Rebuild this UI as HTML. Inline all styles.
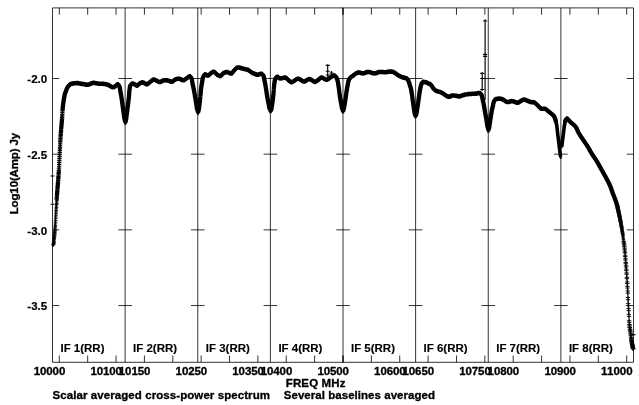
<!DOCTYPE html>
<html><head><meta charset="utf-8"><title>POSSM spectrum</title>
<style>
html,body{margin:0;padding:0;background:#fff;}
body{width:639px;height:405px;overflow:hidden;}
svg{display:block;filter:blur(0.35px);}
text{font-family:"Liberation Sans",sans-serif;font-weight:bold;font-size:11.5px;fill:#000;stroke:#000;stroke-width:0.32px;stroke-linejoin:round;}
text.pl{stroke-width:0.12px;}
text.yl{stroke-width:0.22px;}
.ax{stroke:#000;stroke-width:0.8;fill:none;}
.mk{stroke:#000;stroke-width:1.5;fill:none;}
.mk2{stroke:#000;stroke-width:1.4;fill:none;}
.mh2{stroke:#000;stroke-width:0.9;fill:none;}
.mh{stroke:#000;stroke-width:1.25;fill:none;}
.eb{stroke:#000;stroke-width:1.15;fill:none;}
</style></head><body>
<svg width="639" height="405" viewBox="0 0 639 405">
<rect width="639" height="405" fill="#fff"/>
<path class="ax" d="M52.5 7.9H633.5V362.3H52.5ZM125.12 7.9V362.3M197.75 7.9V362.3M270.38 7.9V362.3M343.00 7.9V362.3M415.62 7.9V362.3M488.25 7.9V362.3M560.88 7.9V362.3M52.5 78.50h6.8M633.5 78.50h-6.8M118.33 78.50h13.6M190.95 78.50h13.6M263.57 78.50h13.6M336.20 78.50h13.6M408.82 78.50h13.6M481.45 78.50h13.6M554.08 78.50h13.6M52.5 154.18h6.8M633.5 154.18h-6.8M118.33 154.18h13.6M190.95 154.18h13.6M263.57 154.18h13.6M336.20 154.18h13.6M408.82 154.18h13.6M481.45 154.18h13.6M554.08 154.18h13.6M52.5 229.86h6.8M633.5 229.86h-6.8M118.33 229.86h13.6M190.95 229.86h13.6M263.57 229.86h13.6M336.20 229.86h13.6M408.82 229.86h13.6M481.45 229.86h13.6M554.08 229.86h13.6M52.5 305.54h6.8M633.5 305.54h-6.8M118.33 305.54h13.6M190.95 305.54h13.6M263.57 305.54h13.6M336.20 305.54h13.6M408.82 305.54h13.6M481.45 305.54h13.6M554.08 305.54h13.6M59.31 7.9v6.8M59.31 362.3v-6.8M87.68 7.9v6.8M87.68 362.3v-6.8M116.05 7.9v6.8M116.05 362.3v-6.8M144.42 7.9v6.8M144.42 362.3v-6.8M172.79 7.9v6.8M172.79 362.3v-6.8M201.15 7.9v6.8M201.15 362.3v-6.8M229.52 7.9v6.8M229.52 362.3v-6.8M257.89 7.9v6.8M257.89 362.3v-6.8M286.26 7.9v6.8M286.26 362.3v-6.8M314.63 7.9v6.8M314.63 362.3v-6.8M343.00 7.9v6.8M343.00 362.3v-6.8M343.00 7.9v6.8M343.00 362.3v-6.8M371.37 7.9v6.8M371.37 362.3v-6.8M399.74 7.9v6.8M399.74 362.3v-6.8M428.11 7.9v6.8M428.11 362.3v-6.8M456.48 7.9v6.8M456.48 362.3v-6.8M484.85 7.9v6.8M484.85 362.3v-6.8M513.21 7.9v6.8M513.21 362.3v-6.8M541.58 7.9v6.8M541.58 362.3v-6.8M569.95 7.9v6.8M569.95 362.3v-6.8M598.32 7.9v6.8M598.32 362.3v-6.8M626.69 7.9v6.8M626.69 362.3v-6.8"/>
<path class="eb" d="M327.7 64.3V78M325.7 65.3h4M325.7 71.25h4M325.7 75h4M485.1 19.2V100M483.1 21h4M483.1 54.3h4M483.1 56.4h4M482.2 72.2V91M480.2 73.4h4M480.2 78.5h4M480.2 89.5h4M50.5 176h4M50.5 204.2h4M631.5 334.6h4M329.5 73h4M331.5 71v4"/>
<path class="mk" d="M56.69 196.98v4.2M56.79 195.97v4.2M56.88 194.60v4.2M56.98 193.00v4.2M57.07 191.78v4.2M57.17 190.63v4.2M57.26 189.33v4.2M57.36 188.18v4.2M57.45 186.77v4.2M57.55 185.76v4.2M57.64 184.56v4.2M57.74 183.28v4.2M57.83 182.28v4.2M57.93 181.29v4.2M58.02 180.15v4.2M58.12 178.88v4.2M58.21 177.76v4.2M58.30 176.35v4.2M58.40 175.21v4.2M58.49 174.17v4.2M58.59 172.69v4.2M58.68 171.21v4.2M58.78 169.90v4.2M58.87 168.43v4.2M58.97 166.74v4.2M59.06 164.69v4.2M59.16 162.62v4.2M59.25 160.51v4.2M59.35 158.52v4.2M59.44 156.46v4.2M59.54 154.46v4.2M59.63 152.55v4.2M59.73 150.41v4.2M59.82 148.46v4.2M59.92 146.80v4.2M60.01 145.02v4.2M60.10 143.01v4.2M60.20 141.12v4.2M60.29 139.29v4.2M60.39 137.75v4.2M60.48 136.35v4.2M60.58 134.77v4.2M60.67 133.26v4.2M60.77 132.05v4.2M60.86 130.53v4.2M60.96 129.42v4.2M61.05 128.43v4.2M61.15 127.14v4.2M61.24 125.98v4.2M61.34 124.80v4.2M61.43 123.82v4.2M61.53 122.89v4.2M61.62 121.40v4.2M61.72 120.57v4.2M61.81 119.42v4.2M61.90 118.23v4.2M62.00 116.90v4.2M62.09 115.60v4.2M62.19 114.08v4.2M62.28 112.49v4.2M62.38 110.64v4.2M62.47 108.86v4.2M62.57 107.92v4.2M62.66 106.65v4.2M62.76 105.45v4.2M62.85 104.61v4.2M62.95 103.71v4.2M63.04 102.83v4.2M63.14 102.05v4.2M63.23 101.39v4.2M63.33 100.73v4.2M63.42 100.07v4.2M63.52 99.38v4.2M63.61 98.61v4.2M63.70 98.11v4.2M63.80 97.53v4.2M63.89 97.14v4.2M63.99 96.70v4.2M64.08 96.13v4.2M64.18 95.59v4.2M64.27 95.05v4.2M64.37 94.29v4.2M64.46 94.01v4.2M64.56 93.45v4.2M64.65 92.76v4.2M64.75 92.32v4.2M64.84 91.95v4.2M64.94 91.92v4.2M65.03 91.41v4.2M65.13 91.06v4.2M65.22 91.00v4.2M65.31 90.63v4.2M65.41 90.26v4.2M65.50 90.03v4.2M65.60 89.91v4.2M65.69 89.49v4.2M65.79 89.26v4.2M65.88 89.16v4.2M65.98 88.78v4.2M66.07 88.45v4.2M66.17 88.25v4.2M66.26 87.81v4.2M66.36 87.71v4.2M66.45 87.48v4.2M66.55 87.17v4.2M66.64 86.92v4.2M66.74 87.03v4.2M66.83 86.67v4.2M66.93 86.35v4.2M67.02 86.31v4.2M67.11 86.21v4.2M67.21 85.71v4.2M67.30 85.53v4.2M67.40 85.41v4.2M67.49 85.47v4.2M67.59 85.08v4.2M67.68 85.14v4.2M67.78 84.97v4.2M67.87 84.77v4.2M67.97 84.48v4.2M68.06 84.63v4.2M68.16 84.41v4.2M68.25 84.16v4.2M68.35 83.90v4.2M68.44 83.94v4.2M68.54 83.70v4.2M68.63 83.65v4.2M68.73 83.43v4.2M68.82 83.44v4.2M68.91 83.11v4.2M69.01 83.11v4.2M69.10 83.28v4.2M69.20 83.16v4.2M69.29 82.84v4.2M69.39 82.97v4.2M69.48 82.67v4.2M69.58 82.84v4.2M69.67 82.68v4.2M69.77 82.47v4.2M69.86 82.33v4.2M69.96 82.17v4.2M70.05 82.45v4.2M70.15 82.05v4.2M70.24 82.30v4.2M70.34 82.31v4.2M70.43 82.10v4.2M70.53 81.90v4.2M70.62 82.14v4.2M70.71 82.15v4.2M70.81 82.00v4.2M70.90 81.89v4.2M71.00 81.81v4.2M71.09 81.76v4.2M71.19 81.68v4.2M71.28 81.84v4.2M71.38 81.71v4.2M71.47 81.59v4.2M71.57 81.53v4.2M71.66 81.73v4.2M71.76 81.56v4.2M71.85 81.62v4.2M71.95 81.52v4.2M72.04 81.72v4.2M72.14 81.71v4.2M72.23 81.34v4.2M72.32 81.40v4.2M72.42 81.43v4.2M72.51 81.67v4.2M72.61 81.58v4.2M72.70 81.38v4.2M72.80 81.32v4.2M72.89 81.49v4.2M72.99 81.54v4.2M73.08 81.56v4.2M73.18 81.31v4.2M73.27 81.51v4.2M73.37 81.42v4.2M73.46 81.32v4.2M73.56 81.51v4.2M73.65 81.20v4.2M73.75 81.38v4.2M73.84 81.11v4.2M73.94 81.13v4.2M74.03 81.41v4.2M74.12 81.12v4.2M74.22 81.32v4.2M74.31 81.25v4.2M74.41 81.33v4.2M74.50 81.13v4.2M74.60 81.11v4.2M74.69 81.07v4.2M74.79 81.29v4.2M74.88 81.18v4.2M74.98 81.31v4.2M75.07 81.27v4.2M75.17 80.96v4.2M75.26 81.11v4.2M75.36 80.92v4.2M75.45 80.89v4.2M75.55 80.89v4.2M75.64 81.20v4.2M75.74 81.16v4.2M75.83 81.17v4.2M75.92 80.97v4.2M76.02 81.07v4.2M76.11 81.14v4.2M76.21 80.97v4.2M76.30 81.04v4.2M76.40 80.90v4.2M76.49 80.84v4.2M76.59 80.91v4.2M76.68 81.16v4.2M76.78 81.03v4.2M76.87 81.17v4.2M76.97 80.98v4.2M77.06 80.91v4.2M77.16 81.12v4.2M77.25 81.14v4.2M77.35 80.82v4.2M77.44 81.09v4.2M77.54 80.86v4.2M77.63 80.88v4.2M77.72 81.19v4.2M77.82 80.87v4.2M77.91 80.96v4.2M78.01 81.27v4.2M78.10 81.05v4.2M78.20 80.94v4.2M78.29 80.98v4.2M78.39 81.02v4.2M78.48 81.24v4.2M78.58 80.99v4.2M78.67 81.33v4.2M78.77 81.14v4.2M78.86 81.39v4.2M78.96 81.38v4.2M79.05 81.15v4.2M79.15 81.16v4.2M79.24 81.26v4.2M79.33 81.13v4.2M79.43 81.37v4.2M79.52 81.15v4.2M79.62 81.15v4.2M79.71 81.56v4.2M79.81 81.31v4.2M79.90 81.45v4.2M80.00 81.41v4.2M80.09 81.38v4.2M80.19 81.30v4.2M80.28 81.66v4.2M80.38 81.70v4.2M80.47 81.72v4.2M80.57 81.40v4.2M80.66 81.46v4.2M80.76 81.64v4.2M80.85 81.80v4.2M80.95 81.65v4.2M81.04 81.72v4.2M81.13 81.73v4.2M81.23 81.59v4.2M81.32 81.72v4.2M81.42 81.64v4.2M81.51 81.64v4.2M81.61 81.59v4.2M81.70 81.68v4.2M81.80 81.98v4.2M81.89 81.78v4.2M81.99 81.87v4.2M82.08 81.89v4.2M82.18 82.02v4.2M82.27 81.82v4.2M82.37 81.80v4.2M82.46 81.82v4.2M82.56 81.83v4.2M82.65 82.06v4.2M82.75 82.10v4.2M82.84 81.88v4.2M82.93 81.91v4.2M83.03 82.01v4.2M83.12 82.04v4.2M83.22 82.07v4.2M83.31 81.94v4.2M83.41 81.87v4.2M83.50 81.98v4.2M83.60 81.93v4.2M83.69 82.14v4.2M83.79 81.97v4.2M83.88 81.98v4.2M83.98 82.23v4.2M84.07 82.11v4.2M84.17 82.33v4.2M84.26 82.22v4.2M84.36 82.39v4.2M84.45 82.12v4.2M84.55 82.28v4.2M84.64 82.41v4.2M84.73 82.14v4.2M84.83 82.51v4.2M84.92 82.21v4.2M85.02 82.47v4.2M85.11 82.57v4.2M85.21 82.52v4.2M85.30 82.33v4.2M85.40 82.26v4.2M85.49 82.44v4.2M85.59 82.62v4.2M85.68 82.38v4.2M85.78 82.63v4.2M85.87 82.34v4.2M85.97 82.66v4.2M86.06 82.32v4.2M86.16 82.45v4.2M86.25 82.69v4.2M86.34 82.66v4.2M86.44 82.71v4.2M86.53 82.69v4.2M86.63 82.66v4.2M86.72 82.65v4.2M86.82 82.45v4.2M86.91 82.56v4.2M87.01 82.45v4.2M87.10 82.68v4.2M87.20 82.66v4.2M87.29 82.50v4.2M87.39 82.43v4.2M87.48 82.79v4.2M87.58 82.72v4.2M87.67 82.62v4.2M87.77 82.61v4.2M87.86 82.72v4.2M87.96 82.55v4.2M88.05 82.52v4.2M88.14 82.48v4.2M88.24 82.43v4.2M88.33 82.32v4.2M88.43 82.55v4.2M88.52 82.43v4.2M88.62 82.47v4.2M88.71 82.24v4.2M88.81 82.33v4.2M88.90 82.21v4.2M89.00 82.18v4.2M89.09 82.20v4.2M89.19 82.39v4.2M89.28 82.18v4.2M89.38 82.15v4.2M89.47 82.20v4.2M89.57 82.01v4.2M89.66 81.88v4.2M89.76 82.05v4.2M89.85 82.00v4.2M89.94 82.01v4.2M90.04 81.89v4.2M90.13 81.95v4.2M90.23 81.92v4.2M90.32 81.68v4.2M90.42 81.74v4.2M90.51 81.69v4.2M90.61 81.55v4.2M90.70 81.58v4.2M90.80 81.60v4.2M90.89 81.69v4.2M90.99 81.65v4.2M91.08 81.35v4.2M91.18 81.46v4.2M91.27 81.18v4.2M91.37 81.15v4.2M91.46 81.28v4.2M91.56 81.39v4.2M91.65 81.06v4.2M91.74 81.27v4.2M91.84 81.28v4.2M91.93 81.01v4.2M92.03 81.13v4.2M92.12 81.16v4.2M92.22 80.94v4.2M92.31 81.04v4.2M92.41 81.02v4.2M92.50 80.93v4.2M92.60 81.01v4.2M92.69 81.00v4.2M92.79 81.01v4.2M92.88 80.83v4.2M92.98 80.65v4.2M93.07 80.66v4.2M93.17 80.63v4.2M93.26 80.76v4.2M93.35 80.82v4.2M93.45 80.53v4.2M93.54 80.78v4.2M93.64 80.79v4.2M93.73 80.64v4.2M93.83 80.71v4.2M93.92 80.57v4.2M94.02 80.80v4.2M94.11 80.53v4.2M94.21 80.91v4.2M94.30 80.86v4.2M94.40 80.79v4.2M94.49 80.66v4.2M94.59 80.94v4.2M94.68 80.97v4.2M94.78 80.66v4.2M94.87 80.93v4.2M94.97 80.98v4.2M95.06 80.92v4.2M95.15 80.96v4.2M95.25 80.88v4.2M95.34 81.09v4.2M95.44 81.13v4.2M95.53 80.92v4.2M95.63 81.11v4.2M95.72 80.99v4.2M95.82 80.91v4.2M95.91 81.00v4.2M96.01 80.94v4.2M96.10 81.28v4.2M96.20 81.33v4.2M96.29 81.02v4.2M96.39 81.23v4.2M96.48 81.18v4.2M96.58 81.09v4.2M96.67 81.18v4.2M96.77 81.19v4.2M96.86 81.41v4.2M96.95 81.13v4.2M97.05 81.23v4.2M97.14 81.35v4.2M97.24 81.20v4.2M97.33 81.46v4.2M97.43 81.47v4.2M97.52 81.58v4.2M97.62 81.34v4.2M97.71 81.38v4.2M97.81 81.50v4.2M97.90 81.40v4.2M98.00 81.53v4.2M98.09 81.41v4.2M98.19 81.59v4.2M98.28 81.64v4.2M98.38 81.65v4.2M98.47 81.72v4.2M98.57 81.56v4.2M98.66 81.54v4.2M98.75 81.69v4.2M98.85 81.66v4.2M98.94 81.59v4.2M99.04 81.52v4.2M99.13 81.49v4.2M99.23 81.42v4.2M99.32 81.70v4.2M99.42 81.43v4.2M99.51 81.69v4.2M99.61 81.61v4.2M99.70 81.78v4.2M99.80 81.71v4.2M99.89 81.79v4.2M99.99 81.46v4.2M100.08 81.61v4.2M100.18 81.64v4.2M100.27 81.54v4.2M100.36 81.62v4.2M100.46 81.57v4.2M100.55 81.64v4.2M100.65 81.43v4.2M100.74 81.61v4.2M100.84 81.62v4.2M100.93 81.56v4.2M101.03 81.60v4.2M101.12 81.76v4.2M101.22 81.72v4.2M101.31 81.65v4.2M101.41 81.71v4.2M101.50 81.61v4.2M101.60 81.54v4.2M101.69 81.46v4.2M101.79 81.58v4.2M101.88 81.71v4.2M101.98 81.83v4.2M102.07 81.81v4.2M102.16 81.68v4.2M102.26 81.88v4.2M102.35 81.67v4.2M102.45 81.82v4.2M102.54 81.66v4.2M102.64 81.80v4.2M102.73 81.90v4.2M102.83 81.63v4.2M102.92 81.58v4.2M103.02 81.77v4.2M103.11 81.73v4.2M103.21 81.67v4.2M103.30 81.53v4.2M103.40 81.69v4.2M103.49 81.71v4.2M103.59 81.71v4.2M103.68 81.90v4.2M103.78 81.80v4.2M103.87 81.86v4.2M103.96 81.94v4.2M104.06 81.88v4.2M104.15 81.79v4.2M104.25 81.90v4.2M104.34 81.86v4.2M104.44 81.88v4.2M104.53 81.88v4.2M104.63 81.80v4.2M104.72 81.91v4.2M104.82 81.92v4.2M104.91 82.06v4.2M105.01 82.01v4.2M105.10 82.06v4.2M105.20 82.04v4.2M105.29 82.08v4.2M105.39 82.02v4.2M105.48 81.94v4.2M105.58 81.93v4.2M105.67 82.13v4.2M105.76 82.22v4.2M105.86 82.11v4.2M105.95 81.98v4.2M106.05 82.28v4.2M106.14 82.16v4.2M106.24 82.18v4.2M106.33 82.04v4.2M106.43 82.26v4.2M106.52 82.38v4.2M106.62 82.28v4.2M106.71 82.28v4.2M106.81 82.44v4.2M106.90 82.21v4.2M107.00 82.44v4.2M107.09 82.65v4.2M107.19 82.58v4.2M107.28 82.49v4.2M107.37 82.64v4.2M107.47 82.64v4.2M107.56 82.51v4.2M107.66 82.55v4.2M107.75 82.85v4.2M107.85 82.64v4.2M107.94 82.60v4.2M108.04 82.93v4.2M108.13 82.84v4.2M108.23 82.81v4.2M108.32 82.91v4.2M108.42 83.03v4.2M108.51 82.84v4.2M108.61 83.06v4.2M108.70 83.12v4.2M108.80 83.20v4.2M108.89 83.03v4.2M108.99 83.21v4.2M109.08 83.10v4.2M109.17 83.28v4.2M109.27 83.18v4.2M109.36 83.48v4.2M109.46 83.56v4.2M109.55 83.41v4.2M109.65 83.42v4.2M109.74 83.78v4.2M109.84 83.73v4.2M109.93 83.85v4.2M110.03 83.59v4.2M110.12 84.00v4.2M110.22 83.95v4.2M110.31 83.89v4.2M110.41 84.00v4.2M110.50 84.20v4.2M110.60 84.27v4.2M110.69 84.10v4.2M110.79 84.34v4.2M110.88 84.21v4.2M110.97 84.60v4.2M111.07 84.45v4.2M111.16 84.69v4.2M111.26 84.68v4.2M111.35 84.69v4.2M111.45 84.60v4.2M111.54 84.76v4.2M111.64 84.66v4.2M111.73 84.71v4.2M111.83 84.98v4.2M111.92 84.88v4.2M112.02 85.08v4.2M112.11 84.91v4.2M112.21 85.14v4.2M112.30 85.17v4.2M112.40 85.03v4.2M112.49 84.98v4.2M112.59 85.12v4.2M112.68 85.17v4.2M112.77 85.03v4.2M112.87 85.07v4.2M112.96 85.02v4.2M113.06 85.24v4.2M113.15 85.35v4.2M113.25 85.07v4.2M113.34 84.98v4.2M113.44 85.22v4.2M113.53 85.24v4.2M113.63 85.27v4.2M113.72 85.09v4.2M113.82 84.95v4.2M113.91 85.10v4.2M114.01 84.77v4.2M114.10 84.95v4.2M114.20 84.66v4.2M114.29 84.73v4.2M114.38 84.71v4.2M114.48 84.61v4.2M114.57 84.47v4.2M114.67 84.43v4.2M114.76 84.61v4.2M114.86 84.40v4.2M114.95 84.39v4.2M115.05 84.18v4.2M115.14 84.32v4.2M115.24 84.10v4.2M115.33 84.14v4.2M115.43 84.21v4.2M115.52 84.18v4.2M115.62 83.74v4.2M115.71 83.96v4.2M115.81 83.90v4.2M115.90 83.60v4.2M116.00 83.52v4.2M116.09 83.50v4.2M116.18 83.53v4.2M116.28 83.21v4.2M116.37 83.29v4.2M116.47 83.13v4.2M116.56 82.78v4.2M116.66 82.98v4.2M116.75 82.51v4.2M116.85 82.47v4.2M116.94 82.58v4.2M117.04 82.25v4.2M117.13 82.30v4.2M117.23 82.13v4.2M117.32 82.20v4.2M117.42 82.30v4.2M117.51 82.29v4.2M117.61 81.92v4.2M117.70 81.92v4.2M117.80 82.25v4.2M117.89 81.95v4.2M117.98 82.09v4.2M118.08 82.09v4.2M118.17 82.15v4.2M118.27 82.22v4.2M118.36 82.56v4.2M118.46 82.72v4.2M118.55 82.83v4.2M118.65 83.04v4.2M118.74 83.12v4.2M118.84 83.18v4.2M118.93 83.45v4.2M119.03 83.78v4.2M119.12 83.84v4.2M119.22 83.89v4.2M119.31 84.03v4.2M119.41 84.60v4.2M119.50 84.69v4.2M119.60 84.83v4.2M119.69 85.22v4.2M119.78 85.59v4.2M119.88 86.06v4.2M119.97 86.41v4.2M120.07 87.12v4.2M120.16 87.76v4.2M120.26 88.30v4.2M120.35 89.18v4.2M120.45 89.57v4.2M120.54 90.20v4.2M120.64 90.73v4.2M120.73 91.25v4.2M120.83 91.74v4.2M120.92 92.26v4.2M121.02 92.57v4.2M121.11 93.38v4.2M121.21 93.60v4.2M121.30 94.47v4.2M121.39 95.03v4.2M121.49 95.64v4.2M121.58 95.94v4.2M121.68 96.60v4.2M121.77 97.54v4.2M121.87 98.07v4.2M121.96 98.71v4.2M122.06 99.64v4.2M122.15 99.96v4.2M122.25 100.85v4.2M122.34 101.51v4.2M122.44 102.09v4.2M122.53 102.89v4.2M122.63 103.72v4.2M122.72 104.48v4.2M122.82 104.83v4.2M122.91 105.71v4.2M123.01 106.23v4.2M123.10 107.20v4.2M123.19 107.60v4.2M123.29 108.28v4.2M123.38 109.11v4.2M123.48 109.95v4.2M123.57 110.48v4.2M123.67 111.10v4.2M123.76 112.07v4.2M123.86 112.78v4.2M123.95 113.50v4.2M124.05 113.98v4.2M124.14 114.74v4.2M124.24 115.38v4.2M124.33 116.21v4.2M124.43 116.84v4.2M124.52 117.56v4.2M124.62 118.45v4.2M124.71 119.24v4.2M124.81 119.81v4.2M124.90 120.34v4.2M125.60 120.56v4.2M125.69 119.86v4.2M125.79 119.44v4.2M125.88 118.69v4.2M125.98 118.09v4.2M126.07 117.37v4.2M126.17 116.64v4.2M126.26 116.11v4.2M126.36 115.40v4.2M126.45 114.50v4.2M126.55 113.75v4.2M126.64 113.13v4.2M126.74 112.48v4.2M126.83 111.59v4.2M126.93 110.96v4.2M127.02 110.33v4.2M127.12 109.38v4.2M127.21 108.94v4.2M127.31 108.13v4.2M127.40 107.24v4.2M127.49 106.48v4.2M127.59 105.74v4.2M127.68 104.96v4.2M127.78 104.36v4.2M127.87 103.48v4.2M127.97 102.71v4.2M128.06 101.77v4.2M128.16 101.28v4.2M128.25 100.23v4.2M128.35 99.41v4.2M128.44 98.47v4.2M128.54 97.98v4.2M128.63 96.90v4.2M128.73 96.18v4.2M128.82 95.26v4.2M128.92 94.33v4.2M129.01 93.20v4.2M129.11 92.09v4.2M129.20 90.92v4.2M129.29 89.78v4.2M129.39 88.59v4.2M129.48 87.97v4.2M129.58 87.21v4.2M129.67 86.63v4.2M129.77 85.84v4.2M129.86 85.17v4.2M129.96 84.63v4.2M130.05 84.03v4.2M130.15 83.94v4.2M130.24 83.64v4.2M130.34 83.38v4.2M130.43 83.25v4.2M130.53 83.31v4.2M130.62 82.99v4.2M130.72 82.72v4.2M130.81 82.58v4.2M130.90 82.68v4.2M131.00 82.51v4.2M131.09 82.54v4.2M131.19 82.15v4.2M131.28 82.15v4.2M131.38 82.19v4.2M131.47 81.83v4.2M131.57 81.78v4.2M131.66 81.88v4.2M131.76 81.71v4.2M131.85 81.59v4.2M131.95 81.60v4.2M132.04 81.70v4.2M132.14 81.62v4.2M132.23 81.41v4.2M132.33 81.38v4.2M132.42 81.67v4.2M132.52 81.57v4.2M132.61 81.37v4.2M132.70 81.64v4.2M132.80 81.31v4.2M132.89 81.46v4.2M132.99 81.66v4.2M133.08 81.62v4.2M133.18 81.47v4.2M133.27 81.74v4.2M133.37 81.64v4.2M133.46 81.78v4.2M133.56 81.83v4.2M133.65 81.67v4.2M133.75 81.81v4.2M133.84 81.80v4.2M133.94 82.01v4.2M134.03 81.99v4.2M134.13 82.01v4.2M134.22 82.09v4.2M134.32 82.22v4.2M134.41 81.97v4.2M134.50 82.01v4.2M134.60 82.28v4.2M134.69 82.34v4.2M134.79 82.29v4.2M134.88 82.34v4.2M134.98 82.36v4.2M135.07 82.61v4.2M135.17 82.63v4.2M135.26 82.60v4.2M135.36 82.44v4.2M135.45 82.81v4.2M135.55 82.71v4.2M135.64 82.67v4.2M135.74 82.79v4.2M135.83 83.02v4.2M135.93 82.84v4.2M136.02 82.97v4.2M136.12 83.14v4.2M136.21 83.46v4.2M136.30 83.49v4.2M136.40 83.66v4.2M136.49 83.56v4.2M136.59 83.63v4.2M136.68 83.67v4.2M136.78 83.69v4.2M136.87 83.72v4.2M136.97 83.82v4.2M137.06 83.86v4.2M137.16 83.61v4.2M137.25 83.66v4.2M137.35 83.47v4.2M137.44 83.41v4.2M137.54 83.41v4.2M137.63 83.36v4.2M137.73 83.26v4.2M137.82 83.33v4.2M137.91 82.91v4.2M138.01 82.99v4.2M138.10 83.02v4.2M138.20 82.81v4.2M138.29 82.62v4.2M138.39 82.43v4.2M138.48 82.33v4.2M138.58 82.43v4.2M138.67 82.31v4.2M138.77 82.11v4.2M138.86 82.10v4.2M138.96 82.02v4.2M139.05 81.90v4.2M139.15 81.63v4.2M139.24 81.59v4.2M139.34 81.66v4.2M139.43 81.43v4.2M139.53 81.53v4.2M139.62 81.37v4.2M139.71 81.26v4.2M139.81 81.26v4.2M139.90 81.07v4.2M140.00 81.11v4.2M140.09 81.08v4.2M140.19 80.87v4.2M140.28 80.89v4.2M140.38 80.87v4.2M140.47 81.06v4.2M140.57 80.91v4.2M140.66 80.74v4.2M140.76 80.98v4.2M140.85 80.64v4.2M140.95 80.70v4.2M141.04 80.74v4.2M141.14 80.69v4.2M141.23 80.54v4.2M141.33 80.65v4.2M141.42 80.50v4.2M141.51 80.56v4.2M141.61 80.44v4.2M141.70 80.60v4.2M141.80 80.48v4.2M141.89 80.20v4.2M141.99 80.20v4.2M142.08 80.52v4.2M142.18 80.21v4.2M142.27 80.12v4.2M142.37 80.20v4.2M142.46 80.29v4.2M142.56 80.48v4.2M142.65 80.27v4.2M142.75 80.41v4.2M142.84 80.47v4.2M142.94 80.19v4.2M143.03 80.42v4.2M143.13 80.60v4.2M143.22 80.45v4.2M143.31 80.48v4.2M143.41 80.44v4.2M143.50 80.72v4.2M143.60 80.78v4.2M143.69 80.48v4.2M143.79 80.70v4.2M143.88 80.70v4.2M143.98 80.85v4.2M144.07 80.69v4.2M144.17 80.80v4.2M144.26 80.86v4.2M144.36 81.00v4.2M144.45 81.19v4.2M144.55 81.27v4.2M144.64 81.30v4.2M144.74 81.32v4.2M144.83 81.14v4.2M144.92 81.32v4.2M145.02 81.49v4.2M145.11 81.40v4.2M145.21 81.54v4.2M145.30 81.76v4.2M145.40 81.50v4.2M145.49 81.85v4.2M145.59 81.60v4.2M145.68 81.76v4.2M145.78 82.01v4.2M145.87 81.77v4.2M145.97 81.94v4.2M146.06 81.94v4.2M146.16 82.16v4.2M146.25 82.24v4.2M146.35 81.98v4.2M146.44 82.09v4.2M146.54 82.27v4.2M146.63 82.15v4.2M146.72 82.03v4.2M146.82 82.25v4.2M146.91 82.08v4.2M147.01 82.14v4.2M147.10 81.94v4.2M147.20 82.31v4.2M147.29 82.15v4.2M147.39 82.22v4.2M147.48 82.20v4.2M147.58 81.87v4.2M147.67 81.93v4.2M147.77 81.83v4.2M147.86 81.90v4.2M147.96 81.87v4.2M148.05 81.56v4.2M148.15 81.50v4.2M148.24 81.60v4.2M148.34 81.40v4.2M148.43 81.21v4.2M148.52 81.15v4.2M148.62 81.21v4.2M148.71 81.14v4.2M148.81 81.20v4.2M148.90 80.94v4.2M149.00 80.88v4.2M149.09 80.61v4.2M149.19 80.63v4.2M149.28 80.49v4.2M149.38 80.57v4.2M149.47 80.32v4.2M149.57 80.22v4.2M149.66 80.20v4.2M149.76 80.17v4.2M149.85 80.04v4.2M149.95 80.08v4.2M150.04 79.84v4.2M150.14 80.06v4.2M150.23 79.91v4.2M150.32 79.78v4.2M150.42 79.51v4.2M150.51 79.54v4.2M150.61 79.61v4.2M150.70 79.51v4.2M150.80 79.50v4.2M150.89 79.45v4.2M150.99 79.13v4.2M151.08 79.12v4.2M151.18 78.97v4.2M151.27 78.81v4.2M151.37 78.73v4.2M151.46 78.69v4.2M151.56 78.54v4.2M151.65 78.64v4.2M151.75 78.62v4.2M151.84 78.49v4.2M151.93 78.46v4.2M152.03 78.20v4.2M152.12 78.11v4.2M152.22 78.19v4.2M152.31 78.24v4.2M152.41 77.99v4.2M152.50 77.76v4.2M152.60 77.70v4.2M152.69 77.76v4.2M152.79 77.83v4.2M152.88 77.57v4.2M152.98 77.58v4.2M153.07 77.72v4.2M153.17 77.80v4.2M153.26 77.52v4.2M153.36 77.59v4.2M153.45 77.54v4.2M153.55 77.32v4.2M153.64 77.44v4.2M153.73 77.36v4.2M153.83 77.40v4.2M153.92 77.62v4.2M154.02 77.59v4.2M154.11 77.35v4.2M154.21 77.38v4.2M154.30 77.67v4.2M154.40 77.44v4.2M154.49 77.56v4.2M154.59 77.57v4.2M154.68 77.52v4.2M154.78 77.55v4.2M154.87 77.63v4.2M154.97 77.77v4.2M155.06 78.03v4.2M155.16 77.95v4.2M155.25 77.84v4.2M155.35 78.06v4.2M155.44 77.94v4.2M155.53 78.09v4.2M155.63 78.05v4.2M155.72 78.35v4.2M155.82 78.16v4.2M155.91 78.38v4.2M156.01 78.36v4.2M156.10 78.48v4.2M156.20 78.42v4.2M156.29 78.56v4.2M156.39 78.42v4.2M156.48 78.57v4.2M156.58 78.59v4.2M156.67 78.60v4.2M156.77 78.66v4.2M156.86 78.69v4.2M156.96 78.69v4.2M157.05 78.94v4.2M157.15 78.88v4.2M157.24 78.90v4.2M157.33 78.76v4.2M157.43 78.99v4.2M157.52 78.91v4.2M157.62 78.98v4.2M157.71 79.13v4.2M157.81 79.22v4.2M157.90 79.16v4.2M158.00 79.22v4.2M158.09 79.38v4.2M158.19 79.40v4.2M158.28 79.43v4.2M158.38 79.36v4.2M158.47 79.51v4.2M158.57 79.67v4.2M158.66 79.67v4.2M158.76 79.71v4.2M158.85 79.87v4.2M158.94 79.86v4.2M159.04 79.88v4.2M159.13 79.66v4.2M159.23 79.80v4.2M159.32 79.97v4.2M159.42 79.79v4.2M159.51 80.11v4.2M159.61 79.82v4.2M159.70 80.13v4.2M159.80 79.88v4.2M159.89 80.13v4.2M159.99 80.14v4.2M160.08 79.93v4.2M160.18 80.14v4.2M160.27 79.83v4.2M160.37 80.08v4.2M160.46 79.86v4.2M160.56 79.84v4.2M160.65 79.67v4.2M160.74 79.81v4.2M160.84 79.62v4.2M160.93 79.72v4.2M161.03 79.71v4.2M161.12 79.57v4.2M161.22 79.27v4.2M161.31 79.58v4.2M161.41 79.49v4.2M161.50 79.32v4.2M161.60 79.14v4.2M161.69 79.15v4.2M161.79 79.21v4.2M161.88 78.98v4.2M161.98 79.05v4.2M162.07 78.93v4.2M162.17 78.80v4.2M162.26 78.96v4.2M162.36 78.71v4.2M162.45 78.76v4.2M162.54 78.51v4.2M162.64 78.65v4.2M162.73 78.45v4.2M162.83 78.69v4.2M162.92 78.38v4.2M163.02 78.37v4.2M163.11 78.37v4.2M163.21 78.36v4.2M163.30 78.48v4.2M163.40 78.39v4.2M163.49 78.33v4.2M163.59 78.59v4.2M163.68 78.54v4.2M163.78 78.41v4.2M163.87 78.45v4.2M163.97 78.44v4.2M164.06 78.18v4.2M164.16 78.39v4.2M164.25 78.14v4.2M164.34 78.25v4.2M164.44 78.15v4.2M164.53 78.06v4.2M164.63 78.29v4.2M164.72 78.33v4.2M164.82 78.08v4.2M164.91 78.29v4.2M165.01 78.07v4.2M165.10 78.19v4.2M165.20 78.31v4.2M165.29 78.22v4.2M165.39 77.93v4.2M165.48 78.08v4.2M165.58 78.05v4.2M165.67 78.02v4.2M165.77 78.23v4.2M165.86 78.08v4.2M165.95 78.19v4.2M166.05 78.17v4.2M166.14 78.14v4.2M166.24 77.96v4.2M166.33 78.22v4.2M166.43 78.32v4.2M166.52 78.05v4.2M166.62 78.25v4.2M166.71 78.21v4.2M166.81 78.17v4.2M166.90 78.33v4.2M167.00 78.46v4.2M167.09 78.10v4.2M167.19 78.47v4.2M167.28 78.29v4.2M167.38 78.49v4.2M167.47 78.25v4.2M167.57 78.49v4.2M167.66 78.27v4.2M167.75 78.38v4.2M167.85 78.66v4.2M167.94 78.56v4.2M168.04 78.64v4.2M168.13 78.53v4.2M168.23 78.56v4.2M168.32 78.59v4.2M168.42 78.73v4.2M168.51 78.73v4.2M168.61 78.54v4.2M168.70 78.66v4.2M168.80 78.73v4.2M168.89 78.76v4.2M168.99 78.93v4.2M169.08 78.93v4.2M169.18 78.68v4.2M169.27 78.80v4.2M169.37 78.73v4.2M169.46 78.73v4.2M169.55 78.79v4.2M169.65 78.87v4.2M169.74 79.14v4.2M169.84 79.14v4.2M169.93 79.23v4.2M170.03 79.06v4.2M170.12 79.05v4.2M170.22 79.41v4.2M170.31 79.39v4.2M170.41 79.48v4.2M170.50 79.14v4.2M170.60 79.33v4.2M170.69 79.46v4.2M170.79 79.53v4.2M170.88 79.63v4.2M170.98 79.51v4.2M171.07 79.48v4.2M171.17 79.35v4.2M171.26 79.69v4.2M171.35 79.79v4.2M171.45 79.77v4.2M171.54 79.69v4.2M171.64 79.57v4.2M171.73 79.54v4.2M171.83 79.76v4.2M171.92 79.82v4.2M172.02 79.83v4.2M172.11 79.50v4.2M172.21 79.64v4.2M172.30 79.58v4.2M172.40 79.50v4.2M172.49 79.61v4.2M172.59 79.61v4.2M172.68 79.47v4.2M172.78 79.40v4.2M172.87 79.33v4.2M172.96 79.24v4.2M173.06 79.12v4.2M173.15 78.92v4.2M173.25 79.05v4.2M173.34 78.71v4.2M173.44 78.83v4.2M173.53 78.64v4.2M173.63 78.62v4.2M173.72 78.57v4.2M173.82 78.41v4.2M173.91 78.53v4.2M174.01 78.15v4.2M174.10 77.97v4.2M174.20 78.26v4.2M174.29 77.93v4.2M174.39 77.84v4.2M174.48 77.82v4.2M174.58 77.82v4.2M174.67 77.91v4.2M174.76 77.74v4.2M174.86 77.53v4.2M174.95 77.57v4.2M175.05 77.50v4.2M175.14 77.49v4.2M175.24 77.42v4.2M175.33 77.28v4.2M175.43 77.34v4.2M175.52 77.31v4.2M175.62 77.20v4.2M175.71 77.41v4.2M175.81 77.20v4.2M175.90 77.08v4.2M176.00 77.21v4.2M176.09 77.29v4.2M176.19 77.24v4.2M176.28 77.14v4.2M176.38 77.16v4.2M176.47 76.97v4.2M176.56 76.86v4.2M176.66 76.88v4.2M176.75 76.89v4.2M176.85 76.83v4.2M176.94 76.88v4.2M177.04 76.73v4.2M177.13 76.70v4.2M177.23 76.72v4.2M177.32 76.68v4.2M177.42 76.90v4.2M177.51 76.77v4.2M177.61 76.62v4.2M177.70 76.69v4.2M177.80 76.85v4.2M177.89 76.72v4.2M177.99 76.69v4.2M178.08 76.61v4.2M178.18 76.52v4.2M178.27 76.69v4.2M178.36 76.46v4.2M178.46 76.73v4.2M178.55 76.43v4.2M178.65 76.70v4.2M178.74 76.56v4.2M178.84 76.67v4.2M178.93 76.64v4.2M179.03 76.46v4.2M179.12 76.63v4.2M179.22 76.45v4.2M179.31 76.54v4.2M179.41 76.61v4.2M179.50 76.59v4.2M179.60 76.77v4.2M179.69 76.93v4.2M179.79 76.71v4.2M179.88 76.94v4.2M179.97 76.73v4.2M180.07 76.96v4.2M180.16 76.86v4.2M180.26 76.97v4.2M180.35 76.84v4.2M180.45 77.18v4.2M180.54 76.98v4.2M180.64 77.13v4.2M180.73 77.11v4.2M180.83 77.37v4.2M180.92 77.33v4.2M181.02 77.39v4.2M181.11 77.50v4.2M181.21 77.35v4.2M181.30 77.32v4.2M181.40 77.68v4.2M181.49 77.52v4.2M181.59 77.77v4.2M181.68 77.87v4.2M181.77 77.79v4.2M181.87 77.62v4.2M181.96 77.97v4.2M182.06 77.92v4.2M182.15 77.80v4.2M182.25 77.82v4.2M182.34 77.98v4.2M182.44 77.86v4.2M182.53 78.20v4.2M182.63 78.15v4.2M182.72 78.21v4.2M182.82 78.06v4.2M182.91 78.29v4.2M183.01 77.99v4.2M183.10 78.23v4.2M183.20 78.05v4.2M183.29 77.95v4.2M183.39 77.99v4.2M183.48 78.02v4.2M183.57 78.23v4.2M183.67 78.05v4.2M183.76 78.07v4.2M183.86 78.10v4.2M183.95 77.93v4.2M184.05 78.04v4.2M184.14 78.01v4.2M184.24 78.07v4.2M184.33 77.86v4.2M184.43 77.95v4.2M184.52 77.94v4.2M184.62 77.81v4.2M184.71 77.61v4.2M184.81 77.49v4.2M184.90 77.36v4.2M185.00 77.59v4.2M185.09 77.24v4.2M185.19 77.35v4.2M185.28 77.24v4.2M185.37 77.01v4.2M185.47 77.00v4.2M185.56 77.17v4.2M185.66 76.99v4.2M185.75 77.07v4.2M185.85 76.99v4.2M185.94 76.59v4.2M186.04 76.76v4.2M186.13 76.43v4.2M186.23 76.51v4.2M186.32 76.45v4.2M186.42 76.58v4.2M186.51 76.37v4.2M186.61 76.14v4.2M186.70 76.20v4.2M186.80 76.14v4.2M186.89 75.95v4.2M186.98 75.95v4.2M187.08 76.10v4.2M187.17 76.08v4.2M187.27 75.92v4.2M187.36 75.57v4.2M187.46 75.83v4.2M187.55 75.57v4.2M187.65 75.64v4.2M187.74 75.29v4.2M187.84 75.19v4.2M187.93 75.41v4.2M188.03 75.08v4.2M188.12 74.90v4.2M188.22 74.99v4.2M188.31 75.11v4.2M188.41 74.96v4.2M188.50 74.70v4.2M188.60 74.87v4.2M188.69 74.71v4.2M188.78 74.66v4.2M188.88 74.51v4.2M188.97 74.35v4.2M189.07 74.50v4.2M189.16 74.27v4.2M189.26 74.41v4.2M189.35 74.21v4.2M189.45 74.32v4.2M189.54 74.12v4.2M189.64 74.08v4.2M189.73 74.14v4.2M189.83 74.03v4.2M189.92 73.97v4.2M190.02 74.18v4.2M190.11 74.33v4.2M190.21 74.17v4.2M190.30 74.48v4.2M190.40 74.55v4.2M190.49 74.65v4.2M190.58 74.63v4.2M190.68 75.00v4.2M190.77 75.06v4.2M190.87 75.13v4.2M190.96 75.12v4.2M191.06 75.48v4.2M191.15 75.45v4.2M191.25 76.00v4.2M191.34 75.99v4.2M191.44 76.21v4.2M191.53 76.51v4.2M191.63 76.77v4.2M191.72 76.99v4.2M191.82 77.28v4.2M191.91 77.77v4.2M192.01 78.37v4.2M192.10 78.79v4.2M192.20 79.42v4.2M192.29 80.17v4.2M192.38 80.46v4.2M192.48 81.11v4.2M192.57 81.70v4.2M192.67 82.12v4.2M192.76 82.83v4.2M192.86 82.95v4.2M192.95 83.33v4.2M193.05 83.81v4.2M193.14 84.28v4.2M193.24 84.80v4.2M193.33 85.28v4.2M193.43 85.63v4.2M193.52 85.97v4.2M193.62 86.19v4.2M193.71 86.68v4.2M193.81 87.38v4.2M193.90 87.95v4.2M193.99 88.23v4.2M194.09 89.03v4.2M194.18 89.38v4.2M194.28 89.92v4.2M194.37 90.47v4.2M194.47 90.79v4.2M194.56 91.38v4.2M194.66 92.24v4.2M194.75 92.53v4.2M194.85 93.02v4.2M194.94 93.66v4.2M195.04 94.40v4.2M195.13 94.79v4.2M195.23 95.34v4.2M195.32 95.94v4.2M195.42 96.60v4.2M195.51 97.28v4.2M195.61 97.69v4.2M195.70 98.50v4.2M195.79 99.14v4.2M195.89 99.67v4.2M195.98 99.97v4.2M196.08 100.67v4.2M196.17 101.52v4.2M196.27 102.11v4.2M196.36 102.44v4.2M196.46 103.18v4.2M196.55 103.77v4.2M196.65 104.56v4.2M196.74 104.90v4.2M196.84 105.65v4.2M196.93 106.47v4.2M197.03 107.17v4.2M197.12 107.48v4.2M197.22 108.35v4.2M197.31 109.04v4.2M197.41 109.78v4.2M197.50 110.27v4.2M198.30 110.49v4.2M198.39 109.65v4.2M198.49 109.06v4.2M198.58 108.48v4.2M198.68 108.06v4.2M198.77 107.25v4.2M198.87 106.66v4.2M198.96 105.96v4.2M199.06 105.22v4.2M199.15 104.88v4.2M199.25 103.90v4.2M199.34 103.41v4.2M199.44 102.56v4.2M199.53 101.59v4.2M199.63 101.09v4.2M199.72 99.92v4.2M199.82 99.49v4.2M199.91 98.29v4.2M200.01 97.55v4.2M200.10 96.82v4.2M200.19 95.75v4.2M200.29 95.15v4.2M200.38 93.88v4.2M200.48 93.11v4.2M200.57 91.69v4.2M200.67 90.77v4.2M200.76 89.54v4.2M200.86 88.52v4.2M200.95 87.62v4.2M201.05 86.69v4.2M201.14 85.93v4.2M201.24 85.34v4.2M201.33 84.50v4.2M201.43 83.88v4.2M201.52 83.50v4.2M201.62 82.78v4.2M201.71 82.49v4.2M201.80 81.75v4.2M201.90 81.22v4.2M201.99 80.49v4.2M202.09 79.92v4.2M202.18 79.35v4.2M202.28 78.94v4.2M202.37 78.34v4.2M202.47 77.86v4.2M202.56 77.09v4.2M202.66 76.69v4.2M202.75 76.10v4.2M202.85 75.64v4.2M202.94 75.51v4.2M203.04 75.37v4.2M203.13 75.17v4.2M203.23 75.00v4.2M203.32 74.72v4.2M203.42 74.40v4.2M203.51 74.18v4.2M203.60 73.95v4.2M203.70 73.75v4.2M203.79 73.64v4.2M203.89 73.42v4.2M203.98 73.37v4.2M204.08 73.05v4.2M204.17 72.91v4.2M204.27 72.92v4.2M204.36 72.74v4.2M204.46 72.57v4.2M204.55 72.49v4.2M204.65 72.50v4.2M204.74 72.36v4.2M204.84 72.17v4.2M204.93 72.15v4.2M205.03 72.25v4.2M205.12 72.02v4.2M205.21 72.19v4.2M205.31 72.38v4.2M205.40 72.14v4.2M205.50 72.25v4.2M205.59 72.39v4.2M205.69 72.52v4.2M205.78 72.47v4.2M205.88 72.50v4.2M205.97 72.45v4.2M206.07 72.53v4.2M206.16 72.68v4.2M206.26 72.62v4.2M206.35 72.86v4.2M206.45 72.62v4.2M206.54 72.98v4.2M206.64 73.04v4.2M206.73 72.93v4.2M206.83 72.88v4.2M206.92 73.07v4.2M207.01 73.23v4.2M207.11 73.36v4.2M207.20 73.45v4.2M207.30 73.23v4.2M207.39 73.22v4.2M207.49 73.27v4.2M207.58 73.65v4.2M207.68 73.53v4.2M207.77 73.34v4.2M207.87 73.58v4.2M207.96 73.68v4.2M208.06 73.53v4.2M208.15 73.36v4.2M208.25 73.62v4.2M208.34 73.47v4.2M208.44 73.21v4.2M208.53 73.39v4.2M208.62 73.22v4.2M208.72 73.18v4.2M208.81 73.02v4.2M208.91 72.91v4.2M209.00 72.87v4.2M209.10 72.83v4.2M209.19 72.71v4.2M209.29 72.78v4.2M209.38 72.37v4.2M209.48 72.32v4.2M209.57 72.52v4.2M209.67 72.29v4.2M209.76 72.19v4.2M209.86 72.10v4.2M209.95 71.86v4.2M210.05 71.83v4.2M210.14 71.67v4.2M210.24 71.56v4.2M210.33 71.82v4.2M210.42 71.65v4.2M210.52 71.64v4.2M210.61 71.22v4.2M210.71 71.44v4.2M210.80 71.21v4.2M210.90 71.21v4.2M210.99 71.21v4.2M211.09 70.88v4.2M211.18 70.94v4.2M211.28 70.94v4.2M211.37 70.99v4.2M211.47 70.77v4.2M211.56 70.62v4.2M211.66 70.65v4.2M211.75 70.57v4.2M211.85 70.38v4.2M211.94 70.41v4.2M212.03 70.24v4.2M212.13 70.06v4.2M212.22 70.11v4.2M212.32 69.96v4.2M212.41 70.06v4.2M212.51 70.01v4.2M212.60 70.10v4.2M212.70 70.00v4.2M212.79 69.96v4.2M212.89 70.01v4.2M212.98 69.68v4.2M213.08 69.69v4.2M213.17 69.60v4.2M213.27 69.53v4.2M213.36 69.68v4.2M213.46 69.66v4.2M213.55 69.50v4.2M213.65 69.82v4.2M213.74 69.85v4.2M213.83 69.50v4.2M213.93 69.50v4.2M214.02 69.56v4.2M214.12 69.87v4.2M214.21 69.96v4.2M214.31 69.70v4.2M214.40 69.74v4.2M214.50 70.02v4.2M214.59 70.01v4.2M214.69 69.96v4.2M214.78 70.04v4.2M214.88 70.20v4.2M214.97 70.29v4.2M215.07 70.42v4.2M215.16 70.62v4.2M215.26 70.60v4.2M215.35 70.69v4.2M215.44 70.78v4.2M215.54 71.16v4.2M215.63 71.01v4.2M215.73 71.24v4.2M215.82 71.30v4.2M215.92 71.36v4.2M216.01 71.50v4.2M216.11 71.45v4.2M216.20 71.62v4.2M216.30 71.91v4.2M216.39 72.05v4.2M216.49 71.94v4.2M216.58 72.01v4.2M216.68 72.40v4.2M216.77 72.17v4.2M216.87 72.53v4.2M216.96 72.64v4.2M217.06 72.43v4.2M217.15 72.77v4.2M217.24 72.57v4.2M217.34 72.58v4.2M217.43 72.73v4.2M217.53 72.81v4.2M217.62 72.96v4.2M217.72 72.96v4.2M217.81 73.15v4.2M217.91 73.16v4.2M218.00 73.00v4.2M218.10 73.09v4.2M218.19 73.36v4.2M218.29 73.16v4.2M218.38 73.55v4.2M218.48 73.55v4.2M218.57 73.36v4.2M218.67 73.44v4.2M218.76 73.48v4.2M218.85 73.59v4.2M218.95 73.57v4.2M219.04 73.52v4.2M219.14 73.65v4.2M219.23 73.67v4.2M219.33 73.77v4.2M219.42 73.84v4.2M219.52 74.04v4.2M219.61 73.98v4.2M219.71 73.99v4.2M219.80 74.11v4.2M219.90 73.93v4.2M219.99 73.96v4.2M220.09 73.89v4.2M220.18 74.13v4.2M220.28 74.15v4.2M220.37 74.15v4.2M220.47 74.00v4.2M220.56 73.76v4.2M220.65 73.70v4.2M220.75 73.93v4.2M220.84 73.91v4.2M220.94 73.69v4.2M221.03 73.77v4.2M221.13 73.68v4.2M221.22 73.52v4.2M221.32 73.27v4.2M221.41 73.20v4.2M221.51 73.05v4.2M221.60 72.96v4.2M221.70 72.87v4.2M221.79 72.58v4.2M221.89 72.50v4.2M221.98 72.40v4.2M222.08 72.44v4.2M222.17 72.44v4.2M222.26 72.26v4.2M222.36 71.91v4.2M222.45 71.92v4.2M222.55 71.87v4.2M222.64 71.57v4.2M222.74 71.44v4.2M222.83 71.55v4.2M222.93 71.30v4.2M223.02 71.37v4.2M223.12 71.09v4.2M223.21 71.29v4.2M223.31 70.99v4.2M223.40 70.98v4.2M223.50 70.97v4.2M223.59 71.06v4.2M223.69 71.03v4.2M223.78 70.96v4.2M223.88 70.86v4.2M223.97 70.57v4.2M224.06 70.58v4.2M224.16 70.68v4.2M224.25 70.82v4.2M224.35 70.67v4.2M224.44 70.42v4.2M224.54 70.45v4.2M224.63 70.66v4.2M224.73 70.44v4.2M224.82 70.55v4.2M224.92 70.51v4.2M225.01 70.45v4.2M225.11 70.35v4.2M225.20 70.34v4.2M225.30 70.18v4.2M225.39 70.06v4.2M225.49 70.37v4.2M225.58 69.98v4.2M225.67 70.05v4.2M225.77 70.16v4.2M225.86 70.28v4.2M225.96 69.96v4.2M226.05 69.96v4.2M226.15 70.18v4.2M226.24 69.96v4.2M226.34 69.98v4.2M226.43 69.96v4.2M226.53 69.83v4.2M226.62 70.18v4.2M226.72 70.08v4.2M226.81 69.80v4.2M226.91 69.84v4.2M227.00 69.87v4.2M227.10 69.97v4.2M227.19 70.19v4.2M227.29 69.91v4.2M227.38 69.97v4.2M227.47 70.02v4.2M227.57 70.13v4.2M227.66 70.31v4.2M227.76 70.20v4.2M227.85 70.37v4.2M227.95 70.26v4.2M228.04 70.26v4.2M228.14 70.47v4.2M228.23 70.39v4.2M228.33 70.39v4.2M228.42 70.45v4.2M228.52 70.43v4.2M228.61 70.50v4.2M228.71 70.40v4.2M228.80 70.50v4.2M228.90 70.77v4.2M228.99 70.56v4.2M229.08 70.64v4.2M229.18 70.67v4.2M229.27 70.79v4.2M229.37 70.71v4.2M229.46 70.88v4.2M229.56 71.02v4.2M229.65 71.10v4.2M229.75 71.21v4.2M229.84 70.94v4.2M229.94 71.21v4.2M230.03 71.07v4.2M230.13 71.16v4.2M230.22 71.29v4.2M230.32 71.43v4.2M230.41 71.39v4.2M230.51 71.55v4.2M230.60 71.19v4.2M230.70 71.33v4.2M230.79 71.42v4.2M230.88 71.26v4.2M230.98 71.29v4.2M231.07 71.43v4.2M231.17 71.51v4.2M231.26 71.35v4.2M231.36 71.33v4.2M231.45 71.42v4.2M231.55 71.58v4.2M231.64 71.47v4.2M231.74 71.60v4.2M231.83 71.38v4.2M231.93 71.42v4.2M232.02 71.21v4.2M232.12 71.08v4.2M232.21 70.95v4.2M232.31 70.70v4.2M232.40 70.57v4.2M232.49 70.68v4.2M232.59 70.63v4.2M232.68 70.15v4.2M232.78 70.07v4.2M232.87 69.99v4.2M232.97 69.83v4.2M233.06 69.89v4.2M233.16 69.50v4.2M233.25 69.37v4.2M233.35 69.29v4.2M233.44 69.33v4.2M233.54 68.92v4.2M233.63 68.92v4.2M233.73 68.55v4.2M233.82 68.57v4.2M233.92 68.64v4.2M234.01 68.24v4.2M234.11 68.19v4.2M234.20 68.21v4.2M234.29 68.08v4.2M234.39 68.00v4.2M234.48 67.92v4.2M234.58 67.86v4.2M234.67 67.62v4.2M234.77 67.54v4.2M234.86 67.46v4.2M234.96 67.41v4.2M235.05 67.34v4.2M235.15 67.36v4.2M235.24 67.08v4.2M235.34 67.00v4.2M235.43 67.06v4.2M235.53 67.02v4.2M235.62 66.64v4.2M235.72 66.74v4.2M235.81 66.45v4.2M235.91 66.56v4.2M236.00 66.19v4.2M236.09 66.29v4.2M236.19 66.24v4.2M236.28 66.21v4.2M236.38 66.22v4.2M236.47 66.09v4.2M236.57 65.92v4.2M236.66 65.83v4.2M236.76 65.57v4.2M236.85 65.72v4.2M236.95 65.67v4.2M237.04 65.68v4.2M237.14 65.40v4.2M237.23 65.52v4.2M237.33 65.27v4.2M237.42 65.50v4.2M237.52 65.51v4.2M237.61 65.33v4.2M237.70 65.40v4.2M237.80 65.38v4.2M237.89 65.23v4.2M237.99 65.14v4.2M238.08 65.40v4.2M238.18 65.25v4.2M238.27 65.17v4.2M238.37 65.29v4.2M238.46 65.46v4.2M238.56 65.52v4.2M238.65 65.38v4.2M238.75 65.55v4.2M238.84 65.25v4.2M238.94 65.39v4.2M239.03 65.22v4.2M239.13 65.33v4.2M239.22 65.61v4.2M239.32 65.31v4.2M239.41 65.57v4.2M239.50 65.53v4.2M239.60 65.75v4.2M239.69 65.78v4.2M239.79 65.46v4.2M239.88 65.54v4.2M239.98 65.86v4.2M240.07 65.63v4.2M240.17 65.60v4.2M240.26 65.92v4.2M240.36 65.83v4.2M240.45 65.74v4.2M240.55 65.87v4.2M240.64 65.85v4.2M240.74 65.89v4.2M240.83 65.96v4.2M240.93 65.83v4.2M241.02 66.04v4.2M241.11 66.21v4.2M241.21 66.09v4.2M241.30 66.20v4.2M241.40 66.02v4.2M241.49 66.00v4.2M241.59 65.96v4.2M241.68 66.38v4.2M241.78 66.05v4.2M241.87 66.18v4.2M241.97 66.31v4.2M242.06 66.37v4.2M242.16 66.35v4.2M242.25 66.30v4.2M242.35 66.47v4.2M242.44 66.34v4.2M242.54 66.52v4.2M242.63 66.23v4.2M242.73 66.52v4.2M242.82 66.30v4.2M242.91 66.43v4.2M243.01 66.48v4.2M243.10 66.40v4.2M243.20 66.53v4.2M243.29 66.71v4.2M243.39 66.41v4.2M243.48 66.49v4.2M243.58 66.83v4.2M243.67 66.64v4.2M243.77 66.64v4.2M243.86 66.87v4.2M243.96 66.84v4.2M244.05 66.63v4.2M244.15 66.82v4.2M244.24 66.68v4.2M244.34 66.94v4.2M244.43 66.87v4.2M244.52 67.00v4.2M244.62 66.73v4.2M244.71 67.10v4.2M244.81 66.84v4.2M244.90 67.11v4.2M245.00 66.98v4.2M245.09 67.18v4.2M245.19 66.89v4.2M245.28 66.90v4.2M245.38 67.09v4.2M245.47 67.29v4.2M245.57 67.13v4.2M245.66 67.17v4.2M245.76 67.06v4.2M245.85 67.23v4.2M245.95 67.21v4.2M246.04 67.42v4.2M246.14 67.38v4.2M246.23 67.30v4.2M246.32 67.20v4.2M246.42 67.22v4.2M246.51 67.57v4.2M246.61 67.45v4.2M246.70 67.33v4.2M246.80 67.59v4.2M246.89 67.38v4.2M246.99 67.50v4.2M247.08 67.70v4.2M247.18 67.41v4.2M247.27 67.44v4.2M247.37 67.45v4.2M247.46 67.52v4.2M247.56 67.65v4.2M247.65 67.66v4.2M247.75 67.68v4.2M247.84 67.60v4.2M247.93 67.83v4.2M248.03 67.85v4.2M248.12 68.01v4.2M248.22 67.87v4.2M248.31 68.03v4.2M248.41 67.97v4.2M248.50 68.20v4.2M248.60 68.02v4.2M248.69 68.21v4.2M248.79 68.25v4.2M248.88 68.32v4.2M248.98 68.42v4.2M249.07 68.48v4.2M249.17 68.47v4.2M249.26 68.74v4.2M249.36 68.86v4.2M249.45 68.78v4.2M249.55 68.88v4.2M249.64 69.00v4.2M249.73 68.91v4.2M249.83 69.09v4.2M249.92 69.12v4.2M250.02 69.20v4.2M250.11 69.24v4.2M250.21 69.38v4.2M250.30 69.32v4.2M250.40 69.41v4.2M250.49 69.46v4.2M250.59 69.69v4.2M250.68 69.62v4.2M250.78 69.91v4.2M250.87 70.02v4.2M250.97 70.03v4.2M251.06 69.92v4.2M251.16 70.22v4.2M251.25 70.04v4.2M251.34 70.10v4.2M251.44 70.25v4.2M251.53 70.33v4.2M251.63 70.28v4.2M251.72 70.48v4.2M251.82 70.56v4.2M251.91 70.39v4.2M252.01 70.42v4.2M252.10 70.54v4.2M252.20 70.71v4.2M252.29 70.75v4.2M252.39 70.60v4.2M252.48 70.73v4.2M252.58 70.99v4.2M252.67 71.06v4.2M252.77 70.97v4.2M252.86 71.08v4.2M252.96 71.15v4.2M253.05 70.95v4.2M253.14 70.94v4.2M253.24 71.20v4.2M253.33 71.15v4.2M253.43 71.33v4.2M253.52 71.20v4.2M253.62 71.30v4.2M253.71 71.49v4.2M253.81 71.25v4.2M253.90 71.41v4.2M254.00 71.35v4.2M254.09 71.54v4.2M254.19 71.66v4.2M254.28 71.80v4.2M254.38 71.74v4.2M254.47 71.53v4.2M254.57 71.69v4.2M254.66 71.77v4.2M254.75 71.84v4.2M254.85 71.91v4.2M254.94 72.06v4.2M255.04 72.08v4.2M255.13 71.83v4.2M255.23 71.85v4.2M255.32 72.21v4.2M255.42 71.93v4.2M255.51 72.29v4.2M255.61 71.99v4.2M255.70 72.21v4.2M255.80 72.07v4.2M255.89 72.10v4.2M255.99 72.22v4.2M256.08 72.44v4.2M256.18 72.43v4.2M256.27 72.31v4.2M256.37 72.27v4.2M256.46 72.38v4.2M256.55 72.33v4.2M256.65 72.38v4.2M256.74 72.51v4.2M256.84 72.53v4.2M256.93 72.72v4.2M257.03 72.40v4.2M257.12 72.59v4.2M257.22 72.61v4.2M257.31 72.45v4.2M257.41 72.54v4.2M257.50 72.46v4.2M257.60 72.76v4.2M257.69 72.53v4.2M257.79 72.41v4.2M257.88 72.56v4.2M257.98 72.57v4.2M258.07 72.70v4.2M258.16 72.61v4.2M258.26 72.38v4.2M258.35 72.64v4.2M258.45 72.25v4.2M258.54 72.50v4.2M258.64 72.21v4.2M258.73 72.49v4.2M258.83 72.20v4.2M258.92 72.41v4.2M259.02 72.38v4.2M259.11 72.33v4.2M259.21 72.03v4.2M259.30 72.11v4.2M259.40 71.96v4.2M259.49 72.17v4.2M259.59 72.24v4.2M259.68 72.02v4.2M259.78 72.04v4.2M259.87 72.01v4.2M259.96 71.77v4.2M260.06 71.83v4.2M260.15 71.79v4.2M260.25 71.92v4.2M260.34 71.75v4.2M260.44 71.71v4.2M260.53 71.76v4.2M260.63 71.60v4.2M260.72 71.53v4.2M260.82 71.58v4.2M260.91 71.48v4.2M261.01 71.73v4.2M261.10 71.64v4.2M261.20 71.70v4.2M261.29 71.68v4.2M261.39 71.48v4.2M261.48 71.80v4.2M261.57 71.83v4.2M261.67 71.53v4.2M261.76 71.74v4.2M261.86 71.93v4.2M261.95 71.84v4.2M262.05 72.08v4.2M262.14 72.08v4.2M262.24 72.14v4.2M262.33 72.32v4.2M262.43 72.36v4.2M262.52 72.38v4.2M262.62 72.27v4.2M262.71 72.54v4.2M262.81 72.74v4.2M262.90 72.80v4.2M263.00 72.94v4.2M263.09 72.98v4.2M263.19 73.31v4.2M263.28 73.21v4.2M263.37 73.52v4.2M263.47 73.61v4.2M263.56 73.75v4.2M263.66 74.03v4.2M263.75 74.47v4.2M263.85 74.98v4.2M263.94 75.53v4.2M264.04 75.84v4.2M264.13 76.37v4.2M264.23 77.16v4.2M264.32 77.72v4.2M264.42 77.95v4.2M264.51 78.40v4.2M264.61 78.90v4.2M264.70 79.14v4.2M264.80 79.77v4.2M264.89 80.28v4.2M264.98 80.85v4.2M265.08 81.20v4.2M265.17 81.65v4.2M265.27 82.10v4.2M265.36 82.82v4.2M265.46 83.20v4.2M265.55 83.73v4.2M265.65 84.41v4.2M265.74 84.88v4.2M265.84 85.33v4.2M265.93 86.15v4.2M266.03 86.88v4.2M266.12 87.30v4.2M266.22 87.82v4.2M266.31 88.46v4.2M266.41 89.41v4.2M266.50 89.72v4.2M266.60 90.57v4.2M266.69 90.97v4.2M266.78 91.76v4.2M266.88 92.52v4.2M266.97 92.85v4.2M267.07 93.46v4.2M267.16 94.15v4.2M267.26 94.69v4.2M267.35 95.22v4.2M267.45 95.68v4.2M267.54 96.05v4.2M267.64 96.78v4.2M267.73 97.15v4.2M267.83 97.78v4.2M267.92 98.20v4.2M268.02 98.61v4.2M268.11 99.38v4.2M268.21 99.59v4.2M268.30 100.33v4.2M268.39 100.61v4.2M268.49 101.11v4.2M268.58 101.48v4.2M268.68 101.92v4.2M268.77 102.61v4.2M268.87 102.99v4.2M268.96 103.52v4.2M269.06 103.83v4.2M269.15 104.44v4.2M269.25 104.97v4.2M269.34 105.48v4.2M269.44 105.92v4.2M269.53 106.28v4.2M269.63 106.86v4.2M269.72 107.29v4.2M269.82 107.71v4.2M269.91 108.23v4.2M270.01 108.56v4.2M270.10 108.93v4.2M270.90 108.96v4.2M270.99 108.89v4.2M271.09 108.43v4.2M271.18 107.95v4.2M271.28 107.25v4.2M271.37 106.99v4.2M271.47 106.45v4.2M271.56 105.81v4.2M271.66 105.16v4.2M271.75 104.51v4.2M271.85 104.28v4.2M271.94 103.67v4.2M272.04 102.99v4.2M272.13 102.19v4.2M272.23 101.66v4.2M272.32 101.07v4.2M272.42 100.25v4.2M272.51 99.40v4.2M272.61 99.05v4.2M272.70 98.17v4.2M272.79 97.52v4.2M272.89 96.69v4.2M272.98 95.67v4.2M273.08 94.99v4.2M273.17 93.95v4.2M273.27 93.16v4.2M273.36 92.52v4.2M273.46 91.46v4.2M273.55 90.43v4.2M273.65 89.21v4.2M273.74 88.22v4.2M273.84 86.85v4.2M273.93 85.50v4.2M274.03 84.23v4.2M274.12 83.21v4.2M274.22 82.16v4.2M274.31 81.52v4.2M274.40 80.84v4.2M274.50 80.26v4.2M274.59 79.75v4.2M274.69 79.06v4.2M274.78 78.56v4.2M274.88 78.19v4.2M274.97 77.81v4.2M275.07 77.70v4.2M275.16 77.30v4.2M275.26 77.19v4.2M275.35 76.66v4.2M275.45 76.38v4.2M275.54 76.41v4.2M275.64 75.86v4.2M275.73 75.75v4.2M275.83 75.69v4.2M275.92 75.47v4.2M276.02 75.22v4.2M276.11 75.05v4.2M276.20 75.16v4.2M276.30 74.98v4.2M276.39 75.18v4.2M276.49 74.91v4.2M276.58 75.14v4.2M276.68 74.75v4.2M276.77 74.95v4.2M276.87 74.80v4.2M276.96 74.85v4.2M277.06 74.82v4.2M277.15 74.95v4.2M277.25 74.69v4.2M277.34 74.91v4.2M277.44 74.61v4.2M277.53 74.86v4.2M277.63 74.94v4.2M277.72 74.80v4.2M277.81 75.00v4.2M277.91 74.85v4.2M278.00 74.90v4.2M278.10 75.18v4.2M278.19 75.28v4.2M278.29 75.27v4.2M278.38 75.12v4.2M278.48 75.49v4.2M278.57 75.34v4.2M278.67 75.62v4.2M278.76 75.49v4.2M278.86 75.53v4.2M278.95 75.63v4.2M279.05 75.89v4.2M279.14 76.08v4.2M279.24 75.97v4.2M279.33 75.88v4.2M279.43 76.17v4.2M279.52 76.31v4.2M279.61 76.32v4.2M279.71 76.04v4.2M279.80 76.20v4.2M279.90 76.40v4.2M279.99 76.38v4.2M280.09 76.50v4.2M280.18 76.46v4.2M280.28 76.41v4.2M280.37 76.37v4.2M280.47 76.24v4.2M280.56 76.09v4.2M280.66 76.38v4.2M280.75 76.24v4.2M280.85 76.40v4.2M280.94 76.09v4.2M281.04 76.37v4.2M281.13 76.27v4.2M281.22 76.36v4.2M281.32 76.27v4.2M281.41 76.15v4.2M281.51 76.17v4.2M281.60 75.99v4.2M281.70 76.03v4.2M281.79 76.15v4.2M281.89 75.97v4.2M281.98 76.03v4.2M282.08 76.13v4.2M282.17 76.09v4.2M282.27 76.20v4.2M282.36 76.00v4.2M282.46 76.03v4.2M282.55 75.96v4.2M282.65 76.08v4.2M282.74 76.00v4.2M282.84 76.11v4.2M282.93 75.77v4.2M283.02 75.73v4.2M283.12 75.77v4.2M283.21 75.88v4.2M283.31 75.86v4.2M283.40 75.65v4.2M283.50 75.65v4.2M283.59 75.75v4.2M283.69 75.59v4.2M283.78 75.79v4.2M283.88 75.47v4.2M283.97 75.71v4.2M284.07 75.43v4.2M284.16 75.63v4.2M284.26 75.63v4.2M284.35 75.67v4.2M284.45 75.64v4.2M284.54 75.27v4.2M284.63 75.50v4.2M284.73 75.59v4.2M284.82 75.52v4.2M284.92 75.39v4.2M285.01 75.50v4.2M285.11 75.31v4.2M285.20 75.53v4.2M285.30 75.38v4.2M285.39 75.63v4.2M285.49 75.28v4.2M285.58 75.54v4.2M285.68 75.41v4.2M285.77 75.72v4.2M285.87 75.86v4.2M285.96 75.73v4.2M286.06 75.94v4.2M286.15 75.77v4.2M286.25 75.77v4.2M286.34 76.16v4.2M286.43 76.09v4.2M286.53 76.05v4.2M286.62 76.38v4.2M286.72 76.56v4.2M286.81 76.33v4.2M286.91 76.64v4.2M287.00 76.64v4.2M287.10 76.61v4.2M287.19 76.73v4.2M287.29 76.82v4.2M287.38 77.02v4.2M287.48 77.12v4.2M287.57 77.31v4.2M287.67 77.43v4.2M287.76 77.62v4.2M287.86 77.71v4.2M287.95 77.52v4.2M288.04 77.79v4.2M288.14 77.97v4.2M288.23 77.79v4.2M288.33 78.00v4.2M288.42 78.23v4.2M288.52 78.17v4.2M288.61 78.27v4.2M288.71 78.20v4.2M288.80 78.56v4.2M288.90 78.58v4.2M288.99 78.46v4.2M289.09 78.54v4.2M289.18 78.51v4.2M289.28 78.79v4.2M289.37 79.03v4.2M289.47 79.08v4.2M289.56 78.92v4.2M289.66 79.04v4.2M289.75 79.09v4.2M289.84 79.21v4.2M289.94 79.27v4.2M290.03 79.33v4.2M290.13 79.56v4.2M290.22 79.78v4.2M290.32 79.82v4.2M290.41 79.79v4.2M290.51 79.73v4.2M290.60 80.02v4.2M290.70 79.80v4.2M290.79 79.77v4.2M290.89 79.88v4.2M290.98 80.15v4.2M291.08 80.14v4.2M291.17 80.00v4.2M291.27 79.98v4.2M291.36 80.15v4.2M291.45 80.10v4.2M291.55 80.21v4.2M291.64 80.06v4.2M291.74 79.90v4.2M291.83 79.87v4.2M291.93 79.91v4.2M292.02 79.99v4.2M292.12 80.04v4.2M292.21 79.93v4.2M292.31 79.67v4.2M292.40 80.00v4.2M292.50 79.76v4.2M292.59 79.74v4.2M292.69 79.54v4.2M292.78 79.51v4.2M292.88 79.44v4.2M292.97 79.53v4.2M293.07 79.59v4.2M293.16 79.27v4.2M293.25 79.24v4.2M293.35 79.15v4.2M293.44 78.99v4.2M293.54 78.91v4.2M293.63 79.16v4.2M293.73 79.17v4.2M293.82 78.73v4.2M293.92 78.68v4.2M294.01 78.77v4.2M294.11 78.65v4.2M294.20 78.57v4.2M294.30 78.76v4.2M294.39 78.44v4.2M294.49 78.39v4.2M294.58 78.62v4.2M294.68 78.45v4.2M294.77 78.42v4.2M294.86 78.35v4.2M294.96 78.04v4.2M295.05 78.35v4.2M295.15 77.91v4.2M295.24 77.92v4.2M295.34 77.96v4.2M295.43 78.03v4.2M295.53 78.01v4.2M295.62 77.56v4.2M295.72 77.55v4.2M295.81 77.43v4.2M295.91 77.41v4.2M296.00 77.65v4.2M296.10 77.26v4.2M296.19 77.37v4.2M296.29 77.17v4.2M296.38 77.03v4.2M296.48 77.08v4.2M296.57 77.01v4.2M296.66 77.07v4.2M296.76 77.15v4.2M296.85 76.96v4.2M296.95 76.92v4.2M297.04 76.77v4.2M297.14 76.69v4.2M297.23 76.77v4.2M297.33 76.70v4.2M297.42 76.88v4.2M297.52 76.58v4.2M297.61 76.49v4.2M297.71 76.48v4.2M297.80 76.58v4.2M297.90 76.54v4.2M297.99 76.61v4.2M298.09 76.81v4.2M298.18 76.76v4.2M298.27 76.72v4.2M298.37 76.83v4.2M298.46 76.87v4.2M298.56 76.57v4.2M298.65 76.85v4.2M298.75 76.66v4.2M298.84 76.81v4.2M298.94 76.84v4.2M299.03 76.83v4.2M299.13 76.78v4.2M299.22 76.88v4.2M299.32 77.13v4.2M299.41 77.28v4.2M299.51 77.31v4.2M299.60 77.01v4.2M299.70 77.28v4.2M299.79 77.18v4.2M299.89 77.37v4.2M299.98 77.43v4.2M300.07 77.33v4.2M300.17 77.36v4.2M300.26 77.57v4.2M300.36 77.46v4.2M300.45 77.83v4.2M300.55 77.90v4.2M300.64 77.61v4.2M300.74 77.98v4.2M300.83 78.05v4.2M300.93 77.78v4.2M301.02 78.05v4.2M301.12 78.05v4.2M301.21 77.98v4.2M301.31 78.28v4.2M301.40 78.23v4.2M301.50 78.37v4.2M301.59 78.47v4.2M301.68 78.53v4.2M301.78 78.46v4.2M301.87 78.60v4.2M301.97 78.33v4.2M302.06 78.50v4.2M302.16 78.61v4.2M302.25 78.68v4.2M302.35 78.68v4.2M302.44 78.92v4.2M302.54 78.88v4.2M302.63 79.05v4.2M302.73 78.94v4.2M302.82 79.20v4.2M302.92 79.02v4.2M303.01 79.32v4.2M303.11 79.20v4.2M303.20 79.18v4.2M303.30 79.32v4.2M303.39 79.15v4.2M303.48 79.43v4.2M303.58 79.43v4.2M303.67 79.54v4.2M303.77 79.27v4.2M303.86 79.43v4.2M303.96 79.52v4.2M304.05 79.32v4.2M304.15 79.60v4.2M304.24 79.66v4.2M304.34 79.54v4.2M304.43 79.58v4.2M304.53 79.63v4.2M304.62 79.41v4.2M304.72 79.40v4.2M304.81 79.51v4.2M304.91 79.38v4.2M305.00 79.17v4.2M305.09 79.24v4.2M305.19 79.25v4.2M305.28 79.22v4.2M305.38 78.87v4.2M305.47 78.81v4.2M305.57 78.95v4.2M305.66 78.89v4.2M305.76 78.83v4.2M305.85 78.66v4.2M305.95 78.54v4.2M306.04 78.70v4.2M306.14 78.35v4.2M306.23 78.29v4.2M306.33 78.11v4.2M306.42 78.07v4.2M306.52 78.22v4.2M306.61 78.18v4.2M306.71 77.94v4.2M306.80 78.10v4.2M306.89 77.82v4.2M306.99 77.85v4.2M307.08 77.92v4.2M307.18 77.93v4.2M307.27 77.76v4.2M307.37 77.85v4.2M307.46 77.67v4.2M307.56 77.70v4.2M307.65 77.72v4.2M307.75 77.57v4.2M307.84 77.52v4.2M307.94 77.63v4.2M308.03 77.22v4.2M308.13 77.17v4.2M308.22 77.14v4.2M308.32 77.21v4.2M308.41 77.26v4.2M308.51 77.26v4.2M308.60 77.25v4.2M308.69 76.95v4.2M308.79 77.26v4.2M308.88 76.98v4.2M308.98 77.25v4.2M309.07 76.98v4.2M309.17 77.16v4.2M309.26 77.10v4.2M309.36 76.81v4.2M309.45 77.01v4.2M309.55 76.96v4.2M309.64 77.20v4.2M309.74 76.91v4.2M309.83 76.99v4.2M309.93 76.92v4.2M310.02 76.88v4.2M310.12 77.12v4.2M310.21 77.18v4.2M310.30 77.03v4.2M310.40 77.34v4.2M310.49 77.14v4.2M310.59 77.47v4.2M310.68 77.41v4.2M310.78 77.58v4.2M310.87 77.42v4.2M310.97 77.63v4.2M311.06 77.59v4.2M311.16 77.69v4.2M311.25 77.63v4.2M311.35 77.73v4.2M311.44 77.69v4.2M311.54 77.78v4.2M311.63 78.08v4.2M311.73 77.80v4.2M311.82 78.16v4.2M311.92 78.19v4.2M312.01 78.02v4.2M312.10 78.18v4.2M312.20 78.40v4.2M312.29 78.33v4.2M312.39 78.38v4.2M312.48 78.44v4.2M312.58 78.36v4.2M312.67 78.74v4.2M312.77 78.70v4.2M312.86 78.57v4.2M312.96 78.66v4.2M313.05 78.88v4.2M313.15 79.01v4.2M313.24 78.96v4.2M313.34 78.93v4.2M313.43 79.03v4.2M313.53 79.18v4.2M313.62 79.39v4.2M313.71 79.39v4.2M313.81 79.27v4.2M313.90 79.25v4.2M314.00 79.57v4.2M314.09 79.47v4.2M314.19 79.77v4.2M314.28 79.53v4.2M314.38 79.91v4.2M314.47 79.86v4.2M314.57 79.67v4.2M314.66 79.60v4.2M314.76 79.93v4.2M314.85 79.64v4.2M314.95 79.65v4.2M315.04 79.74v4.2M315.14 79.63v4.2M315.23 79.58v4.2M315.33 79.74v4.2M315.42 79.75v4.2M315.51 79.76v4.2M315.61 79.43v4.2M315.70 79.39v4.2M315.80 79.51v4.2M315.89 79.57v4.2M315.99 79.30v4.2M316.08 79.40v4.2M316.18 79.15v4.2M316.27 79.40v4.2M316.37 79.33v4.2M316.46 79.29v4.2M316.56 79.00v4.2M316.65 78.81v4.2M316.75 79.03v4.2M316.84 78.81v4.2M316.94 78.70v4.2M317.03 78.66v4.2M317.12 78.70v4.2M317.22 78.63v4.2M317.31 78.44v4.2M317.41 78.30v4.2M317.50 78.19v4.2M317.60 78.08v4.2M317.69 78.37v4.2M317.79 78.30v4.2M317.88 77.87v4.2M317.98 78.02v4.2M318.07 78.11v4.2M318.17 77.89v4.2M318.26 77.98v4.2M318.36 77.57v4.2M318.45 77.73v4.2M318.55 77.69v4.2M318.64 77.32v4.2M318.74 77.27v4.2M318.83 77.48v4.2M318.92 77.10v4.2M319.02 77.16v4.2M319.11 77.18v4.2M319.21 77.01v4.2M319.30 76.94v4.2M319.40 76.65v4.2M319.49 76.78v4.2M319.59 76.40v4.2M319.68 76.41v4.2M319.78 76.35v4.2M319.87 76.34v4.2M319.97 75.99v4.2M320.06 75.92v4.2M320.16 75.95v4.2M320.25 75.79v4.2M320.35 76.02v4.2M320.44 75.76v4.2M320.53 75.75v4.2M320.63 75.63v4.2M320.72 75.74v4.2M320.82 75.72v4.2M320.91 75.67v4.2M321.01 75.30v4.2M321.10 75.49v4.2M321.20 75.53v4.2M321.29 75.57v4.2M321.39 75.42v4.2M321.48 75.39v4.2M321.58 75.28v4.2M321.67 75.22v4.2M321.77 75.25v4.2M321.86 75.37v4.2M321.96 75.57v4.2M322.05 75.48v4.2M322.15 75.57v4.2M322.24 75.49v4.2M322.33 75.81v4.2M322.43 75.83v4.2M322.52 75.62v4.2M322.62 75.71v4.2M322.71 75.65v4.2M322.81 75.82v4.2M322.90 75.81v4.2M323.00 76.06v4.2M323.09 75.94v4.2M323.19 76.15v4.2M323.28 75.94v4.2M323.38 76.27v4.2M323.47 76.29v4.2M323.57 76.21v4.2M323.66 76.46v4.2M323.76 76.55v4.2M323.85 76.62v4.2M323.94 76.58v4.2M324.04 76.53v4.2M324.13 76.63v4.2M324.23 76.75v4.2M324.32 76.61v4.2M324.42 76.88v4.2M324.51 76.89v4.2M324.61 76.91v4.2M324.70 76.99v4.2M324.80 76.76v4.2M324.89 77.12v4.2M324.99 77.03v4.2M325.08 77.18v4.2M325.18 77.22v4.2M325.27 77.18v4.2M325.37 77.36v4.2M325.46 77.46v4.2M325.56 77.56v4.2M325.65 77.22v4.2M325.74 77.62v4.2M325.84 77.60v4.2M325.93 77.56v4.2M326.03 77.65v4.2M326.12 77.51v4.2M326.22 77.55v4.2M326.31 77.41v4.2M326.41 77.77v4.2M326.50 77.72v4.2M326.60 77.60v4.2M326.69 77.62v4.2M326.79 77.69v4.2M326.88 77.41v4.2M326.98 77.54v4.2M327.07 77.58v4.2M327.17 77.49v4.2M327.26 77.61v4.2M327.35 77.29v4.2M327.45 77.41v4.2M327.54 77.41v4.2M327.64 77.21v4.2M327.73 77.38v4.2M327.83 77.12v4.2M327.92 76.96v4.2M328.02 76.92v4.2M328.11 76.95v4.2M328.21 77.13v4.2M328.30 77.05v4.2M328.40 76.98v4.2M328.49 76.83v4.2M328.59 76.71v4.2M328.68 76.70v4.2M328.78 76.63v4.2M328.87 76.71v4.2M328.97 76.43v4.2M329.06 76.37v4.2M329.15 76.45v4.2M329.25 76.42v4.2M329.34 76.34v4.2M329.44 76.04v4.2M329.53 76.17v4.2M329.63 75.95v4.2M329.72 75.88v4.2M329.82 75.79v4.2M329.91 75.61v4.2M330.01 75.58v4.2M330.10 75.71v4.2M330.20 75.68v4.2M330.29 75.31v4.2M330.39 75.56v4.2M330.48 75.28v4.2M330.58 75.32v4.2M330.67 74.93v4.2M330.76 74.86v4.2M330.86 75.07v4.2M330.95 74.69v4.2M331.05 74.59v4.2M331.14 74.76v4.2M331.24 74.43v4.2M331.33 74.51v4.2M331.43 74.60v4.2M331.52 74.25v4.2M331.62 74.48v4.2M331.71 74.45v4.2M331.81 74.43v4.2M331.90 74.24v4.2M332.00 74.28v4.2M332.09 73.98v4.2M332.19 74.11v4.2M332.28 74.19v4.2M332.38 74.16v4.2M332.47 73.84v4.2M332.56 74.07v4.2M332.66 73.87v4.2M332.75 73.88v4.2M332.85 73.96v4.2M332.94 73.88v4.2M333.04 73.71v4.2M333.13 73.89v4.2M333.23 73.90v4.2M333.32 73.82v4.2M333.42 73.49v4.2M333.51 73.45v4.2M333.61 73.65v4.2M333.70 73.44v4.2M333.80 73.42v4.2M333.89 73.71v4.2M333.99 73.37v4.2M334.08 73.45v4.2M334.17 73.45v4.2M334.27 73.69v4.2M334.36 73.69v4.2M334.46 73.62v4.2M334.55 73.48v4.2M334.65 73.35v4.2M334.74 73.70v4.2M334.84 73.44v4.2M334.93 73.65v4.2M335.03 73.76v4.2M335.12 73.72v4.2M335.22 73.95v4.2M335.31 74.06v4.2M335.41 73.93v4.2M335.50 74.18v4.2M335.60 74.05v4.2M335.69 74.31v4.2M335.79 74.53v4.2M335.88 74.51v4.2M335.97 74.69v4.2M336.07 74.99v4.2M336.16 74.91v4.2M336.26 75.35v4.2M336.35 75.18v4.2M336.45 75.37v4.2M336.54 75.70v4.2M336.64 75.74v4.2M336.73 76.19v4.2M336.83 76.23v4.2M336.92 76.39v4.2M337.02 76.87v4.2M337.11 77.06v4.2M337.21 77.44v4.2M337.30 77.55v4.2M337.40 77.85v4.2M337.49 78.28v4.2M337.58 78.72v4.2M337.68 78.95v4.2M337.77 79.34v4.2M337.87 80.03v4.2M337.96 80.27v4.2M338.06 80.83v4.2M338.15 81.58v4.2M338.25 82.19v4.2M338.34 82.67v4.2M338.44 83.02v4.2M338.53 83.91v4.2M338.63 84.31v4.2M338.72 85.29v4.2M338.82 85.80v4.2M338.91 86.51v4.2M339.01 87.34v4.2M339.10 87.98v4.2M339.20 88.95v4.2M339.29 89.78v4.2M339.38 90.47v4.2M339.48 91.27v4.2M339.57 91.75v4.2M339.67 92.51v4.2M339.76 93.43v4.2M339.86 93.89v4.2M339.95 94.70v4.2M340.05 95.23v4.2M340.14 95.64v4.2M340.24 96.24v4.2M340.33 97.08v4.2M340.43 97.61v4.2M340.52 98.03v4.2M340.62 98.32v4.2M340.71 98.84v4.2M340.81 99.72v4.2M340.90 100.17v4.2M340.99 100.63v4.2M341.09 100.96v4.2M341.18 101.73v4.2M341.28 101.90v4.2M341.37 102.65v4.2M341.47 103.15v4.2M341.56 103.52v4.2M341.66 104.20v4.2M341.75 104.44v4.2M341.85 105.24v4.2M341.94 105.71v4.2M342.04 105.96v4.2M342.13 106.43v4.2M342.23 107.09v4.2M342.32 107.39v4.2M342.42 107.95v4.2M342.51 108.46v4.2M342.61 109.02v4.2M342.70 109.40v4.2M343.40 109.21v4.2M343.49 108.73v4.2M343.59 108.10v4.2M343.68 107.86v4.2M343.78 107.35v4.2M343.87 106.56v4.2M343.97 106.12v4.2M344.06 105.52v4.2M344.16 104.94v4.2M344.25 104.29v4.2M344.35 103.95v4.2M344.44 103.52v4.2M344.54 102.64v4.2M344.63 102.29v4.2M344.73 101.72v4.2M344.82 101.04v4.2M344.92 100.57v4.2M345.01 99.80v4.2M345.11 99.27v4.2M345.20 98.43v4.2M345.29 97.82v4.2M345.39 97.35v4.2M345.48 96.79v4.2M345.58 95.98v4.2M345.67 95.50v4.2M345.77 94.66v4.2M345.86 93.96v4.2M345.96 93.45v4.2M346.05 92.85v4.2M346.15 92.20v4.2M346.24 91.48v4.2M346.34 90.69v4.2M346.43 90.13v4.2M346.53 89.64v4.2M346.62 88.85v4.2M346.72 88.37v4.2M346.81 88.00v4.2M346.90 87.21v4.2M347.00 86.81v4.2M347.09 86.12v4.2M347.19 85.50v4.2M347.28 85.04v4.2M347.38 84.50v4.2M347.47 83.96v4.2M347.57 83.45v4.2M347.66 83.19v4.2M347.76 82.55v4.2M347.85 82.03v4.2M347.95 81.42v4.2M348.04 80.91v4.2M348.14 80.60v4.2M348.23 79.92v4.2M348.33 79.38v4.2M348.42 79.06v4.2M348.52 78.82v4.2M348.61 78.65v4.2M348.70 78.37v4.2M348.80 78.01v4.2M348.89 77.66v4.2M348.99 77.74v4.2M349.08 77.21v4.2M349.18 77.24v4.2M349.27 77.22v4.2M349.37 76.80v4.2M349.46 76.72v4.2M349.56 76.49v4.2M349.65 76.39v4.2M349.75 76.13v4.2M349.84 76.21v4.2M349.94 76.12v4.2M350.03 75.77v4.2M350.13 75.61v4.2M350.22 75.60v4.2M350.31 75.54v4.2M350.41 75.47v4.2M350.50 75.48v4.2M350.60 75.31v4.2M350.69 75.02v4.2M350.79 74.93v4.2M350.88 75.02v4.2M350.98 74.83v4.2M351.07 75.00v4.2M351.17 74.91v4.2M351.26 74.86v4.2M351.36 74.71v4.2M351.45 74.48v4.2M351.55 74.65v4.2M351.64 74.38v4.2M351.74 74.27v4.2M351.83 74.16v4.2M351.93 74.24v4.2M352.02 74.41v4.2M352.11 74.24v4.2M352.21 74.18v4.2M352.30 74.01v4.2M352.40 73.97v4.2M352.49 74.10v4.2M352.59 74.08v4.2M352.68 73.76v4.2M352.78 73.80v4.2M352.87 73.70v4.2M352.97 73.53v4.2M353.06 73.59v4.2M353.16 73.36v4.2M353.25 73.58v4.2M353.35 73.35v4.2M353.44 73.38v4.2M353.54 73.36v4.2M353.63 73.07v4.2M353.72 73.28v4.2M353.82 73.21v4.2M353.91 72.92v4.2M354.01 72.67v4.2M354.10 72.81v4.2M354.20 72.73v4.2M354.29 72.46v4.2M354.39 72.60v4.2M354.48 72.31v4.2M354.58 72.22v4.2M354.67 72.07v4.2M354.77 72.21v4.2M354.86 72.19v4.2M354.96 72.10v4.2M355.05 71.89v4.2M355.15 71.83v4.2M355.24 71.68v4.2M355.34 71.67v4.2M355.43 71.64v4.2M355.52 71.57v4.2M355.62 71.44v4.2M355.71 71.53v4.2M355.81 71.31v4.2M355.90 71.45v4.2M356.00 71.20v4.2M356.09 71.29v4.2M356.19 71.13v4.2M356.28 71.10v4.2M356.38 71.26v4.2M356.47 70.96v4.2M356.57 71.19v4.2M356.66 71.10v4.2M356.76 71.03v4.2M356.85 70.94v4.2M356.95 70.97v4.2M357.04 70.73v4.2M357.13 70.76v4.2M357.23 70.56v4.2M357.32 70.52v4.2M357.42 70.64v4.2M357.51 70.69v4.2M357.61 70.80v4.2M357.70 70.71v4.2M357.80 70.37v4.2M357.89 70.69v4.2M357.99 70.46v4.2M358.08 70.44v4.2M358.18 70.32v4.2M358.27 70.28v4.2M358.37 70.41v4.2M358.46 70.43v4.2M358.56 70.55v4.2M358.65 70.47v4.2M358.75 70.28v4.2M358.84 70.44v4.2M358.93 70.53v4.2M359.03 70.31v4.2M359.12 70.34v4.2M359.22 70.33v4.2M359.31 70.63v4.2M359.41 70.31v4.2M359.50 70.52v4.2M359.60 70.43v4.2M359.69 70.60v4.2M359.79 70.53v4.2M359.88 70.44v4.2M359.98 70.72v4.2M360.07 70.61v4.2M360.17 70.43v4.2M360.26 70.54v4.2M360.36 70.54v4.2M360.45 70.63v4.2M360.54 70.60v4.2M360.64 70.82v4.2M360.73 70.83v4.2M360.83 70.78v4.2M360.92 70.75v4.2M361.02 70.93v4.2M361.11 70.86v4.2M361.21 71.04v4.2M361.30 71.11v4.2M361.40 71.08v4.2M361.49 71.20v4.2M361.59 70.97v4.2M361.68 71.22v4.2M361.78 71.06v4.2M361.87 71.27v4.2M361.97 71.20v4.2M362.06 71.08v4.2M362.16 71.10v4.2M362.25 71.35v4.2M362.34 71.22v4.2M362.44 71.11v4.2M362.53 71.29v4.2M362.63 71.13v4.2M362.72 71.11v4.2M362.82 71.19v4.2M362.91 71.41v4.2M363.01 71.18v4.2M363.10 71.45v4.2M363.20 71.11v4.2M363.29 71.23v4.2M363.39 71.09v4.2M363.48 71.35v4.2M363.58 71.31v4.2M363.67 71.36v4.2M363.77 71.35v4.2M363.86 71.37v4.2M363.95 71.15v4.2M364.05 71.10v4.2M364.14 71.17v4.2M364.24 71.10v4.2M364.33 70.95v4.2M364.43 71.01v4.2M364.52 70.96v4.2M364.62 71.12v4.2M364.71 70.76v4.2M364.81 70.99v4.2M364.90 70.94v4.2M365.00 70.98v4.2M365.09 70.80v4.2M365.19 70.82v4.2M365.28 70.54v4.2M365.38 70.80v4.2M365.47 70.43v4.2M365.57 70.61v4.2M365.66 70.37v4.2M365.75 70.37v4.2M365.85 70.51v4.2M365.94 70.35v4.2M366.04 70.43v4.2M366.13 70.20v4.2M366.23 70.11v4.2M366.32 70.17v4.2M366.42 70.20v4.2M366.51 70.28v4.2M366.61 70.27v4.2M366.70 70.04v4.2M366.80 70.23v4.2M366.89 70.05v4.2M366.99 69.86v4.2M367.08 69.96v4.2M367.18 70.01v4.2M367.27 70.02v4.2M367.36 69.74v4.2M367.46 70.06v4.2M367.55 69.87v4.2M367.65 69.64v4.2M367.74 69.74v4.2M367.84 69.94v4.2M367.93 69.63v4.2M368.03 69.73v4.2M368.12 69.87v4.2M368.22 69.65v4.2M368.31 69.89v4.2M368.41 69.85v4.2M368.50 69.72v4.2M368.60 69.95v4.2M368.69 69.67v4.2M368.79 69.73v4.2M368.88 69.97v4.2M368.98 69.92v4.2M369.07 69.78v4.2M369.16 69.87v4.2M369.26 70.07v4.2M369.35 69.82v4.2M369.45 69.80v4.2M369.54 70.00v4.2M369.64 69.91v4.2M369.73 70.12v4.2M369.83 69.97v4.2M369.92 69.98v4.2M370.02 70.18v4.2M370.11 70.35v4.2M370.21 70.21v4.2M370.30 70.41v4.2M370.40 70.45v4.2M370.49 70.38v4.2M370.59 70.35v4.2M370.68 70.30v4.2M370.77 70.21v4.2M370.87 70.43v4.2M370.96 70.32v4.2M371.06 70.51v4.2M371.15 70.49v4.2M371.25 70.57v4.2M371.34 70.61v4.2M371.44 70.64v4.2M371.53 70.82v4.2M371.63 70.71v4.2M371.72 70.56v4.2M371.82 70.90v4.2M371.91 70.88v4.2M372.01 70.76v4.2M372.10 70.82v4.2M372.20 70.90v4.2M372.29 70.86v4.2M372.39 71.01v4.2M372.48 71.17v4.2M372.57 70.82v4.2M372.67 71.19v4.2M372.76 71.25v4.2M372.86 71.22v4.2M372.95 71.08v4.2M373.05 71.19v4.2M373.14 71.13v4.2M373.24 71.11v4.2M373.33 71.05v4.2M373.43 71.08v4.2M373.52 71.21v4.2M373.62 71.15v4.2M373.71 71.13v4.2M373.81 71.31v4.2M373.90 71.19v4.2M374.00 71.42v4.2M374.09 71.12v4.2M374.18 71.19v4.2M374.28 71.27v4.2M374.37 71.19v4.2M374.47 71.43v4.2M374.56 71.29v4.2M374.66 71.12v4.2M374.75 71.16v4.2M374.85 71.35v4.2M374.94 71.18v4.2M375.04 71.17v4.2M375.13 71.11v4.2M375.23 71.02v4.2M375.32 71.29v4.2M375.42 71.10v4.2M375.51 71.04v4.2M375.61 70.96v4.2M375.70 71.10v4.2M375.80 71.16v4.2M375.89 71.22v4.2M375.98 71.18v4.2M376.08 70.78v4.2M376.17 70.94v4.2M376.27 70.90v4.2M376.36 70.90v4.2M376.46 70.81v4.2M376.55 70.98v4.2M376.65 70.81v4.2M376.74 70.71v4.2M376.84 70.88v4.2M376.93 70.66v4.2M377.03 70.42v4.2M377.12 70.63v4.2M377.22 70.73v4.2M377.31 70.57v4.2M377.41 70.35v4.2M377.50 70.57v4.2M377.59 70.21v4.2M377.69 70.49v4.2M377.78 70.17v4.2M377.88 70.42v4.2M377.97 70.12v4.2M378.07 70.07v4.2M378.16 70.08v4.2M378.26 70.15v4.2M378.35 70.19v4.2M378.45 70.09v4.2M378.54 69.88v4.2M378.64 70.20v4.2M378.73 70.13v4.2M378.83 69.92v4.2M378.92 69.76v4.2M379.02 69.89v4.2M379.11 70.09v4.2M379.21 70.06v4.2M379.30 69.73v4.2M379.39 69.73v4.2M379.49 70.03v4.2M379.58 69.76v4.2M379.68 69.89v4.2M379.77 69.98v4.2M379.87 69.93v4.2M379.96 69.92v4.2M380.06 69.85v4.2M380.15 69.92v4.2M380.25 69.70v4.2M380.34 69.97v4.2M380.44 69.69v4.2M380.53 69.66v4.2M380.63 69.92v4.2M380.72 70.01v4.2M380.82 69.92v4.2M380.91 69.88v4.2M381.01 69.67v4.2M381.10 69.85v4.2M381.19 69.71v4.2M381.29 69.87v4.2M381.38 69.82v4.2M381.48 69.72v4.2M381.57 69.89v4.2M381.67 69.99v4.2M381.76 69.97v4.2M381.86 69.75v4.2M381.95 70.08v4.2M382.05 70.08v4.2M382.14 69.86v4.2M382.24 70.12v4.2M382.33 69.81v4.2M382.43 69.90v4.2M382.52 70.09v4.2M382.62 69.79v4.2M382.71 69.93v4.2M382.80 69.78v4.2M382.90 69.87v4.2M382.99 69.94v4.2M383.09 70.14v4.2M383.18 70.06v4.2M383.28 69.86v4.2M383.37 70.14v4.2M383.47 70.14v4.2M383.56 69.96v4.2M383.66 69.92v4.2M383.75 70.15v4.2M383.85 70.23v4.2M383.94 69.95v4.2M384.04 70.00v4.2M384.13 70.01v4.2M384.23 70.27v4.2M384.32 69.91v4.2M384.42 69.90v4.2M384.51 69.96v4.2M384.60 70.08v4.2M384.70 70.28v4.2M384.79 69.91v4.2M384.89 70.22v4.2M384.98 70.11v4.2M385.08 70.26v4.2M385.17 70.28v4.2M385.27 70.18v4.2M385.36 69.99v4.2M385.46 70.25v4.2M385.55 69.88v4.2M385.65 70.27v4.2M385.74 70.03v4.2M385.84 69.96v4.2M385.93 70.20v4.2M386.03 70.03v4.2M386.12 69.98v4.2M386.21 69.93v4.2M386.31 69.97v4.2M386.40 69.88v4.2M386.50 69.98v4.2M386.59 69.93v4.2M386.69 69.85v4.2M386.78 69.73v4.2M386.88 69.77v4.2M386.97 70.01v4.2M387.07 69.96v4.2M387.16 70.03v4.2M387.26 69.70v4.2M387.35 70.00v4.2M387.45 69.96v4.2M387.54 69.73v4.2M387.64 69.96v4.2M387.73 69.95v4.2M387.83 69.88v4.2M387.92 69.75v4.2M388.01 69.86v4.2M388.11 69.55v4.2M388.20 69.53v4.2M388.30 69.52v4.2M388.39 69.72v4.2M388.49 69.82v4.2M388.58 69.50v4.2M388.68 69.46v4.2M388.77 69.74v4.2M388.87 69.73v4.2M388.96 69.42v4.2M389.06 69.37v4.2M389.15 69.46v4.2M389.25 69.45v4.2M389.34 69.33v4.2M389.44 69.38v4.2M389.53 69.65v4.2M389.62 69.34v4.2M389.72 69.49v4.2M389.81 69.59v4.2M389.91 69.59v4.2M390.00 69.42v4.2M390.10 69.35v4.2M390.19 69.47v4.2M390.29 69.44v4.2M390.38 69.48v4.2M390.48 69.42v4.2M390.57 69.49v4.2M390.67 69.69v4.2M390.76 69.30v4.2M390.86 69.39v4.2M390.95 69.64v4.2M391.05 69.50v4.2M391.14 69.61v4.2M391.24 69.33v4.2M391.33 69.70v4.2M391.42 69.30v4.2M391.52 69.61v4.2M391.61 69.40v4.2M391.71 69.58v4.2M391.80 69.62v4.2M391.90 69.59v4.2M391.99 69.68v4.2M392.09 69.39v4.2M392.18 69.65v4.2M392.28 69.57v4.2M392.37 69.41v4.2M392.47 69.44v4.2M392.56 69.42v4.2M392.66 69.77v4.2M392.75 69.57v4.2M392.85 69.62v4.2M392.94 69.57v4.2M393.03 69.88v4.2M393.13 69.83v4.2M393.22 69.73v4.2M393.32 70.02v4.2M393.41 69.97v4.2M393.51 70.12v4.2M393.60 70.14v4.2M393.70 70.09v4.2M393.79 70.12v4.2M393.89 70.39v4.2M393.98 70.17v4.2M394.08 70.20v4.2M394.17 70.56v4.2M394.27 70.55v4.2M394.36 70.71v4.2M394.46 70.65v4.2M394.55 70.86v4.2M394.65 70.70v4.2M394.74 70.61v4.2M394.83 70.91v4.2M394.93 70.80v4.2M395.02 70.91v4.2M395.12 70.96v4.2M395.21 71.00v4.2M395.31 71.13v4.2M395.40 71.22v4.2M395.50 71.07v4.2M395.59 71.46v4.2M395.69 71.31v4.2M395.78 71.53v4.2M395.88 71.44v4.2M395.97 71.42v4.2M396.07 71.57v4.2M396.16 71.60v4.2M396.26 71.70v4.2M396.35 71.92v4.2M396.44 71.99v4.2M396.54 71.87v4.2M396.63 72.14v4.2M396.73 72.18v4.2M396.82 72.07v4.2M396.92 72.31v4.2M397.01 72.17v4.2M397.11 72.48v4.2M397.20 72.40v4.2M397.30 72.60v4.2M397.39 72.80v4.2M397.49 72.78v4.2M397.58 72.79v4.2M397.68 72.86v4.2M397.77 72.79v4.2M397.87 72.95v4.2M397.96 72.84v4.2M398.06 73.08v4.2M398.15 73.33v4.2M398.24 73.20v4.2M398.34 73.35v4.2M398.43 73.47v4.2M398.53 73.39v4.2M398.62 73.27v4.2M398.72 73.67v4.2M398.81 73.53v4.2M398.91 73.55v4.2M399.00 73.46v4.2M399.10 73.78v4.2M399.19 73.88v4.2M399.29 73.81v4.2M399.38 73.72v4.2M399.48 73.98v4.2M399.57 73.83v4.2M399.67 73.94v4.2M399.76 73.95v4.2M399.85 74.11v4.2M399.95 74.21v4.2M400.04 74.22v4.2M400.14 74.11v4.2M400.23 74.19v4.2M400.33 74.23v4.2M400.42 74.39v4.2M400.52 74.62v4.2M400.61 74.54v4.2M400.71 74.66v4.2M400.80 74.39v4.2M400.90 74.41v4.2M400.99 74.66v4.2M401.09 74.57v4.2M401.18 74.65v4.2M401.28 74.85v4.2M401.37 74.63v4.2M401.47 74.98v4.2M401.56 74.82v4.2M401.65 74.93v4.2M401.75 74.74v4.2M401.84 74.78v4.2M401.94 75.06v4.2M402.03 74.83v4.2M402.13 75.10v4.2M402.22 75.00v4.2M402.32 75.02v4.2M402.41 75.31v4.2M402.51 75.31v4.2M402.60 75.11v4.2M402.70 75.17v4.2M402.79 75.16v4.2M402.89 75.11v4.2M402.98 75.47v4.2M403.08 75.38v4.2M403.17 75.43v4.2M403.26 75.34v4.2M403.36 75.28v4.2M403.45 75.47v4.2M403.55 75.34v4.2M403.64 75.63v4.2M403.74 75.67v4.2M403.83 75.71v4.2M403.93 75.43v4.2M404.02 75.49v4.2M404.12 75.74v4.2M404.21 75.61v4.2M404.31 75.67v4.2M404.40 75.76v4.2M404.50 75.58v4.2M404.59 75.71v4.2M404.69 75.58v4.2M404.78 75.58v4.2M404.88 75.98v4.2M404.97 75.90v4.2M405.06 75.88v4.2M405.16 75.74v4.2M405.25 75.79v4.2M405.35 76.06v4.2M405.44 76.11v4.2M405.54 75.99v4.2M405.63 76.12v4.2M405.73 75.94v4.2M405.82 76.14v4.2M405.92 76.12v4.2M406.01 75.94v4.2M406.11 76.25v4.2M406.20 75.91v4.2M406.30 76.04v4.2M406.39 76.17v4.2M406.49 76.38v4.2M406.58 76.19v4.2M406.67 76.13v4.2M406.77 76.43v4.2M406.86 76.47v4.2M406.96 76.32v4.2M407.05 76.63v4.2M407.15 76.61v4.2M407.24 76.73v4.2M407.34 77.06v4.2M407.43 77.15v4.2M407.53 77.34v4.2M407.62 77.38v4.2M407.72 77.41v4.2M407.81 77.56v4.2M407.91 77.64v4.2M408.00 77.78v4.2M408.10 78.14v4.2M408.19 78.18v4.2M408.29 78.54v4.2M408.38 78.58v4.2M408.47 78.89v4.2M408.57 79.25v4.2M408.66 79.28v4.2M408.76 79.69v4.2M408.85 79.69v4.2M408.95 79.90v4.2M409.04 80.42v4.2M409.14 80.62v4.2M409.23 81.03v4.2M409.33 81.31v4.2M409.42 81.59v4.2M409.52 81.89v4.2M409.61 82.16v4.2M409.71 82.79v4.2M409.80 82.78v4.2M409.90 83.19v4.2M409.99 83.66v4.2M410.08 83.91v4.2M410.18 84.27v4.2M410.27 84.41v4.2M410.37 84.56v4.2M410.46 85.09v4.2M410.56 85.08v4.2M410.65 85.74v4.2M410.75 85.88v4.2M410.84 86.32v4.2M410.94 86.77v4.2M411.03 87.01v4.2M411.13 87.55v4.2M411.22 88.03v4.2M411.32 88.41v4.2M411.41 89.13v4.2M411.51 89.46v4.2M411.60 90.05v4.2M411.70 90.90v4.2M411.79 91.60v4.2M411.88 92.08v4.2M411.98 92.57v4.2M412.07 93.38v4.2M412.17 93.96v4.2M412.26 94.58v4.2M412.36 95.31v4.2M412.45 96.20v4.2M412.55 96.82v4.2M412.64 97.70v4.2M412.74 98.19v4.2M412.83 99.05v4.2M412.93 99.62v4.2M413.02 100.32v4.2M413.12 100.93v4.2M413.21 101.82v4.2M413.31 102.27v4.2M413.40 103.06v4.2M413.49 103.70v4.2M413.59 104.27v4.2M413.68 104.94v4.2M413.78 105.56v4.2M413.87 105.94v4.2M413.97 106.82v4.2M414.06 107.32v4.2M414.16 108.04v4.2M414.25 108.35v4.2M414.35 108.91v4.2M414.44 109.73v4.2M414.54 110.17v4.2M414.63 111.01v4.2M414.73 111.30v4.2M414.82 111.92v4.2M414.92 112.43v4.2M415.01 113.06v4.2M415.11 113.45v4.2M415.20 114.28v4.2M416.00 114.01v4.2M416.09 113.73v4.2M416.19 113.21v4.2M416.28 112.39v4.2M416.38 112.03v4.2M416.47 111.50v4.2M416.57 110.59v4.2M416.66 110.39v4.2M416.76 109.57v4.2M416.85 108.97v4.2M416.95 108.57v4.2M417.04 107.73v4.2M417.14 107.08v4.2M417.23 106.85v4.2M417.33 105.87v4.2M417.42 105.51v4.2M417.52 104.87v4.2M417.61 104.19v4.2M417.71 103.73v4.2M417.80 103.10v4.2M417.89 102.16v4.2M417.99 101.77v4.2M418.08 101.22v4.2M418.18 100.38v4.2M418.27 99.60v4.2M418.37 99.10v4.2M418.46 98.19v4.2M418.56 97.64v4.2M418.65 96.99v4.2M418.75 96.17v4.2M418.84 95.62v4.2M418.94 95.02v4.2M419.03 94.19v4.2M419.13 93.54v4.2M419.22 92.74v4.2M419.32 92.02v4.2M419.41 91.57v4.2M419.51 90.85v4.2M419.60 90.38v4.2M419.69 89.55v4.2M419.79 89.08v4.2M419.88 88.53v4.2M419.98 88.08v4.2M420.07 87.26v4.2M420.17 87.10v4.2M420.26 86.31v4.2M420.36 86.13v4.2M420.45 85.61v4.2M420.55 85.18v4.2M420.64 84.75v4.2M420.74 84.00v4.2M420.83 83.72v4.2M420.93 83.47v4.2M421.02 83.05v4.2M421.12 82.92v4.2M421.21 82.76v4.2M421.31 82.25v4.2M421.40 82.06v4.2M421.49 82.05v4.2M421.59 81.60v4.2M421.68 81.28v4.2M421.78 81.33v4.2M421.87 80.94v4.2M421.97 80.86v4.2M422.06 80.48v4.2M422.16 80.51v4.2M422.25 80.45v4.2M422.35 80.17v4.2M422.44 80.02v4.2M422.54 80.08v4.2M422.63 79.91v4.2M422.73 79.83v4.2M422.82 79.68v4.2M422.92 79.87v4.2M423.01 79.93v4.2M423.11 79.60v4.2M423.20 79.73v4.2M423.29 79.87v4.2M423.39 79.67v4.2M423.48 79.96v4.2M423.58 79.67v4.2M423.67 79.72v4.2M423.77 79.82v4.2M423.86 79.70v4.2M423.96 80.01v4.2M424.05 79.86v4.2M424.15 79.82v4.2M424.24 79.92v4.2M424.34 79.99v4.2M424.43 79.92v4.2M424.53 79.97v4.2M424.62 80.00v4.2M424.72 79.91v4.2M424.81 79.86v4.2M424.91 79.81v4.2M425.00 80.04v4.2M425.09 79.94v4.2M425.19 80.19v4.2M425.28 79.93v4.2M425.38 80.15v4.2M425.47 80.03v4.2M425.57 79.93v4.2M425.66 80.04v4.2M425.76 80.15v4.2M425.85 80.19v4.2M425.95 80.09v4.2M426.04 80.07v4.2M426.14 80.07v4.2M426.23 80.28v4.2M426.33 80.36v4.2M426.42 80.49v4.2M426.52 80.38v4.2M426.61 80.36v4.2M426.71 80.60v4.2M426.80 80.59v4.2M426.89 80.68v4.2M426.99 80.47v4.2M427.08 80.83v4.2M427.18 80.72v4.2M427.27 80.88v4.2M427.37 80.70v4.2M427.46 80.73v4.2M427.56 80.79v4.2M427.65 80.86v4.2M427.75 80.92v4.2M427.84 81.27v4.2M427.94 81.19v4.2M428.03 81.04v4.2M428.13 81.45v4.2M428.22 81.26v4.2M428.32 81.40v4.2M428.41 81.42v4.2M428.51 81.33v4.2M428.60 81.55v4.2M428.69 81.64v4.2M428.79 81.44v4.2M428.88 81.45v4.2M428.98 81.51v4.2M429.07 81.70v4.2M429.17 81.60v4.2M429.26 81.46v4.2M429.36 81.46v4.2M429.45 81.75v4.2M429.55 81.58v4.2M429.64 81.86v4.2M429.74 81.82v4.2M429.83 81.71v4.2M429.93 81.69v4.2M430.02 81.97v4.2M430.12 81.81v4.2M430.21 82.18v4.2M430.31 82.04v4.2M430.40 82.02v4.2M430.49 82.27v4.2M430.59 82.26v4.2M430.68 82.35v4.2M430.78 82.50v4.2M430.87 82.47v4.2M430.97 82.42v4.2M431.06 82.59v4.2M431.16 83.06v4.2M431.25 83.06v4.2M431.35 82.97v4.2M431.44 83.18v4.2M431.54 83.32v4.2M431.63 83.55v4.2M431.73 83.88v4.2M431.82 84.16v4.2M431.92 84.19v4.2M432.01 84.33v4.2M432.11 84.68v4.2M432.20 84.53v4.2M432.29 85.01v4.2M432.39 85.07v4.2M432.48 85.06v4.2M432.58 85.43v4.2M432.67 85.34v4.2M432.77 85.64v4.2M432.86 85.72v4.2M432.96 85.69v4.2M433.05 86.13v4.2M433.15 85.95v4.2M433.24 86.12v4.2M433.34 86.34v4.2M433.43 86.30v4.2M433.53 86.33v4.2M433.62 86.52v4.2M433.72 86.65v4.2M433.81 86.93v4.2M433.91 86.93v4.2M434.00 87.18v4.2M434.09 86.96v4.2M434.19 87.34v4.2M434.28 87.50v4.2M434.38 87.59v4.2M434.47 87.41v4.2M434.57 87.42v4.2M434.66 87.78v4.2M434.76 87.73v4.2M434.85 87.90v4.2M434.95 87.76v4.2M435.04 88.19v4.2M435.14 88.04v4.2M435.23 88.34v4.2M435.33 88.03v4.2M435.42 88.22v4.2M435.52 88.35v4.2M435.61 88.38v4.2M435.71 88.37v4.2M435.80 88.74v4.2M435.89 88.62v4.2M435.99 88.82v4.2M436.08 88.70v4.2M436.18 88.85v4.2M436.27 88.83v4.2M436.37 88.67v4.2M436.46 88.93v4.2M436.56 88.99v4.2M436.65 89.01v4.2M436.75 88.96v4.2M436.84 88.81v4.2M436.94 89.16v4.2M437.03 89.24v4.2M437.13 88.91v4.2M437.22 88.93v4.2M437.32 89.11v4.2M437.41 89.26v4.2M437.51 89.17v4.2M437.60 89.34v4.2M437.69 89.39v4.2M437.79 89.30v4.2M437.88 89.33v4.2M437.98 89.37v4.2M438.07 89.28v4.2M438.17 89.23v4.2M438.26 89.54v4.2M438.36 89.30v4.2M438.45 89.55v4.2M438.55 89.45v4.2M438.64 89.56v4.2M438.74 89.60v4.2M438.83 89.66v4.2M438.93 89.66v4.2M439.02 89.48v4.2M439.12 89.71v4.2M439.21 89.74v4.2M439.31 89.68v4.2M439.40 89.52v4.2M439.49 89.86v4.2M439.59 89.82v4.2M439.68 89.68v4.2M439.78 89.67v4.2M439.87 89.91v4.2M439.97 89.87v4.2M440.06 89.79v4.2M440.16 90.04v4.2M440.25 90.10v4.2M440.35 90.01v4.2M440.44 90.11v4.2M440.54 90.05v4.2M440.63 89.98v4.2M440.73 90.21v4.2M440.82 90.22v4.2M440.92 90.33v4.2M441.01 90.17v4.2M441.11 90.45v4.2M441.20 90.40v4.2M441.29 90.47v4.2M441.39 90.56v4.2M441.48 90.46v4.2M441.58 90.67v4.2M441.67 90.74v4.2M441.77 90.83v4.2M441.86 90.74v4.2M441.96 90.58v4.2M442.05 90.71v4.2M442.15 90.75v4.2M442.24 90.78v4.2M442.34 90.94v4.2M442.43 91.08v4.2M442.53 91.30v4.2M442.62 91.00v4.2M442.72 91.41v4.2M442.81 91.31v4.2M442.91 91.47v4.2M443.00 91.54v4.2M443.09 91.42v4.2M443.19 91.62v4.2M443.28 91.70v4.2M443.38 91.59v4.2M443.47 91.89v4.2M443.57 91.93v4.2M443.66 91.65v4.2M443.76 92.05v4.2M443.85 91.92v4.2M443.95 92.22v4.2M444.04 91.93v4.2M444.14 92.31v4.2M444.23 92.25v4.2M444.33 92.23v4.2M444.42 92.39v4.2M444.52 92.61v4.2M444.61 92.52v4.2M444.71 92.61v4.2M444.80 92.85v4.2M444.89 92.91v4.2M444.99 92.74v4.2M445.08 92.94v4.2M445.18 92.97v4.2M445.27 92.96v4.2M445.37 93.04v4.2M445.46 93.07v4.2M445.56 93.17v4.2M445.65 93.34v4.2M445.75 93.34v4.2M445.84 93.59v4.2M445.94 93.41v4.2M446.03 93.53v4.2M446.13 93.87v4.2M446.22 93.77v4.2M446.32 93.67v4.2M446.41 93.98v4.2M446.51 93.70v4.2M446.60 93.86v4.2M446.69 93.83v4.2M446.79 93.98v4.2M446.88 94.04v4.2M446.98 94.25v4.2M447.07 94.12v4.2M447.17 94.32v4.2M447.26 94.37v4.2M447.36 94.04v4.2M447.45 94.10v4.2M447.55 94.42v4.2M447.64 94.24v4.2M447.74 94.34v4.2M447.83 94.45v4.2M447.93 94.39v4.2M448.02 94.59v4.2M448.12 94.29v4.2M448.21 94.41v4.2M448.31 94.35v4.2M448.40 94.45v4.2M448.49 94.76v4.2M448.59 94.40v4.2M448.68 94.62v4.2M448.78 94.50v4.2M448.87 94.72v4.2M448.97 94.50v4.2M449.06 94.74v4.2M449.16 94.66v4.2M449.25 94.84v4.2M449.35 94.48v4.2M449.44 94.65v4.2M449.54 94.78v4.2M449.63 94.61v4.2M449.73 94.54v4.2M449.82 94.71v4.2M449.92 94.64v4.2M450.01 94.58v4.2M450.11 94.39v4.2M450.20 94.31v4.2M450.29 94.24v4.2M450.39 94.47v4.2M450.48 94.06v4.2M450.58 94.02v4.2M450.67 94.17v4.2M450.77 94.21v4.2M450.86 94.19v4.2M450.96 93.99v4.2M451.05 94.03v4.2M451.15 93.78v4.2M451.24 93.79v4.2M451.34 93.84v4.2M451.43 93.55v4.2M451.53 93.72v4.2M451.62 93.56v4.2M451.72 93.37v4.2M451.81 93.46v4.2M451.91 93.58v4.2M452.00 93.58v4.2M452.09 93.51v4.2M452.19 93.51v4.2M452.28 93.35v4.2M452.38 93.32v4.2M452.47 93.36v4.2M452.57 93.38v4.2M452.66 93.33v4.2M452.76 93.56v4.2M452.85 93.49v4.2M452.95 93.27v4.2M453.04 93.27v4.2M453.14 93.41v4.2M453.23 93.48v4.2M453.33 93.50v4.2M453.42 93.40v4.2M453.52 93.47v4.2M453.61 93.49v4.2M453.71 93.37v4.2M453.80 93.58v4.2M453.89 93.40v4.2M453.99 93.33v4.2M454.08 93.34v4.2M454.18 93.55v4.2M454.27 93.49v4.2M454.37 93.65v4.2M454.46 93.67v4.2M454.56 93.42v4.2M454.65 93.65v4.2M454.75 93.62v4.2M454.84 93.58v4.2M454.94 93.77v4.2M455.03 93.45v4.2M455.13 93.56v4.2M455.22 93.56v4.2M455.32 93.52v4.2M455.41 93.67v4.2M455.51 93.77v4.2M455.60 93.63v4.2M455.69 93.49v4.2M455.79 93.57v4.2M455.88 93.76v4.2M455.98 93.67v4.2M456.07 93.52v4.2M456.17 93.61v4.2M456.26 93.73v4.2M456.36 93.67v4.2M456.45 93.64v4.2M456.55 93.72v4.2M456.64 93.63v4.2M456.74 93.97v4.2M456.83 93.76v4.2M456.93 93.84v4.2M457.02 93.89v4.2M457.12 93.88v4.2M457.21 94.09v4.2M457.31 93.81v4.2M457.40 93.97v4.2M457.49 93.86v4.2M457.59 93.85v4.2M457.68 94.13v4.2M457.78 94.01v4.2M457.87 94.19v4.2M457.97 94.11v4.2M458.06 93.96v4.2M458.16 93.99v4.2M458.25 93.99v4.2M458.35 94.23v4.2M458.44 94.18v4.2M458.54 94.15v4.2M458.63 94.17v4.2M458.73 94.24v4.2M458.82 94.42v4.2M458.92 94.44v4.2M459.01 94.42v4.2M459.11 94.40v4.2M459.20 94.15v4.2M459.29 94.25v4.2M459.39 94.43v4.2M459.48 94.17v4.2M459.58 94.37v4.2M459.67 94.11v4.2M459.77 94.38v4.2M459.86 94.14v4.2M459.96 94.12v4.2M460.05 94.38v4.2M460.15 94.02v4.2M460.24 94.31v4.2M460.34 94.04v4.2M460.43 94.01v4.2M460.53 93.92v4.2M460.62 93.85v4.2M460.72 93.95v4.2M460.81 93.94v4.2M460.91 93.85v4.2M461.00 93.69v4.2M461.09 94.01v4.2M461.19 93.95v4.2M461.28 93.83v4.2M461.38 93.59v4.2M461.47 93.55v4.2M461.57 93.65v4.2M461.66 93.48v4.2M461.76 93.49v4.2M461.85 93.42v4.2M461.95 93.60v4.2M462.04 93.52v4.2M462.14 93.30v4.2M462.23 93.55v4.2M462.33 93.38v4.2M462.42 93.42v4.2M462.52 93.33v4.2M462.61 93.21v4.2M462.71 93.18v4.2M462.80 93.13v4.2M462.89 92.96v4.2M462.99 93.28v4.2M463.08 93.01v4.2M463.18 92.87v4.2M463.27 92.86v4.2M463.37 92.94v4.2M463.46 93.04v4.2M463.56 92.93v4.2M463.65 92.83v4.2M463.75 93.03v4.2M463.84 92.66v4.2M463.94 92.71v4.2M464.03 92.93v4.2M464.13 92.73v4.2M464.22 92.70v4.2M464.32 92.52v4.2M464.41 92.70v4.2M464.51 92.72v4.2M464.60 92.74v4.2M464.69 92.42v4.2M464.79 92.58v4.2M464.88 92.66v4.2M464.98 92.66v4.2M465.07 92.32v4.2M465.17 92.32v4.2M465.26 92.61v4.2M465.36 92.38v4.2M465.45 92.38v4.2M465.55 92.49v4.2M465.64 92.26v4.2M465.74 92.22v4.2M465.83 92.37v4.2M465.93 92.38v4.2M466.02 92.49v4.2M466.12 92.15v4.2M466.21 92.35v4.2M466.31 92.13v4.2M466.40 92.30v4.2M466.49 92.31v4.2M466.59 92.21v4.2M466.68 92.19v4.2M466.78 92.18v4.2M466.87 92.33v4.2M466.97 92.33v4.2M467.06 92.16v4.2M467.16 92.27v4.2M467.25 92.13v4.2M467.35 92.12v4.2M467.44 92.19v4.2M467.54 92.17v4.2M467.63 92.10v4.2M467.73 92.10v4.2M467.82 92.24v4.2M467.92 92.02v4.2M468.01 92.13v4.2M468.11 91.92v4.2M468.20 92.25v4.2M468.29 91.86v4.2M468.39 92.15v4.2M468.48 91.89v4.2M468.58 92.08v4.2M468.67 91.81v4.2M468.77 91.93v4.2M468.86 91.81v4.2M468.96 91.95v4.2M469.05 92.02v4.2M469.15 91.77v4.2M469.24 91.98v4.2M469.34 91.91v4.2M469.43 92.09v4.2M469.53 91.89v4.2M469.62 91.74v4.2M469.72 91.82v4.2M469.81 92.06v4.2M469.91 91.90v4.2M470.00 91.85v4.2M470.09 91.81v4.2M470.19 91.80v4.2M470.28 91.73v4.2M470.38 91.89v4.2M470.47 91.72v4.2M470.57 91.71v4.2M470.66 91.70v4.2M470.76 91.73v4.2M470.85 91.99v4.2M470.95 91.70v4.2M471.04 91.63v4.2M471.14 91.99v4.2M471.23 91.80v4.2M471.33 91.98v4.2M471.42 91.90v4.2M471.52 91.77v4.2M471.61 91.75v4.2M471.71 91.57v4.2M471.80 91.73v4.2M471.89 91.65v4.2M471.99 91.70v4.2M472.08 91.89v4.2M472.18 91.79v4.2M472.27 91.91v4.2M472.37 91.84v4.2M472.46 91.87v4.2M472.56 91.56v4.2M472.65 91.72v4.2M472.75 91.84v4.2M472.84 91.82v4.2M472.94 91.83v4.2M473.03 91.67v4.2M473.13 91.54v4.2M473.22 91.70v4.2M473.32 91.71v4.2M473.41 91.78v4.2M473.51 91.62v4.2M473.60 91.83v4.2M473.69 91.82v4.2M473.79 91.76v4.2M473.88 91.76v4.2M473.98 91.85v4.2M474.07 91.49v4.2M474.17 91.58v4.2M474.26 91.62v4.2M474.36 91.60v4.2M474.45 91.70v4.2M474.55 91.60v4.2M474.64 91.57v4.2M474.74 91.43v4.2M474.83 91.43v4.2M474.93 91.60v4.2M475.02 91.53v4.2M475.12 91.48v4.2M475.21 91.39v4.2M475.31 91.41v4.2M475.40 91.44v4.2M475.49 91.55v4.2M475.59 91.45v4.2M475.68 91.53v4.2M475.78 91.64v4.2M475.87 91.36v4.2M475.97 91.58v4.2M476.06 91.62v4.2M476.16 91.67v4.2M476.25 91.70v4.2M476.35 91.36v4.2M476.44 91.29v4.2M476.54 91.52v4.2M476.63 91.46v4.2M476.73 91.59v4.2M476.82 91.44v4.2M476.92 91.51v4.2M477.01 91.16v4.2M477.11 91.32v4.2M477.20 91.18v4.2M477.29 91.15v4.2M477.39 91.07v4.2M477.48 91.39v4.2M477.58 91.14v4.2M477.67 91.28v4.2M477.77 91.24v4.2M477.86 91.22v4.2M477.96 90.99v4.2M478.05 91.15v4.2M478.15 91.00v4.2M478.24 91.16v4.2M478.34 91.03v4.2M478.43 91.10v4.2M478.53 91.10v4.2M478.62 90.84v4.2M478.72 90.82v4.2M478.81 90.66v4.2M478.91 90.97v4.2M479.00 90.87v4.2M479.09 90.68v4.2M479.19 90.86v4.2M479.28 90.98v4.2M479.38 90.97v4.2M479.47 91.00v4.2M479.57 90.75v4.2M479.66 90.74v4.2M479.76 90.67v4.2M479.85 90.77v4.2M479.95 90.87v4.2M480.04 91.08v4.2M480.14 90.90v4.2M480.23 91.34v4.2M480.33 91.31v4.2M480.42 91.49v4.2M480.52 91.36v4.2M480.61 91.56v4.2M480.71 91.83v4.2M480.80 91.63v4.2M480.89 91.74v4.2M480.99 91.90v4.2M481.08 92.06v4.2M481.18 92.19v4.2M481.27 92.28v4.2M481.37 92.48v4.2M481.46 92.74v4.2M481.56 92.86v4.2M481.65 93.08v4.2M481.75 93.33v4.2M481.84 93.70v4.2M481.94 93.99v4.2M482.03 94.52v4.2M482.13 94.92v4.2M482.22 95.34v4.2M482.32 95.65v4.2M482.41 96.01v4.2M482.51 96.57v4.2M482.60 97.05v4.2M482.69 97.52v4.2M482.79 98.13v4.2M482.88 98.45v4.2M482.98 98.98v4.2M483.07 99.10v4.2M483.17 99.73v4.2M483.26 100.02v4.2M483.36 100.36v4.2M483.45 100.81v4.2M483.55 101.41v4.2M483.64 101.80v4.2M483.74 102.33v4.2M483.83 102.70v4.2M483.93 103.19v4.2M484.02 103.77v4.2M484.12 104.48v4.2M484.21 104.91v4.2M484.31 105.57v4.2M484.40 106.22v4.2M484.49 106.64v4.2M484.59 107.28v4.2M484.68 107.73v4.2M484.78 108.39v4.2M484.87 109.14v4.2M484.97 109.74v4.2M485.06 110.04v4.2M485.16 110.61v4.2M485.25 111.24v4.2M485.35 111.75v4.2M485.44 112.32v4.2M485.54 112.91v4.2M485.63 113.16v4.2M485.73 113.59v4.2M485.82 114.08v4.2M485.92 114.67v4.2M486.01 115.20v4.2M486.11 115.63v4.2M486.20 116.45v4.2M486.29 116.81v4.2M486.39 117.34v4.2M486.48 117.93v4.2M486.58 118.76v4.2M486.67 119.25v4.2M486.77 119.93v4.2M486.86 120.26v4.2M486.96 120.90v4.2M487.05 121.62v4.2M487.15 122.28v4.2M487.24 122.80v4.2M487.34 123.47v4.2M487.43 124.09v4.2M487.53 124.76v4.2M487.62 125.47v4.2M487.72 126.19v4.2M487.81 126.91v4.2M487.91 127.73v4.2M488.00 128.60v4.2M488.70 128.43v4.2M488.79 127.76v4.2M488.89 127.09v4.2M488.98 126.35v4.2M489.08 125.94v4.2M489.17 125.24v4.2M489.27 124.69v4.2M489.36 123.97v4.2M489.46 123.27v4.2M489.55 122.70v4.2M489.65 122.01v4.2M489.74 121.44v4.2M489.84 121.10v4.2M489.93 120.18v4.2M490.03 119.73v4.2M490.12 119.25v4.2M490.22 118.43v4.2M490.31 117.79v4.2M490.41 117.10v4.2M490.50 116.50v4.2M490.59 116.21v4.2M490.69 115.40v4.2M490.78 114.71v4.2M490.88 113.97v4.2M490.97 113.59v4.2M491.07 112.73v4.2M491.16 112.24v4.2M491.26 111.72v4.2M491.35 111.13v4.2M491.45 110.56v4.2M491.54 109.74v4.2M491.64 109.15v4.2M491.73 108.61v4.2M491.83 108.19v4.2M491.92 107.74v4.2M492.02 107.25v4.2M492.11 106.82v4.2M492.21 106.56v4.2M492.30 106.20v4.2M492.39 105.73v4.2M492.49 105.65v4.2M492.58 105.00v4.2M492.68 104.76v4.2M492.77 104.37v4.2M492.87 103.95v4.2M492.96 103.58v4.2M493.06 103.05v4.2M493.15 102.57v4.2M493.25 102.12v4.2M493.34 101.37v4.2M493.44 101.25v4.2M493.53 100.65v4.2M493.63 100.37v4.2M493.72 99.85v4.2M493.82 99.73v4.2M493.91 99.63v4.2M494.00 99.24v4.2M494.10 99.13v4.2M494.19 99.05v4.2M494.29 98.72v4.2M494.38 98.54v4.2M494.48 98.44v4.2M494.57 98.36v4.2M494.67 97.94v4.2M494.76 98.08v4.2M494.86 97.85v4.2M494.95 97.59v4.2M495.05 97.39v4.2M495.14 97.32v4.2M495.24 97.29v4.2M495.33 97.33v4.2M495.43 97.15v4.2M495.52 96.96v4.2M495.62 96.93v4.2M495.71 97.24v4.2M495.80 96.86v4.2M495.90 97.16v4.2M495.99 97.13v4.2M496.09 96.98v4.2M496.18 96.97v4.2M496.28 97.02v4.2M496.37 96.98v4.2M496.47 96.91v4.2M496.56 96.90v4.2M496.66 96.94v4.2M496.75 96.65v4.2M496.85 96.69v4.2M496.94 96.81v4.2M497.04 96.76v4.2M497.13 96.63v4.2M497.23 96.85v4.2M497.32 96.45v4.2M497.42 96.49v4.2M497.51 96.46v4.2M497.60 96.52v4.2M497.70 96.75v4.2M497.79 96.76v4.2M497.89 96.66v4.2M497.98 96.51v4.2M498.08 96.70v4.2M498.17 96.45v4.2M498.27 96.53v4.2M498.36 96.60v4.2M498.46 96.45v4.2M498.55 96.59v4.2M498.65 96.67v4.2M498.74 96.44v4.2M498.84 96.61v4.2M498.93 96.33v4.2M499.03 96.66v4.2M499.12 96.49v4.2M499.22 96.44v4.2M499.31 96.68v4.2M499.40 96.34v4.2M499.50 96.51v4.2M499.59 96.68v4.2M499.69 96.45v4.2M499.78 96.41v4.2M499.88 96.48v4.2M499.97 96.57v4.2M500.07 96.41v4.2M500.16 96.68v4.2M500.26 96.68v4.2M500.35 96.64v4.2M500.45 96.55v4.2M500.54 96.52v4.2M500.64 96.46v4.2M500.73 96.53v4.2M500.83 96.60v4.2M500.92 96.57v4.2M501.01 96.67v4.2M501.11 96.49v4.2M501.20 96.84v4.2M501.30 96.86v4.2M501.39 96.90v4.2M501.49 96.66v4.2M501.58 96.76v4.2M501.68 96.78v4.2M501.77 96.96v4.2M501.87 97.16v4.2M501.96 96.95v4.2M502.06 97.18v4.2M502.15 96.91v4.2M502.25 97.20v4.2M502.34 97.13v4.2M502.44 97.16v4.2M502.53 97.32v4.2M502.63 97.44v4.2M502.72 97.51v4.2M502.81 97.34v4.2M502.91 97.42v4.2M503.00 97.44v4.2M503.10 97.32v4.2M503.19 97.56v4.2M503.29 97.68v4.2M503.38 97.80v4.2M503.48 97.57v4.2M503.57 97.76v4.2M503.67 97.91v4.2M503.76 97.73v4.2M503.86 97.82v4.2M503.95 97.94v4.2M504.05 98.11v4.2M504.14 98.24v4.2M504.24 98.08v4.2M504.33 98.28v4.2M504.43 98.49v4.2M504.52 98.56v4.2M504.61 98.58v4.2M504.71 98.49v4.2M504.80 98.67v4.2M504.90 98.66v4.2M504.99 98.75v4.2M505.09 98.76v4.2M505.18 99.08v4.2M505.28 99.06v4.2M505.37 99.04v4.2M505.47 98.91v4.2M505.56 99.09v4.2M505.66 99.38v4.2M505.75 99.14v4.2M505.85 99.52v4.2M505.94 99.40v4.2M506.04 99.32v4.2M506.13 99.53v4.2M506.23 99.72v4.2M506.32 99.47v4.2M506.41 99.70v4.2M506.51 99.82v4.2M506.60 99.76v4.2M506.70 99.75v4.2M506.79 99.91v4.2M506.89 99.92v4.2M506.98 99.77v4.2M507.08 100.11v4.2M507.17 100.11v4.2M507.27 100.00v4.2M507.36 100.16v4.2M507.46 100.05v4.2M507.55 99.81v4.2M507.65 100.17v4.2M507.74 100.06v4.2M507.84 99.84v4.2M507.93 99.78v4.2M508.02 100.06v4.2M508.12 99.90v4.2M508.21 99.78v4.2M508.31 99.98v4.2M508.40 99.91v4.2M508.50 100.00v4.2M508.59 99.89v4.2M508.69 99.80v4.2M508.78 99.73v4.2M508.88 99.96v4.2M508.97 99.92v4.2M509.07 99.54v4.2M509.16 99.88v4.2M509.26 99.75v4.2M509.35 99.52v4.2M509.45 99.70v4.2M509.54 99.61v4.2M509.64 99.57v4.2M509.73 99.64v4.2M509.82 99.38v4.2M509.92 99.55v4.2M510.01 99.42v4.2M510.11 99.31v4.2M510.20 99.52v4.2M510.30 99.13v4.2M510.39 99.31v4.2M510.49 99.38v4.2M510.58 99.04v4.2M510.68 99.33v4.2M510.77 99.17v4.2M510.87 99.16v4.2M510.96 99.04v4.2M511.06 99.20v4.2M511.15 98.93v4.2M511.25 99.05v4.2M511.34 98.99v4.2M511.44 99.05v4.2M511.53 98.90v4.2M511.62 99.03v4.2M511.72 98.81v4.2M511.81 99.05v4.2M511.91 99.04v4.2M512.00 98.86v4.2M512.10 98.93v4.2M512.19 98.99v4.2M512.29 99.16v4.2M512.38 99.23v4.2M512.48 99.08v4.2M512.57 99.18v4.2M512.67 99.03v4.2M512.76 99.26v4.2M512.86 99.30v4.2M512.95 99.35v4.2M513.05 99.22v4.2M513.14 99.03v4.2M513.24 99.12v4.2M513.33 99.15v4.2M513.42 99.34v4.2M513.52 99.26v4.2M513.61 99.33v4.2M513.71 99.50v4.2M513.80 99.27v4.2M513.90 99.28v4.2M513.99 99.40v4.2M514.09 99.60v4.2M514.18 99.48v4.2M514.28 99.79v4.2M514.37 99.67v4.2M514.47 99.72v4.2M514.56 99.74v4.2M514.66 99.61v4.2M514.75 99.88v4.2M514.85 99.90v4.2M514.94 99.99v4.2M515.03 99.88v4.2M515.13 100.14v4.2M515.22 99.99v4.2M515.32 100.17v4.2M515.41 99.90v4.2M515.51 100.17v4.2M515.60 100.35v4.2M515.70 100.08v4.2M515.79 100.05v4.2M515.89 100.09v4.2M515.98 100.26v4.2M516.08 100.47v4.2M516.17 100.26v4.2M516.27 100.46v4.2M516.36 100.55v4.2M516.46 100.35v4.2M516.55 100.63v4.2M516.65 100.53v4.2M516.74 100.49v4.2M516.83 100.49v4.2M516.93 100.42v4.2M517.02 100.70v4.2M517.12 100.71v4.2M517.21 100.47v4.2M517.31 100.42v4.2M517.40 100.46v4.2M517.50 100.56v4.2M517.59 100.54v4.2M517.69 100.76v4.2M517.78 100.68v4.2M517.88 100.42v4.2M517.97 100.69v4.2M518.07 100.68v4.2M518.16 100.65v4.2M518.26 100.43v4.2M518.35 100.44v4.2M518.45 100.50v4.2M518.54 100.16v4.2M518.63 100.44v4.2M518.73 100.10v4.2M518.82 100.07v4.2M518.92 99.96v4.2M519.01 100.09v4.2M519.11 100.04v4.2M519.20 99.77v4.2M519.30 99.70v4.2M519.39 99.95v4.2M519.49 99.81v4.2M519.58 99.53v4.2M519.68 99.68v4.2M519.77 99.57v4.2M519.87 99.40v4.2M519.96 99.54v4.2M520.06 99.40v4.2M520.15 99.16v4.2M520.25 99.35v4.2M520.34 99.08v4.2M520.43 99.20v4.2M520.53 99.03v4.2M520.62 98.95v4.2M520.72 98.82v4.2M520.81 98.90v4.2M520.91 98.86v4.2M521.00 98.72v4.2M521.10 98.64v4.2M521.19 98.71v4.2M521.29 98.61v4.2M521.38 98.61v4.2M521.48 98.64v4.2M521.57 98.65v4.2M521.67 98.43v4.2M521.76 98.41v4.2M521.86 98.16v4.2M521.95 98.14v4.2M522.04 98.17v4.2M522.14 98.18v4.2M522.23 97.99v4.2M522.33 98.07v4.2M522.42 98.10v4.2M522.52 98.04v4.2M522.61 98.05v4.2M522.71 97.91v4.2M522.80 97.92v4.2M522.90 97.84v4.2M522.99 97.59v4.2M523.09 97.76v4.2M523.18 97.74v4.2M523.28 97.56v4.2M523.37 97.73v4.2M523.47 97.53v4.2M523.56 97.71v4.2M523.66 97.69v4.2M523.75 97.50v4.2M523.84 97.63v4.2M523.94 97.40v4.2M524.03 97.38v4.2M524.13 97.64v4.2M524.22 97.34v4.2M524.32 97.58v4.2M524.41 97.62v4.2M524.51 97.53v4.2M524.60 97.45v4.2M524.70 97.38v4.2M524.79 97.55v4.2M524.89 97.57v4.2M524.98 97.63v4.2M525.08 97.55v4.2M525.17 97.62v4.2M525.27 97.63v4.2M525.36 97.63v4.2M525.46 97.74v4.2M525.55 97.99v4.2M525.64 98.03v4.2M525.74 97.94v4.2M525.83 98.04v4.2M525.93 98.05v4.2M526.02 98.09v4.2M526.12 98.08v4.2M526.21 98.21v4.2M526.31 98.13v4.2M526.40 98.15v4.2M526.50 98.16v4.2M526.59 98.28v4.2M526.69 98.46v4.2M526.78 98.22v4.2M526.88 98.56v4.2M526.97 98.61v4.2M527.07 98.60v4.2M527.16 98.63v4.2M527.26 98.46v4.2M527.35 98.59v4.2M527.44 98.54v4.2M527.54 98.71v4.2M527.63 98.73v4.2M527.73 98.74v4.2M527.82 99.01v4.2M527.92 98.82v4.2M528.01 99.04v4.2M528.11 98.85v4.2M528.20 98.85v4.2M528.30 98.96v4.2M528.39 99.00v4.2M528.49 99.08v4.2M528.58 98.95v4.2M528.68 99.21v4.2M528.77 99.38v4.2M528.87 99.08v4.2M528.96 99.40v4.2M529.05 99.26v4.2M529.15 99.20v4.2M529.24 99.50v4.2M529.34 99.61v4.2M529.43 99.55v4.2M529.53 99.62v4.2M529.62 99.67v4.2M529.72 99.70v4.2M529.81 99.59v4.2M529.91 99.63v4.2M530.00 99.51v4.2M530.10 99.81v4.2M530.19 99.90v4.2M530.29 99.95v4.2M530.38 99.98v4.2M530.48 99.81v4.2M530.57 99.95v4.2M530.67 99.83v4.2M530.76 100.04v4.2M530.85 99.80v4.2M530.95 99.77v4.2M531.04 99.84v4.2M531.14 99.89v4.2M531.23 99.87v4.2M531.33 100.01v4.2M531.42 100.12v4.2M531.52 100.05v4.2M531.61 100.22v4.2M531.71 99.92v4.2M531.80 99.87v4.2M531.90 100.00v4.2M531.99 100.16v4.2M532.09 99.97v4.2M532.18 99.91v4.2M532.28 100.03v4.2M532.37 100.28v4.2M532.47 100.04v4.2M532.56 100.00v4.2M532.65 100.06v4.2M532.75 100.15v4.2M532.84 100.27v4.2M532.94 100.22v4.2M533.03 100.31v4.2M533.13 100.15v4.2M533.22 100.07v4.2M533.32 100.07v4.2M533.41 100.02v4.2M533.51 100.25v4.2M533.60 100.15v4.2M533.70 100.18v4.2M533.79 100.20v4.2M533.89 100.08v4.2M533.98 100.24v4.2M534.08 100.16v4.2M534.17 100.18v4.2M534.27 100.50v4.2M534.36 100.25v4.2M534.45 100.50v4.2M534.55 100.46v4.2M534.64 100.47v4.2M534.74 100.78v4.2M534.83 100.66v4.2M534.93 100.90v4.2M535.02 100.69v4.2M535.12 100.90v4.2M535.21 100.86v4.2M535.31 101.16v4.2M535.40 100.95v4.2M535.50 101.11v4.2M535.59 101.47v4.2M535.69 101.39v4.2M535.78 101.45v4.2M535.88 101.48v4.2M535.97 101.82v4.2M536.06 101.89v4.2M536.16 101.78v4.2M536.25 101.87v4.2M536.35 101.81v4.2M536.44 102.02v4.2M536.54 102.01v4.2M536.63 102.26v4.2M536.73 102.28v4.2M536.82 102.58v4.2M536.92 102.60v4.2M537.01 102.75v4.2M537.11 102.81v4.2M537.20 102.73v4.2M537.30 102.93v4.2M537.39 102.98v4.2M537.49 103.12v4.2M537.58 103.08v4.2M537.68 103.50v4.2M537.77 103.64v4.2M537.86 103.74v4.2M537.96 103.53v4.2M538.05 103.59v4.2M538.15 103.86v4.2M538.24 104.11v4.2M538.34 104.11v4.2M538.43 104.23v4.2M538.53 104.08v4.2M538.62 104.17v4.2M538.72 104.63v4.2M538.81 104.53v4.2M538.91 104.61v4.2M539.00 104.70v4.2M539.10 104.77v4.2M539.19 104.84v4.2M539.29 104.81v4.2M539.38 104.97v4.2M539.48 105.04v4.2M539.57 105.08v4.2M539.66 105.30v4.2M539.76 105.49v4.2M539.85 105.68v4.2M539.95 105.71v4.2M540.04 105.82v4.2M540.14 105.72v4.2M540.23 105.94v4.2M540.33 105.83v4.2M540.42 105.98v4.2M540.52 106.06v4.2M540.61 106.25v4.2M540.71 106.48v4.2M540.80 106.17v4.2M540.90 106.29v4.2M540.99 106.46v4.2M541.09 106.61v4.2M541.18 106.70v4.2M541.28 106.48v4.2M541.37 106.42v4.2M541.46 106.81v4.2M541.56 106.49v4.2M541.65 106.62v4.2M541.75 106.55v4.2M541.84 106.51v4.2M541.94 106.73v4.2M542.03 106.65v4.2M542.13 106.60v4.2M542.22 106.59v4.2M542.32 106.81v4.2M542.41 106.80v4.2M542.51 106.47v4.2M542.60 106.79v4.2M542.70 106.52v4.2M542.79 106.54v4.2M542.89 106.64v4.2M542.98 106.70v4.2M543.07 106.67v4.2M543.17 106.49v4.2M543.26 106.84v4.2M543.36 106.75v4.2M543.45 106.70v4.2M543.55 106.84v4.2M543.64 106.85v4.2M543.74 106.69v4.2M543.83 106.62v4.2M543.93 106.71v4.2M544.02 106.75v4.2M544.12 106.46v4.2M544.21 106.73v4.2M544.31 106.64v4.2M544.40 106.69v4.2M544.50 106.50v4.2M544.59 106.47v4.2M544.69 106.67v4.2M544.78 106.57v4.2M544.87 106.78v4.2M544.97 106.86v4.2M545.06 106.72v4.2M545.16 106.88v4.2M545.25 106.65v4.2M545.35 106.72v4.2M545.44 106.76v4.2M545.54 106.82v4.2M545.63 106.74v4.2M545.73 106.96v4.2M545.82 107.05v4.2M545.92 107.30v4.2M546.01 107.13v4.2M546.11 107.16v4.2M546.20 107.52v4.2M546.30 107.51v4.2M546.39 107.32v4.2M546.49 107.47v4.2M546.58 107.57v4.2M546.67 107.85v4.2M546.77 107.74v4.2M546.86 108.08v4.2M546.96 108.08v4.2M547.05 108.23v4.2M547.15 108.31v4.2M547.24 108.32v4.2M547.34 108.35v4.2M547.43 108.59v4.2M547.53 108.38v4.2M547.62 108.61v4.2M547.72 108.67v4.2M547.81 108.65v4.2M547.91 108.83v4.2M548.00 108.77v4.2M548.10 109.01v4.2M548.19 108.88v4.2M548.29 109.18v4.2M548.38 109.21v4.2M548.47 109.42v4.2M548.57 109.36v4.2M548.66 109.46v4.2M548.76 109.50v4.2M548.85 109.64v4.2M548.95 109.67v4.2M549.04 109.87v4.2M549.14 109.91v4.2M549.23 109.94v4.2M549.33 109.73v4.2M549.42 109.82v4.2M549.52 110.18v4.2M549.61 110.30v4.2M549.71 110.09v4.2M549.80 110.43v4.2M549.90 110.18v4.2M549.99 110.42v4.2M550.08 110.43v4.2M550.18 110.77v4.2M550.27 110.53v4.2M550.37 110.72v4.2M550.46 110.98v4.2M550.56 110.97v4.2M550.65 111.15v4.2M550.75 111.10v4.2M550.84 111.00v4.2M550.94 111.17v4.2M551.03 111.38v4.2M551.13 111.39v4.2M551.22 111.68v4.2M551.32 111.58v4.2M551.41 111.60v4.2M551.51 111.74v4.2M551.60 111.73v4.2M551.70 111.78v4.2M551.79 111.83v4.2M551.88 111.95v4.2M551.98 112.24v4.2M552.07 112.08v4.2M552.17 112.34v4.2M552.26 112.24v4.2M552.36 112.32v4.2M552.45 112.59v4.2M552.55 112.57v4.2M552.64 112.51v4.2M552.74 112.51v4.2M552.83 112.91v4.2M552.93 112.75v4.2M553.02 113.03v4.2M553.12 113.16v4.2M553.21 113.06v4.2M553.31 113.15v4.2M553.40 113.14v4.2M553.50 113.52v4.2M553.59 113.38v4.2M553.68 113.71v4.2M553.78 113.59v4.2M553.87 113.76v4.2M553.97 114.14v4.2M554.06 114.12v4.2M554.16 114.20v4.2M554.25 114.42v4.2M554.35 114.67v4.2M554.44 115.17v4.2M554.54 115.08v4.2M554.63 115.29v4.2M554.73 115.54v4.2M554.82 115.86v4.2M554.92 116.08v4.2M555.01 116.45v4.2M555.11 116.65v4.2M555.20 116.97v4.2M555.30 117.32v4.2M555.39 117.59v4.2M555.48 117.68v4.2M555.58 118.06v4.2M555.67 118.62v4.2M555.77 118.92v4.2M555.86 119.16v4.2M555.96 119.80v4.2M556.05 120.04v4.2M556.15 120.36v4.2M556.24 120.71v4.2M556.34 121.24v4.2M556.43 121.56v4.2M556.53 122.01v4.2M556.62 122.50v4.2M556.72 123.04v4.2M556.81 123.70v4.2M556.91 124.52v4.2M557.00 125.48v4.2M557.09 126.22v4.2M557.19 126.95v4.2M557.28 127.94v4.2M557.38 129.04v4.2M557.47 129.70v4.2M557.57 130.52v4.2M557.66 131.29v4.2M557.76 132.30v4.2M557.85 133.06v4.2M557.95 133.88v4.2M558.04 134.53v4.2M558.14 135.36v4.2M558.23 135.87v4.2M558.33 136.78v4.2M558.42 137.47v4.2M558.52 138.31v4.2M558.61 139.15v4.2M558.71 139.60v4.2M558.80 140.69v4.2M558.89 141.31v4.2M558.99 141.86v4.2M559.08 142.75v4.2M559.18 143.60v4.2M559.27 144.47v4.2M559.37 145.17v4.2M559.46 145.86v4.2M559.56 146.67v4.2M559.65 147.22v4.2M559.75 148.24v4.2M559.84 148.71v4.2M559.94 149.64v4.2M560.03 150.18v4.2M560.13 151.25v4.2M560.22 151.70v4.2M560.32 152.76v4.2M560.41 153.46v4.2M560.51 154.15v4.2M560.60 154.82v4.2M561.90 143.97v4.2M561.99 143.05v4.2M562.09 142.23v4.2M562.18 141.25v4.2M562.28 140.35v4.2M562.37 139.66v4.2M562.47 138.93v4.2M562.56 137.91v4.2M562.66 137.36v4.2M562.75 136.52v4.2M562.85 135.51v4.2M562.94 134.79v4.2M563.04 134.24v4.2M563.13 133.66v4.2M563.23 132.59v4.2M563.32 132.19v4.2M563.42 131.38v4.2M563.51 130.61v4.2M563.60 129.85v4.2M563.70 129.14v4.2M563.79 128.52v4.2M563.89 127.34v4.2M563.98 126.68v4.2M564.08 125.78v4.2M564.17 125.01v4.2M564.27 124.33v4.2M564.36 123.81v4.2M564.46 123.19v4.2M564.55 122.48v4.2M564.65 122.13v4.2M564.74 121.70v4.2M564.84 121.00v4.2M564.93 120.44v4.2M565.02 120.18v4.2M565.12 119.76v4.2M565.21 119.20v4.2M565.31 118.69v4.2M565.40 118.69v4.2M565.50 118.32v4.2M565.59 117.96v4.2M565.69 118.05v4.2M565.78 117.52v4.2M565.88 117.41v4.2M565.97 117.47v4.2M566.07 117.18v4.2M566.16 117.00v4.2M566.26 116.84v4.2M566.35 116.72v4.2M566.45 116.60v4.2M566.54 116.45v4.2M566.63 116.50v4.2M566.73 116.32v4.2M566.82 116.42v4.2M566.92 116.31v4.2M567.01 116.34v4.2M567.11 116.25v4.2M567.20 116.27v4.2M567.30 116.54v4.2M567.39 116.59v4.2M567.49 116.72v4.2M567.58 116.41v4.2M567.68 116.82v4.2M567.77 116.85v4.2M567.87 116.85v4.2M567.96 117.14v4.2M568.05 117.20v4.2M568.15 117.27v4.2M568.24 117.39v4.2M568.34 117.49v4.2M568.43 117.73v4.2M568.53 117.71v4.2M568.62 117.78v4.2M568.72 117.84v4.2M568.81 118.09v4.2M568.91 118.04v4.2M569.00 118.41v4.2M569.10 118.38v4.2M569.19 118.68v4.2M569.29 118.85v4.2M569.38 118.80v4.2M569.48 119.16v4.2M569.57 119.07v4.2M569.66 119.08v4.2M569.76 119.53v4.2M569.85 119.38v4.2M569.95 119.51v4.2M570.04 119.47v4.2M570.14 119.77v4.2M570.23 120.01v4.2M570.33 119.88v4.2M570.42 119.95v4.2M570.52 120.11v4.2M570.61 120.27v4.2M570.71 120.29v4.2M570.80 120.43v4.2M570.90 120.26v4.2M570.99 120.63v4.2M571.08 120.76v4.2M571.18 120.45v4.2M571.27 120.77v4.2M571.37 120.61v4.2M571.46 120.84v4.2M571.56 120.88v4.2M571.65 121.14v4.2M571.75 121.02v4.2M571.84 121.28v4.2M571.94 121.31v4.2M572.03 121.49v4.2M572.13 121.47v4.2M572.22 121.50v4.2M572.32 121.41v4.2M572.41 121.47v4.2M572.51 121.62v4.2M572.60 121.85v4.2M572.69 121.89v4.2M572.79 121.80v4.2M572.88 121.82v4.2M572.98 122.10v4.2M573.07 122.21v4.2M573.17 122.22v4.2M573.26 122.09v4.2M573.36 122.38v4.2M573.45 122.44v4.2M573.55 122.51v4.2M573.64 122.47v4.2M573.74 122.65v4.2M573.83 122.72v4.2M573.93 122.84v4.2M574.02 122.75v4.2M574.11 123.18v4.2M574.21 123.01v4.2M574.30 123.25v4.2M574.40 123.21v4.2M574.49 123.24v4.2M574.59 123.29v4.2M574.68 123.53v4.2M574.78 123.49v4.2M574.87 123.85v4.2M574.97 124.05v4.2M575.06 123.86v4.2M575.16 124.07v4.2M575.25 124.09v4.2M575.35 124.09v4.2M575.44 124.44v4.2M575.54 124.59v4.2M575.63 124.59v4.2M575.72 124.74v4.2M575.82 124.90v4.2M575.91 125.03v4.2M576.01 125.19v4.2M576.10 125.26v4.2M576.20 125.62v4.2M576.29 125.82v4.2M576.39 125.91v4.2M576.48 125.89v4.2M576.58 126.10v4.2M576.67 126.40v4.2M576.77 126.50v4.2M576.86 126.76v4.2M576.96 127.20v4.2M577.05 127.10v4.2M577.14 127.41v4.2M577.24 127.64v4.2M577.33 127.97v4.2M577.43 128.29v4.2M577.52 128.42v4.2M577.62 128.60v4.2M577.71 128.81v4.2M577.81 128.93v4.2M577.90 129.08v4.2M578.00 129.46v4.2M578.09 129.55v4.2M578.19 129.61v4.2M578.28 130.07v4.2M578.38 130.21v4.2M578.47 130.22v4.2M578.57 130.54v4.2M578.66 130.60v4.2M578.75 131.05v4.2M578.85 131.28v4.2M578.94 131.46v4.2M579.04 131.42v4.2M579.13 131.56v4.2M579.23 131.72v4.2M579.32 131.73v4.2M579.42 131.99v4.2M579.51 132.34v4.2M579.61 132.38v4.2M579.70 132.51v4.2M579.80 132.80v4.2M579.89 132.71v4.2M579.99 132.87v4.2M580.08 133.09v4.2M580.17 133.20v4.2M580.27 133.60v4.2M580.36 133.76v4.2M580.46 133.74v4.2M580.55 133.83v4.2M580.65 133.87v4.2M580.74 134.34v4.2M580.84 134.21v4.2M580.93 134.49v4.2M581.03 134.61v4.2M581.12 134.52v4.2M581.22 134.86v4.2M581.31 134.91v4.2M581.41 135.12v4.2M581.50 135.44v4.2M581.60 135.50v4.2M581.69 135.65v4.2M581.78 135.78v4.2M581.88 135.77v4.2M581.97 136.03v4.2M582.07 136.09v4.2M582.16 136.35v4.2M582.26 136.48v4.2M582.35 136.47v4.2M582.45 136.56v4.2M582.54 136.93v4.2M582.64 136.86v4.2M582.73 136.99v4.2M582.83 137.09v4.2M582.92 137.51v4.2M583.02 137.61v4.2M583.11 137.45v4.2M583.20 137.62v4.2M583.30 137.83v4.2M583.39 138.08v4.2M583.49 138.38v4.2M583.58 138.31v4.2M583.68 138.42v4.2M583.77 138.62v4.2M583.87 138.64v4.2M583.96 138.89v4.2M584.06 139.04v4.2M584.15 139.33v4.2M584.25 139.27v4.2M584.34 139.39v4.2M584.44 139.76v4.2M584.53 139.52v4.2M584.63 139.99v4.2M584.72 140.02v4.2M584.81 140.15v4.2M584.91 140.19v4.2M585.00 140.52v4.2M585.10 140.69v4.2M585.19 140.82v4.2M585.29 140.86v4.2M585.38 140.84v4.2M585.48 141.06v4.2M585.57 141.09v4.2M585.67 141.39v4.2M585.76 141.59v4.2M585.86 141.56v4.2M585.95 141.94v4.2M586.05 141.90v4.2M586.14 142.16v4.2M586.23 142.21v4.2M586.33 142.49v4.2M586.42 142.62v4.2M586.52 142.67v4.2M586.61 142.66v4.2M586.71 142.73v4.2M586.80 143.19v4.2M586.90 143.12v4.2M586.99 143.40v4.2M587.09 143.52v4.2M587.18 143.51v4.2M587.28 143.88v4.2M587.37 143.78v4.2M587.47 144.20v4.2M587.56 144.04v4.2M587.66 144.31v4.2M587.75 144.67v4.2M587.84 144.72v4.2M587.94 144.75v4.2M588.03 144.80v4.2M588.13 145.12v4.2M588.22 145.49v4.2M588.32 145.56v4.2M588.41 145.49v4.2M588.51 145.81v4.2M588.60 146.07v4.2M588.70 146.18v4.2M588.79 146.27v4.2M588.89 146.53v4.2M588.98 146.53v4.2M589.08 146.64v4.2M589.17 147.01v4.2M589.26 147.13v4.2M589.36 147.38v4.2M589.45 147.59v4.2M589.55 147.73v4.2M589.64 147.77v4.2M589.74 147.87v4.2M589.83 148.34v4.2M589.93 148.26v4.2M590.02 148.67v4.2M590.12 148.60v4.2M590.21 148.92v4.2M590.31 148.95v4.2M590.40 149.25v4.2M590.50 149.42v4.2M590.59 149.60v4.2M590.69 149.51v4.2M590.78 149.89v4.2M590.87 150.20v4.2M590.97 150.21v4.2M591.06 150.32v4.2M591.16 150.37v4.2M591.25 150.50v4.2M591.35 150.67v4.2M591.44 150.90v4.2M591.54 151.04v4.2M591.63 151.31v4.2M591.73 151.52v4.2M591.82 151.64v4.2M591.92 151.81v4.2M592.01 152.03v4.2M592.11 152.15v4.2M592.20 152.21v4.2M592.29 152.44v4.2M592.39 152.47v4.2M592.48 152.81v4.2M592.58 153.10v4.2M592.67 153.10v4.2M592.77 153.02v4.2M592.86 153.51v4.2M592.96 153.34v4.2M593.05 153.51v4.2M593.15 153.68v4.2M593.24 154.04v4.2M593.34 154.20v4.2M593.43 154.00v4.2M593.53 154.36v4.2M593.62 154.26v4.2M593.72 154.67v4.2M593.81 154.53v4.2M593.90 155.03v4.2M594.00 154.98v4.2M594.09 155.01v4.2M594.19 155.22v4.2M594.28 155.27v4.2M594.38 155.48v4.2M594.47 155.72v4.2M594.57 155.66v4.2M594.66 156.07v4.2M594.76 156.13v4.2M594.85 156.15v4.2M594.95 156.32v4.2M595.04 156.58v4.2M595.14 156.49v4.2M595.23 156.76v4.2M595.32 156.89v4.2M595.42 157.19v4.2M595.51 157.01v4.2M595.61 157.20v4.2M595.70 157.50v4.2M595.80 157.46v4.2M595.89 157.64v4.2M595.99 157.78v4.2M596.08 158.17v4.2M596.18 158.12v4.2M596.27 158.33v4.2M596.37 158.50v4.2M596.46 158.50v4.2M596.56 158.58v4.2M596.65 158.76v4.2M596.75 159.04v4.2M596.84 159.37v4.2M596.93 159.51v4.2M597.03 159.54v4.2M597.12 159.59v4.2M597.22 159.68v4.2M597.31 159.88v4.2M597.41 160.29v4.2M597.50 160.40v4.2M597.60 160.47v4.2M597.69 160.68v4.2M597.79 160.74v4.2M597.88 161.09v4.2M597.98 161.32v4.2M598.07 161.44v4.2M598.17 161.51v4.2M598.26 161.58v4.2M598.35 161.72v4.2M598.45 162.01v4.2M598.54 162.10v4.2M598.64 162.36v4.2M598.73 162.60v4.2M598.83 162.64v4.2M598.92 162.87v4.2M599.02 163.06v4.2M599.11 163.36v4.2M599.21 163.48v4.2M599.30 163.55v4.2M599.40 163.52v4.2M599.49 163.87v4.2M599.59 163.94v4.2M599.68 164.07v4.2M599.78 164.38v4.2M599.87 164.63v4.2M599.96 164.92v4.2M600.06 164.92v4.2M600.15 165.12v4.2M600.25 165.37v4.2M600.34 165.42v4.2M600.44 165.69v4.2M600.53 165.67v4.2M600.63 166.07v4.2M600.72 166.20v4.2M600.82 166.36v4.2M600.91 166.52v4.2M601.01 166.80v4.2M601.10 166.63v4.2M601.20 167.12v4.2M601.29 167.23v4.2M601.38 167.29v4.2M601.48 167.63v4.2M601.57 167.68v4.2M601.67 167.75v4.2M601.76 168.04v4.2M601.86 168.29v4.2M601.95 168.37v4.2M602.05 168.50v4.2M602.14 168.63v4.2M602.24 168.81v4.2M602.33 168.84v4.2M602.43 169.00v4.2M602.52 169.29v4.2M602.62 169.60v4.2M602.71 169.66v4.2M602.81 169.83v4.2M602.90 169.82v4.2M602.99 170.36v4.2M603.09 170.21v4.2M603.18 170.43v4.2M603.28 170.83v4.2M603.37 170.75v4.2M603.47 171.16v4.2M603.56 171.25v4.2M603.66 171.22v4.2M603.75 171.56v4.2M603.85 171.51v4.2M603.94 171.97v4.2M604.04 172.02v4.2M604.13 172.22v4.2M604.23 172.46v4.2M604.32 172.43v4.2M604.41 172.49v4.2M604.51 172.89v4.2M604.60 172.95v4.2M604.70 173.12v4.2M604.79 173.44v4.2M604.89 173.37v4.2M604.98 173.52v4.2M605.08 173.86v4.2M605.17 174.04v4.2M605.27 174.15v4.2M605.36 174.18v4.2M605.46 174.47v4.2M605.55 174.83v4.2M605.65 174.96v4.2M605.74 174.91v4.2M605.84 175.28v4.2M605.93 175.41v4.2M606.02 175.73v4.2M606.12 175.68v4.2M606.21 175.95v4.2M606.31 176.11v4.2M606.40 176.39v4.2M606.50 176.48v4.2M606.59 176.52v4.2M606.69 176.75v4.2M606.78 177.02v4.2M606.88 177.06v4.2M606.97 177.19v4.2M607.07 177.69v4.2M607.16 177.80v4.2M607.26 177.75v4.2M607.35 177.98v4.2M607.44 178.09v4.2M607.54 178.60v4.2M607.63 178.50v4.2M607.73 178.61v4.2M607.82 179.08v4.2M607.92 179.18v4.2M608.01 179.11v4.2M608.11 179.41v4.2M608.20 179.53v4.2M608.30 179.89v4.2M608.39 180.09v4.2M608.49 180.26v4.2M608.58 180.28v4.2M608.68 180.69v4.2M608.77 180.70v4.2M608.87 181.06v4.2M608.96 181.33v4.2M609.05 181.49v4.2M609.15 181.65v4.2M609.24 181.68v4.2M609.34 182.08v4.2M609.43 182.10v4.2M609.53 182.61v4.2M609.62 182.79v4.2M609.72 182.70v4.2M609.81 183.10v4.2M609.91 183.45v4.2M610.00 183.41v4.2M610.10 183.53v4.2M610.19 184.01v4.2M610.29 184.28v4.2M610.38 184.58v4.2M610.47 184.60v4.2M610.57 184.94v4.2M610.66 185.14v4.2M610.76 185.36v4.2M610.85 185.55v4.2M610.95 186.11v4.2M611.04 186.27v4.2M611.14 186.36v4.2M611.23 186.75v4.2M611.33 186.99v4.2M611.42 187.14v4.2M611.52 187.56v4.2M611.61 187.70v4.2M611.71 188.00v4.2M611.80 188.58v4.2M611.90 188.82v4.2M611.99 189.07v4.2M612.08 189.32v4.2M612.18 189.41v4.2M612.27 189.70v4.2M612.37 190.10v4.2M612.46 190.36v4.2M612.56 190.69v4.2M612.65 190.91v4.2M612.75 191.08v4.2M612.84 191.37v4.2M612.94 191.69v4.2M613.03 191.77v4.2M613.13 191.95v4.2M613.22 192.30v4.2M613.32 192.69v4.2M613.41 192.81v4.2M613.50 192.89v4.2M613.60 193.30v4.2M613.69 193.58v4.2M613.79 193.76v4.2M613.88 194.05v4.2M613.98 193.99v4.2M614.07 194.51v4.2M614.17 194.82v4.2M614.26 195.02v4.2M614.36 195.20v4.2M614.45 195.18v4.2M614.55 195.66v4.2M614.64 195.67v4.2M614.74 196.29v4.2M614.83 196.16v4.2M614.93 196.54v4.2M615.02 197.00v4.2M615.11 196.98v4.2M615.21 197.24v4.2M615.30 197.50v4.2M615.40 198.01v4.2M615.49 198.20v4.2M615.59 198.23v4.2M615.68 198.72v4.2M615.78 198.98v4.2M615.87 199.26v4.2M615.97 199.63v4.2M616.06 199.83v4.2M616.16 200.04v4.2M616.25 200.38v4.2M616.35 200.64v4.2M616.44 200.83v4.2M616.53 201.43v4.2M616.63 201.45v4.2M616.72 201.73v4.2M616.82 202.15v4.2M616.91 202.44v4.2"/>
<path class="mh" d="M54.54 199.08h4.3M54.64 198.07h4.3M54.73 196.70h4.3M54.83 195.10h4.3M54.92 193.88h4.3M55.02 192.73h4.3M55.11 191.43h4.3M55.21 190.28h4.3M55.30 188.87h4.3M55.40 187.86h4.3M55.49 186.66h4.3M55.59 185.38h4.3M55.68 184.38h4.3M55.78 183.39h4.3M55.87 182.25h4.3M55.97 180.98h4.3M56.06 179.86h4.3M56.15 178.45h4.3M56.25 177.31h4.3M56.34 176.27h4.3M56.44 174.79h4.3M56.53 173.31h4.3M56.63 172.00h4.3M56.72 170.53h4.3M56.82 168.84h4.3M56.91 166.79h4.3M57.01 164.72h4.3M57.10 162.61h4.3M57.20 160.62h4.3M57.29 158.56h4.3M57.39 156.56h4.3M57.48 154.65h4.3M57.58 152.51h4.3M57.67 150.56h4.3M57.77 148.90h4.3M57.86 147.12h4.3M57.95 145.11h4.3M58.05 143.22h4.3M58.14 141.39h4.3M58.24 139.85h4.3M58.33 138.45h4.3M58.43 136.87h4.3M58.52 135.36h4.3M58.62 134.15h4.3M58.71 132.63h4.3M58.81 131.52h4.3M58.90 130.53h4.3M59.00 129.24h4.3M59.09 128.08h4.3M59.19 126.90h4.3M59.28 125.92h4.3M59.38 124.99h4.3M59.47 123.50h4.3M59.57 122.67h4.3M59.66 121.52h4.3M59.75 120.33h4.3M59.85 119.00h4.3M59.94 117.70h4.3M60.04 116.18h4.3M60.13 114.59h4.3M60.23 112.74h4.3M60.32 110.96h4.3M60.42 110.02h4.3M60.51 108.75h4.3M60.61 107.55h4.3M60.70 106.71h4.3M60.80 105.81h4.3M60.89 104.93h4.3M60.99 104.15h4.3M61.08 103.49h4.3M61.18 102.83h4.3M61.27 102.17h4.3M61.37 101.48h4.3M61.46 100.71h4.3M61.55 100.21h4.3M61.65 99.63h4.3M61.74 99.24h4.3M61.84 98.80h4.3M61.93 98.23h4.3M62.03 97.69h4.3M62.12 97.15h4.3M62.22 96.39h4.3M62.31 96.11h4.3M62.41 95.55h4.3M62.50 94.86h4.3M62.60 94.42h4.3M62.69 94.05h4.3M62.79 94.02h4.3M62.88 93.51h4.3M62.98 93.16h4.3M63.07 93.10h4.3M63.16 92.73h4.3M63.26 92.36h4.3M63.35 92.13h4.3M63.45 92.01h4.3M63.54 91.59h4.3M63.64 91.36h4.3M63.73 91.26h4.3M63.83 90.88h4.3M63.92 90.55h4.3M64.02 90.35h4.3M64.11 89.91h4.3M64.21 89.81h4.3M64.30 89.58h4.3M64.40 89.27h4.3M64.49 89.02h4.3M64.59 89.13h4.3M64.68 88.77h4.3M64.78 88.45h4.3M64.87 88.41h4.3M64.96 88.31h4.3M65.06 87.81h4.3M65.15 87.63h4.3M65.25 87.51h4.3M65.34 87.57h4.3M65.44 87.18h4.3M65.53 87.24h4.3M65.63 87.07h4.3M65.72 86.87h4.3M65.82 86.58h4.3M65.91 86.73h4.3M66.01 86.51h4.3M66.10 86.26h4.3M66.20 86.00h4.3M66.29 86.04h4.3M66.39 85.80h4.3M66.48 85.75h4.3M66.58 85.53h4.3M66.67 85.54h4.3M66.76 85.21h4.3M66.86 85.21h4.3M66.95 85.38h4.3M67.05 85.26h4.3M67.14 84.94h4.3M67.24 85.07h4.3M67.33 84.77h4.3M67.43 84.94h4.3M67.52 84.78h4.3M67.62 84.57h4.3M67.71 84.43h4.3M67.81 84.27h4.3M67.90 84.55h4.3M68.00 84.15h4.3M68.09 84.40h4.3M68.19 84.41h4.3M68.28 84.20h4.3M68.38 84.00h4.3M68.47 84.24h4.3M68.56 84.25h4.3M68.66 84.10h4.3M68.75 83.99h4.3M68.85 83.91h4.3M68.94 83.86h4.3M69.04 83.78h4.3M69.13 83.94h4.3M69.23 83.81h4.3M69.32 83.69h4.3M69.42 83.63h4.3M69.51 83.83h4.3M69.61 83.66h4.3M69.70 83.72h4.3M69.80 83.62h4.3M69.89 83.82h4.3M69.99 83.81h4.3M70.08 83.44h4.3M70.17 83.50h4.3M70.27 83.53h4.3M70.36 83.77h4.3M70.46 83.68h4.3M70.55 83.48h4.3M70.65 83.42h4.3M70.74 83.59h4.3M70.84 83.64h4.3M70.93 83.66h4.3M71.03 83.41h4.3M71.12 83.61h4.3M71.22 83.52h4.3M71.31 83.42h4.3M71.41 83.61h4.3M71.50 83.30h4.3M71.60 83.48h4.3M71.69 83.21h4.3M71.79 83.23h4.3M71.88 83.51h4.3M71.97 83.22h4.3M72.07 83.42h4.3M72.16 83.35h4.3M72.26 83.43h4.3M72.35 83.23h4.3M72.45 83.21h4.3M72.54 83.17h4.3M72.64 83.39h4.3M72.73 83.28h4.3M72.83 83.41h4.3M72.92 83.37h4.3M73.02 83.06h4.3M73.11 83.21h4.3M73.21 83.02h4.3M73.30 82.99h4.3M73.40 82.99h4.3M73.49 83.30h4.3M73.59 83.26h4.3M73.68 83.27h4.3M73.77 83.07h4.3M73.87 83.17h4.3M73.96 83.24h4.3M74.06 83.07h4.3M74.15 83.14h4.3M74.25 83.00h4.3M74.34 82.94h4.3M74.44 83.01h4.3M74.53 83.26h4.3M74.63 83.13h4.3M74.72 83.27h4.3M74.82 83.08h4.3M74.91 83.01h4.3M75.01 83.22h4.3M75.10 83.24h4.3M75.20 82.92h4.3M75.29 83.19h4.3M75.39 82.96h4.3M75.48 82.98h4.3M75.57 83.29h4.3M75.67 82.97h4.3M75.76 83.06h4.3M75.86 83.37h4.3M75.95 83.15h4.3M76.05 83.04h4.3M76.14 83.08h4.3M76.24 83.12h4.3M76.33 83.34h4.3M76.43 83.09h4.3M76.52 83.43h4.3M76.62 83.24h4.3M76.71 83.49h4.3M76.81 83.48h4.3M76.90 83.25h4.3M77.00 83.26h4.3M77.09 83.36h4.3M77.18 83.23h4.3M77.28 83.47h4.3M77.37 83.25h4.3M77.47 83.25h4.3M77.56 83.66h4.3M77.66 83.41h4.3M77.75 83.55h4.3M77.85 83.51h4.3M77.94 83.48h4.3M78.04 83.40h4.3M78.13 83.76h4.3M78.23 83.80h4.3M78.32 83.82h4.3M78.42 83.50h4.3M78.51 83.56h4.3M78.61 83.74h4.3M78.70 83.90h4.3M78.80 83.75h4.3M78.89 83.82h4.3M78.98 83.83h4.3M79.08 83.69h4.3M79.17 83.82h4.3M79.27 83.74h4.3M79.36 83.74h4.3M79.46 83.69h4.3M79.55 83.78h4.3M79.65 84.08h4.3M79.74 83.88h4.3M79.84 83.97h4.3M79.93 83.99h4.3M80.03 84.12h4.3M80.12 83.92h4.3M80.22 83.90h4.3M80.31 83.92h4.3M80.41 83.93h4.3M80.50 84.16h4.3M80.60 84.20h4.3M80.69 83.98h4.3M80.78 84.01h4.3M80.88 84.11h4.3M80.97 84.14h4.3M81.07 84.17h4.3M81.16 84.04h4.3M81.26 83.97h4.3M81.35 84.08h4.3M81.45 84.03h4.3M81.54 84.24h4.3M81.64 84.07h4.3M81.73 84.08h4.3M81.83 84.33h4.3M81.92 84.21h4.3M82.02 84.43h4.3M82.11 84.32h4.3M82.21 84.49h4.3M82.30 84.22h4.3M82.40 84.38h4.3M82.49 84.51h4.3M82.58 84.24h4.3M82.68 84.61h4.3M82.77 84.31h4.3M82.87 84.57h4.3M82.96 84.67h4.3M83.06 84.62h4.3M83.15 84.43h4.3M83.25 84.36h4.3M83.34 84.54h4.3M83.44 84.72h4.3M83.53 84.48h4.3M83.63 84.73h4.3M83.72 84.44h4.3M83.82 84.76h4.3M83.91 84.42h4.3M84.01 84.55h4.3M84.10 84.79h4.3M84.19 84.76h4.3M84.29 84.81h4.3M84.38 84.79h4.3M84.48 84.76h4.3M84.57 84.75h4.3M84.67 84.55h4.3M84.76 84.66h4.3M84.86 84.55h4.3M84.95 84.78h4.3M85.05 84.76h4.3M85.14 84.60h4.3M85.24 84.53h4.3M85.33 84.89h4.3M85.43 84.82h4.3M85.52 84.72h4.3M85.62 84.71h4.3M85.71 84.82h4.3M85.81 84.65h4.3M85.90 84.62h4.3M85.99 84.58h4.3M86.09 84.53h4.3M86.18 84.42h4.3M86.28 84.65h4.3M86.37 84.53h4.3M86.47 84.57h4.3M86.56 84.34h4.3M86.66 84.43h4.3M86.75 84.31h4.3M86.85 84.28h4.3M86.94 84.30h4.3M87.04 84.49h4.3M87.13 84.28h4.3M87.23 84.25h4.3M87.32 84.30h4.3M87.42 84.11h4.3M87.51 83.98h4.3M87.61 84.15h4.3M87.70 84.10h4.3M87.79 84.11h4.3M87.89 83.99h4.3M87.98 84.05h4.3M88.08 84.02h4.3M88.17 83.78h4.3M88.27 83.84h4.3M88.36 83.79h4.3M88.46 83.65h4.3M88.55 83.68h4.3M88.65 83.70h4.3M88.74 83.79h4.3M88.84 83.75h4.3M88.93 83.45h4.3M89.03 83.56h4.3M89.12 83.28h4.3M89.22 83.25h4.3M89.31 83.38h4.3M89.41 83.49h4.3M89.50 83.16h4.3M89.59 83.37h4.3M89.69 83.38h4.3M89.78 83.11h4.3M89.88 83.23h4.3M89.97 83.26h4.3M90.07 83.04h4.3M90.16 83.14h4.3M90.26 83.12h4.3M90.35 83.03h4.3M90.45 83.11h4.3M90.54 83.10h4.3M90.64 83.11h4.3M90.73 82.93h4.3M90.83 82.75h4.3M90.92 82.76h4.3M91.02 82.73h4.3M91.11 82.86h4.3M91.20 82.92h4.3M91.30 82.63h4.3M91.39 82.88h4.3M91.49 82.89h4.3M91.58 82.74h4.3M91.68 82.81h4.3M91.77 82.67h4.3M91.87 82.90h4.3M91.96 82.63h4.3M92.06 83.01h4.3M92.15 82.96h4.3M92.25 82.89h4.3M92.34 82.76h4.3M92.44 83.04h4.3M92.53 83.07h4.3M92.63 82.76h4.3M92.72 83.03h4.3M92.82 83.08h4.3M92.91 83.02h4.3M93.00 83.06h4.3M93.10 82.98h4.3M93.19 83.19h4.3M93.29 83.23h4.3M93.38 83.02h4.3M93.48 83.21h4.3M93.57 83.09h4.3M93.67 83.01h4.3M93.76 83.10h4.3M93.86 83.04h4.3M93.95 83.38h4.3M94.05 83.43h4.3M94.14 83.12h4.3M94.24 83.33h4.3M94.33 83.28h4.3M94.43 83.19h4.3M94.52 83.28h4.3M94.62 83.29h4.3M94.71 83.51h4.3M94.80 83.23h4.3M94.90 83.33h4.3M94.99 83.45h4.3M95.09 83.30h4.3M95.18 83.56h4.3M95.28 83.57h4.3M95.37 83.68h4.3M95.47 83.44h4.3M95.56 83.48h4.3M95.66 83.60h4.3M95.75 83.50h4.3M95.85 83.63h4.3M95.94 83.51h4.3M96.04 83.69h4.3M96.13 83.74h4.3M96.23 83.75h4.3M96.32 83.82h4.3M96.42 83.66h4.3M96.51 83.64h4.3M96.60 83.79h4.3M96.70 83.76h4.3M96.79 83.69h4.3M96.89 83.62h4.3M96.98 83.59h4.3M97.08 83.52h4.3M97.17 83.80h4.3M97.27 83.53h4.3M97.36 83.79h4.3M97.46 83.71h4.3M97.55 83.88h4.3M97.65 83.81h4.3M97.74 83.89h4.3M97.84 83.56h4.3M97.93 83.71h4.3M98.03 83.74h4.3M98.12 83.64h4.3M98.21 83.72h4.3M98.31 83.67h4.3M98.40 83.74h4.3M98.50 83.53h4.3M98.59 83.71h4.3M98.69 83.72h4.3M98.78 83.66h4.3M98.88 83.70h4.3M98.97 83.86h4.3M99.07 83.82h4.3M99.16 83.75h4.3M99.26 83.81h4.3M99.35 83.71h4.3M99.45 83.64h4.3M99.54 83.56h4.3M99.64 83.68h4.3M99.73 83.81h4.3M99.83 83.93h4.3M99.92 83.91h4.3M100.01 83.78h4.3M100.11 83.98h4.3M100.20 83.77h4.3M100.30 83.92h4.3M100.39 83.76h4.3M100.49 83.90h4.3M100.58 84.00h4.3M100.68 83.73h4.3M100.77 83.68h4.3M100.87 83.87h4.3M100.96 83.83h4.3M101.06 83.77h4.3M101.15 83.63h4.3M101.25 83.79h4.3M101.34 83.81h4.3M101.44 83.81h4.3M101.53 84.00h4.3M101.63 83.90h4.3M101.72 83.96h4.3M101.81 84.04h4.3M101.91 83.98h4.3M102.00 83.89h4.3M102.10 84.00h4.3M102.19 83.96h4.3M102.29 83.98h4.3M102.38 83.98h4.3M102.48 83.90h4.3M102.57 84.01h4.3M102.67 84.02h4.3M102.76 84.16h4.3M102.86 84.11h4.3M102.95 84.16h4.3M103.05 84.14h4.3M103.14 84.18h4.3M103.24 84.12h4.3M103.33 84.04h4.3M103.43 84.03h4.3M103.52 84.23h4.3M103.61 84.32h4.3M103.71 84.21h4.3M103.80 84.08h4.3M103.90 84.38h4.3M103.99 84.26h4.3M104.09 84.28h4.3M104.18 84.14h4.3M104.28 84.36h4.3M104.37 84.48h4.3M104.47 84.38h4.3M104.56 84.38h4.3M104.66 84.54h4.3M104.75 84.31h4.3M104.85 84.54h4.3M104.94 84.75h4.3M105.04 84.68h4.3M105.13 84.59h4.3M105.22 84.74h4.3M105.32 84.74h4.3M105.41 84.61h4.3M105.51 84.65h4.3M105.60 84.95h4.3M105.70 84.74h4.3M105.79 84.70h4.3M105.89 85.03h4.3M105.98 84.94h4.3M106.08 84.91h4.3M106.17 85.01h4.3M106.27 85.13h4.3M106.36 84.94h4.3M106.46 85.16h4.3M106.55 85.22h4.3M106.65 85.30h4.3M106.74 85.13h4.3M106.84 85.31h4.3M106.93 85.20h4.3M107.02 85.38h4.3M107.12 85.28h4.3M107.21 85.58h4.3M107.31 85.66h4.3M107.40 85.51h4.3M107.50 85.52h4.3M107.59 85.88h4.3M107.69 85.83h4.3M107.78 85.95h4.3M107.88 85.69h4.3M107.97 86.10h4.3M108.07 86.05h4.3M108.16 85.99h4.3M108.26 86.10h4.3M108.35 86.30h4.3M108.45 86.37h4.3M108.54 86.20h4.3M108.64 86.44h4.3M108.73 86.31h4.3M108.82 86.70h4.3M108.92 86.55h4.3M109.01 86.79h4.3M109.11 86.78h4.3M109.20 86.79h4.3M109.30 86.70h4.3M109.39 86.86h4.3M109.49 86.76h4.3M109.58 86.81h4.3M109.68 87.08h4.3M109.77 86.98h4.3M109.87 87.18h4.3M109.96 87.01h4.3M110.06 87.24h4.3M110.15 87.27h4.3M110.25 87.13h4.3M110.34 87.08h4.3M110.44 87.22h4.3M110.53 87.27h4.3M110.62 87.13h4.3M110.72 87.17h4.3M110.81 87.12h4.3M110.91 87.34h4.3M111.00 87.45h4.3M111.10 87.17h4.3M111.19 87.08h4.3M111.29 87.32h4.3M111.38 87.34h4.3M111.48 87.37h4.3M111.57 87.19h4.3M111.67 87.05h4.3M111.76 87.20h4.3M111.86 86.87h4.3M111.95 87.05h4.3M112.05 86.76h4.3M112.14 86.83h4.3M112.23 86.81h4.3M112.33 86.71h4.3M112.42 86.57h4.3M112.52 86.53h4.3M112.61 86.71h4.3M112.71 86.50h4.3M112.80 86.49h4.3M112.90 86.28h4.3M112.99 86.42h4.3M113.09 86.20h4.3M113.18 86.24h4.3M113.28 86.31h4.3M113.37 86.28h4.3M113.47 85.84h4.3M113.56 86.06h4.3M113.66 86.00h4.3M113.75 85.70h4.3M113.85 85.62h4.3M113.94 85.60h4.3M114.03 85.63h4.3M114.13 85.31h4.3M114.22 85.39h4.3M114.32 85.23h4.3M114.41 84.88h4.3M114.51 85.08h4.3M114.60 84.61h4.3M114.70 84.57h4.3M114.79 84.68h4.3M114.89 84.35h4.3M114.98 84.40h4.3M115.08 84.23h4.3M115.17 84.30h4.3M115.27 84.40h4.3M115.36 84.39h4.3M115.46 84.02h4.3M115.55 84.02h4.3M115.65 84.35h4.3M115.74 84.05h4.3M115.83 84.19h4.3M115.93 84.19h4.3M116.02 84.25h4.3M116.12 84.32h4.3M116.21 84.66h4.3M116.31 84.82h4.3M116.40 84.93h4.3M116.50 85.14h4.3M116.59 85.22h4.3M116.69 85.28h4.3M116.78 85.55h4.3M116.88 85.88h4.3M116.97 85.94h4.3M117.07 85.99h4.3M117.16 86.13h4.3M117.26 86.70h4.3M117.35 86.79h4.3M117.45 86.93h4.3M117.54 87.32h4.3M117.63 87.69h4.3M117.73 88.16h4.3M117.82 88.51h4.3M117.92 89.22h4.3M118.01 89.86h4.3M118.11 90.40h4.3M118.20 91.28h4.3M118.30 91.67h4.3M118.39 92.30h4.3M118.49 92.83h4.3M118.58 93.35h4.3M118.68 93.84h4.3M118.77 94.36h4.3M118.87 94.67h4.3M118.96 95.48h4.3M119.06 95.70h4.3M119.15 96.57h4.3M119.24 97.13h4.3M119.34 97.74h4.3M119.43 98.04h4.3M119.53 98.70h4.3M119.62 99.64h4.3M119.72 100.17h4.3M119.81 100.81h4.3M119.91 101.74h4.3M120.00 102.06h4.3M120.10 102.95h4.3M120.19 103.61h4.3M120.29 104.19h4.3M120.38 104.99h4.3M120.48 105.82h4.3M120.57 106.58h4.3M120.67 106.93h4.3M120.76 107.81h4.3M120.86 108.33h4.3M120.95 109.30h4.3M121.04 109.70h4.3M121.14 110.38h4.3M121.23 111.21h4.3M121.33 112.05h4.3M121.42 112.58h4.3M121.52 113.20h4.3M121.61 114.17h4.3M121.71 114.88h4.3M121.80 115.60h4.3M121.90 116.08h4.3M121.99 116.84h4.3M122.09 117.48h4.3M122.18 118.31h4.3M122.39 118.94h4.1M122.60 119.66h3.8M122.80 120.55h3.6M123.01 121.34h3.4M123.22 121.91h3.2M123.43 122.44h2.9M123.83 122.66h3.5M123.81 121.96h3.8M123.79 121.54h4.0M123.77 120.79h4.2M123.83 120.19h4.3M123.92 119.47h4.3M124.02 118.74h4.3M124.11 118.21h4.3M124.21 117.50h4.3M124.30 116.60h4.3M124.40 115.85h4.3M124.49 115.23h4.3M124.59 114.58h4.3M124.68 113.69h4.3M124.78 113.06h4.3M124.87 112.43h4.3M124.97 111.48h4.3M125.06 111.04h4.3M125.16 110.23h4.3M125.25 109.34h4.3M125.34 108.58h4.3M125.44 107.84h4.3M125.53 107.06h4.3M125.63 106.46h4.3M125.72 105.58h4.3M125.82 104.81h4.3M125.91 103.87h4.3M126.01 103.38h4.3M126.10 102.33h4.3M126.20 101.51h4.3M126.29 100.57h4.3M126.39 100.08h4.3M126.48 99.00h4.3M126.58 98.28h4.3M126.67 97.36h4.3M126.77 96.43h4.3M126.86 95.30h4.3M126.96 94.19h4.3M127.05 93.02h4.3M127.14 91.88h4.3M127.24 90.69h4.3M127.33 90.07h4.3M127.43 89.31h4.3M127.52 88.73h4.3M127.62 87.94h4.3M127.71 87.27h4.3M127.81 86.73h4.3M127.90 86.13h4.3M128.00 86.04h4.3M128.09 85.74h4.3M128.19 85.48h4.3M128.28 85.35h4.3M128.38 85.41h4.3M128.47 85.09h4.3M128.57 84.82h4.3M128.66 84.68h4.3M128.75 84.78h4.3M128.85 84.61h4.3M128.94 84.64h4.3M129.04 84.25h4.3M129.13 84.25h4.3M129.23 84.29h4.3M129.32 83.93h4.3M129.42 83.88h4.3M129.51 83.98h4.3M129.61 83.81h4.3M129.70 83.69h4.3M129.80 83.70h4.3M129.89 83.80h4.3M129.99 83.72h4.3M130.08 83.51h4.3M130.18 83.48h4.3M130.27 83.77h4.3M130.37 83.67h4.3M130.46 83.47h4.3M130.55 83.74h4.3M130.65 83.41h4.3M130.74 83.56h4.3M130.84 83.76h4.3M130.93 83.72h4.3M131.03 83.57h4.3M131.12 83.84h4.3M131.22 83.74h4.3M131.31 83.88h4.3M131.41 83.93h4.3M131.50 83.77h4.3M131.60 83.91h4.3M131.69 83.90h4.3M131.79 84.11h4.3M131.88 84.09h4.3M131.98 84.11h4.3M132.07 84.19h4.3M132.17 84.32h4.3M132.26 84.07h4.3M132.35 84.11h4.3M132.45 84.38h4.3M132.54 84.44h4.3M132.64 84.39h4.3M132.73 84.44h4.3M132.83 84.46h4.3M132.92 84.71h4.3M133.02 84.73h4.3M133.11 84.70h4.3M133.21 84.54h4.3M133.30 84.91h4.3M133.40 84.81h4.3M133.49 84.77h4.3M133.59 84.89h4.3M133.68 85.12h4.3M133.78 84.94h4.3M133.87 85.07h4.3M133.97 85.24h4.3M134.06 85.56h4.3M134.15 85.59h4.3M134.25 85.76h4.3M134.34 85.66h4.3M134.44 85.73h4.3M134.53 85.77h4.3M134.63 85.79h4.3M134.72 85.82h4.3M134.82 85.92h4.3M134.91 85.96h4.3M135.01 85.71h4.3M135.10 85.76h4.3M135.20 85.57h4.3M135.29 85.51h4.3M135.39 85.51h4.3M135.48 85.46h4.3M135.58 85.36h4.3M135.67 85.43h4.3M135.76 85.01h4.3M135.86 85.09h4.3M135.95 85.12h4.3M136.05 84.91h4.3M136.14 84.72h4.3M136.24 84.53h4.3M136.33 84.43h4.3M136.43 84.53h4.3M136.52 84.41h4.3M136.62 84.21h4.3M136.71 84.20h4.3M136.81 84.12h4.3M136.90 84.00h4.3M137.00 83.73h4.3M137.09 83.69h4.3M137.19 83.76h4.3M137.28 83.53h4.3M137.38 83.63h4.3M137.47 83.47h4.3M137.56 83.36h4.3M137.66 83.36h4.3M137.75 83.17h4.3M137.85 83.21h4.3M137.94 83.18h4.3M138.04 82.97h4.3M138.13 82.99h4.3M138.23 82.97h4.3M138.32 83.16h4.3M138.42 83.01h4.3M138.51 82.84h4.3M138.61 83.08h4.3M138.70 82.74h4.3M138.80 82.80h4.3M138.89 82.84h4.3M138.99 82.79h4.3M139.08 82.64h4.3M139.18 82.75h4.3M139.27 82.60h4.3M139.36 82.66h4.3M139.46 82.54h4.3M139.55 82.70h4.3M139.65 82.58h4.3M139.74 82.30h4.3M139.84 82.30h4.3M139.93 82.62h4.3M140.03 82.31h4.3M140.12 82.22h4.3M140.22 82.30h4.3M140.31 82.39h4.3M140.41 82.58h4.3M140.50 82.37h4.3M140.60 82.51h4.3M140.69 82.57h4.3M140.79 82.29h4.3M140.88 82.52h4.3M140.98 82.70h4.3M141.07 82.55h4.3M141.16 82.58h4.3M141.26 82.54h4.3M141.35 82.82h4.3M141.45 82.88h4.3M141.54 82.58h4.3M141.64 82.80h4.3M141.73 82.80h4.3M141.83 82.95h4.3M141.92 82.79h4.3M142.02 82.90h4.3M142.11 82.96h4.3M142.21 83.10h4.3M142.30 83.29h4.3M142.40 83.37h4.3M142.49 83.40h4.3M142.59 83.42h4.3M142.68 83.24h4.3M142.77 83.42h4.3M142.87 83.59h4.3M142.96 83.50h4.3M143.06 83.64h4.3M143.15 83.86h4.3M143.25 83.60h4.3M143.34 83.95h4.3M143.44 83.70h4.3M143.53 83.86h4.3M143.63 84.11h4.3M143.72 83.87h4.3M143.82 84.04h4.3M143.91 84.04h4.3M144.01 84.26h4.3M144.10 84.34h4.3M144.20 84.08h4.3M144.29 84.19h4.3M144.39 84.37h4.3M144.48 84.25h4.3M144.57 84.13h4.3M144.67 84.35h4.3M144.76 84.18h4.3M144.86 84.24h4.3M144.95 84.04h4.3M145.05 84.41h4.3M145.14 84.25h4.3M145.24 84.32h4.3M145.33 84.30h4.3M145.43 83.97h4.3M145.52 84.03h4.3M145.62 83.93h4.3M145.71 84.00h4.3M145.81 83.97h4.3M145.90 83.66h4.3M146.00 83.60h4.3M146.09 83.70h4.3M146.19 83.50h4.3M146.28 83.31h4.3M146.37 83.25h4.3M146.47 83.31h4.3M146.56 83.24h4.3M146.66 83.30h4.3M146.75 83.04h4.3M146.85 82.98h4.3M146.94 82.71h4.3M147.04 82.73h4.3M147.13 82.59h4.3M147.23 82.67h4.3M147.32 82.42h4.3M147.42 82.32h4.3M147.51 82.30h4.3M147.61 82.27h4.3M147.70 82.14h4.3M147.80 82.18h4.3M147.89 81.94h4.3M147.99 82.16h4.3M148.08 82.01h4.3M148.17 81.88h4.3M148.27 81.61h4.3M148.36 81.64h4.3M148.46 81.71h4.3M148.55 81.61h4.3M148.65 81.60h4.3M148.74 81.55h4.3M148.84 81.23h4.3M148.93 81.22h4.3M149.03 81.07h4.3M149.12 80.91h4.3M149.22 80.83h4.3M149.31 80.79h4.3M149.41 80.64h4.3M149.50 80.74h4.3M149.60 80.72h4.3M149.69 80.59h4.3M149.78 80.56h4.3M149.88 80.30h4.3M149.97 80.21h4.3M150.07 80.29h4.3M150.16 80.34h4.3M150.26 80.09h4.3M150.35 79.86h4.3M150.45 79.80h4.3M150.54 79.86h4.3M150.64 79.93h4.3M150.73 79.67h4.3M150.83 79.68h4.3M150.92 79.82h4.3M151.02 79.90h4.3M151.11 79.62h4.3M151.21 79.69h4.3M151.30 79.64h4.3M151.40 79.42h4.3M151.49 79.54h4.3M151.58 79.46h4.3M151.68 79.50h4.3M151.77 79.72h4.3M151.87 79.69h4.3M151.96 79.45h4.3M152.06 79.48h4.3M152.15 79.77h4.3M152.25 79.54h4.3M152.34 79.66h4.3M152.44 79.67h4.3M152.53 79.62h4.3M152.63 79.65h4.3M152.72 79.73h4.3M152.82 79.87h4.3M152.91 80.13h4.3M153.01 80.05h4.3M153.10 79.94h4.3M153.20 80.16h4.3M153.29 80.04h4.3M153.38 80.19h4.3M153.48 80.15h4.3M153.57 80.45h4.3M153.67 80.26h4.3M153.76 80.48h4.3M153.86 80.46h4.3M153.95 80.58h4.3M154.05 80.52h4.3M154.14 80.66h4.3M154.24 80.52h4.3M154.33 80.67h4.3M154.43 80.69h4.3M154.52 80.70h4.3M154.62 80.76h4.3M154.71 80.79h4.3M154.81 80.79h4.3M154.90 81.04h4.3M155.00 80.98h4.3M155.09 81.00h4.3M155.18 80.86h4.3M155.28 81.09h4.3M155.37 81.01h4.3M155.47 81.08h4.3M155.56 81.23h4.3M155.66 81.32h4.3M155.75 81.26h4.3M155.85 81.32h4.3M155.94 81.48h4.3M156.04 81.50h4.3M156.13 81.53h4.3M156.23 81.46h4.3M156.32 81.61h4.3M156.42 81.77h4.3M156.51 81.77h4.3M156.61 81.81h4.3M156.70 81.97h4.3M156.79 81.96h4.3M156.89 81.98h4.3M156.98 81.76h4.3M157.08 81.90h4.3M157.17 82.07h4.3M157.27 81.89h4.3M157.36 82.21h4.3M157.46 81.92h4.3M157.55 82.23h4.3M157.65 81.98h4.3M157.74 82.23h4.3M157.84 82.24h4.3M157.93 82.03h4.3M158.03 82.24h4.3M158.12 81.93h4.3M158.22 82.18h4.3M158.31 81.96h4.3M158.41 81.94h4.3M158.50 81.77h4.3M158.59 81.91h4.3M158.69 81.72h4.3M158.78 81.82h4.3M158.88 81.81h4.3M158.97 81.67h4.3M159.07 81.37h4.3M159.16 81.68h4.3M159.26 81.59h4.3M159.35 81.42h4.3M159.45 81.24h4.3M159.54 81.25h4.3M159.64 81.31h4.3M159.73 81.08h4.3M159.83 81.15h4.3M159.92 81.03h4.3M160.02 80.90h4.3M160.11 81.06h4.3M160.21 80.81h4.3M160.30 80.86h4.3M160.39 80.61h4.3M160.49 80.75h4.3M160.58 80.55h4.3M160.68 80.79h4.3M160.77 80.48h4.3M160.87 80.47h4.3M160.96 80.47h4.3M161.06 80.46h4.3M161.15 80.58h4.3M161.25 80.49h4.3M161.34 80.43h4.3M161.44 80.69h4.3M161.53 80.64h4.3M161.63 80.51h4.3M161.72 80.55h4.3M161.82 80.54h4.3M161.91 80.28h4.3M162.01 80.49h4.3M162.10 80.24h4.3M162.19 80.35h4.3M162.29 80.25h4.3M162.38 80.16h4.3M162.48 80.39h4.3M162.57 80.43h4.3M162.67 80.18h4.3M162.76 80.39h4.3M162.86 80.17h4.3M162.95 80.29h4.3M163.05 80.41h4.3M163.14 80.32h4.3M163.24 80.03h4.3M163.33 80.18h4.3M163.43 80.15h4.3M163.52 80.12h4.3M163.62 80.33h4.3M163.71 80.18h4.3M163.80 80.29h4.3M163.90 80.27h4.3M163.99 80.24h4.3M164.09 80.06h4.3M164.18 80.32h4.3M164.28 80.42h4.3M164.37 80.15h4.3M164.47 80.35h4.3M164.56 80.31h4.3M164.66 80.27h4.3M164.75 80.43h4.3M164.85 80.56h4.3M164.94 80.20h4.3M165.04 80.57h4.3M165.13 80.39h4.3M165.23 80.59h4.3M165.32 80.35h4.3M165.42 80.59h4.3M165.51 80.37h4.3M165.60 80.48h4.3M165.70 80.76h4.3M165.79 80.66h4.3M165.89 80.74h4.3M165.98 80.63h4.3M166.08 80.66h4.3M166.17 80.69h4.3M166.27 80.83h4.3M166.36 80.83h4.3M166.46 80.64h4.3M166.55 80.76h4.3M166.65 80.83h4.3M166.74 80.86h4.3M166.84 81.03h4.3M166.93 81.03h4.3M167.03 80.78h4.3M167.12 80.90h4.3M167.22 80.83h4.3M167.31 80.83h4.3M167.40 80.89h4.3M167.50 80.97h4.3M167.59 81.24h4.3M167.69 81.24h4.3M167.78 81.33h4.3M167.88 81.16h4.3M167.97 81.15h4.3M168.07 81.51h4.3M168.16 81.49h4.3M168.26 81.58h4.3M168.35 81.24h4.3M168.45 81.43h4.3M168.54 81.56h4.3M168.64 81.63h4.3M168.73 81.73h4.3M168.83 81.61h4.3M168.92 81.58h4.3M169.02 81.45h4.3M169.11 81.79h4.3M169.20 81.89h4.3M169.30 81.87h4.3M169.39 81.79h4.3M169.49 81.67h4.3M169.58 81.64h4.3M169.68 81.86h4.3M169.77 81.92h4.3M169.87 81.93h4.3M169.96 81.60h4.3M170.06 81.74h4.3M170.15 81.68h4.3M170.25 81.60h4.3M170.34 81.71h4.3M170.44 81.71h4.3M170.53 81.57h4.3M170.63 81.50h4.3M170.72 81.43h4.3M170.81 81.34h4.3M170.91 81.22h4.3M171.00 81.02h4.3M171.10 81.15h4.3M171.19 80.81h4.3M171.29 80.93h4.3M171.38 80.74h4.3M171.48 80.72h4.3M171.57 80.67h4.3M171.67 80.51h4.3M171.76 80.63h4.3M171.86 80.25h4.3M171.95 80.07h4.3M172.05 80.36h4.3M172.14 80.03h4.3M172.24 79.94h4.3M172.33 79.92h4.3M172.43 79.92h4.3M172.52 80.01h4.3M172.61 79.84h4.3M172.71 79.63h4.3M172.80 79.67h4.3M172.90 79.60h4.3M172.99 79.59h4.3M173.09 79.52h4.3M173.18 79.38h4.3M173.28 79.44h4.3M173.37 79.41h4.3M173.47 79.30h4.3M173.56 79.51h4.3M173.66 79.30h4.3M173.75 79.18h4.3M173.85 79.31h4.3M173.94 79.39h4.3M174.04 79.34h4.3M174.13 79.24h4.3M174.23 79.26h4.3M174.32 79.07h4.3M174.41 78.96h4.3M174.51 78.98h4.3M174.60 78.99h4.3M174.70 78.93h4.3M174.79 78.98h4.3M174.89 78.83h4.3M174.98 78.80h4.3M175.08 78.82h4.3M175.17 78.78h4.3M175.27 79.00h4.3M175.36 78.87h4.3M175.46 78.72h4.3M175.55 78.79h4.3M175.65 78.95h4.3M175.74 78.82h4.3M175.84 78.79h4.3M175.93 78.71h4.3M176.03 78.62h4.3M176.12 78.79h4.3M176.21 78.56h4.3M176.31 78.83h4.3M176.40 78.53h4.3M176.50 78.80h4.3M176.59 78.66h4.3M176.69 78.77h4.3M176.78 78.74h4.3M176.88 78.56h4.3M176.97 78.73h4.3M177.07 78.55h4.3M177.16 78.64h4.3M177.26 78.71h4.3M177.35 78.69h4.3M177.45 78.87h4.3M177.54 79.03h4.3M177.64 78.81h4.3M177.73 79.04h4.3M177.82 78.83h4.3M177.92 79.06h4.3M178.01 78.96h4.3M178.11 79.07h4.3M178.20 78.94h4.3M178.30 79.28h4.3M178.39 79.08h4.3M178.49 79.23h4.3M178.58 79.21h4.3M178.68 79.47h4.3M178.77 79.43h4.3M178.87 79.49h4.3M178.96 79.60h4.3M179.06 79.45h4.3M179.15 79.42h4.3M179.25 79.78h4.3M179.34 79.62h4.3M179.44 79.87h4.3M179.53 79.97h4.3M179.62 79.89h4.3M179.72 79.72h4.3M179.81 80.07h4.3M179.91 80.02h4.3M180.00 79.90h4.3M180.10 79.92h4.3M180.19 80.08h4.3M180.29 79.96h4.3M180.38 80.30h4.3M180.48 80.25h4.3M180.57 80.31h4.3M180.67 80.16h4.3M180.76 80.39h4.3M180.86 80.09h4.3M180.95 80.33h4.3M181.05 80.15h4.3M181.14 80.05h4.3M181.24 80.09h4.3M181.33 80.12h4.3M181.42 80.33h4.3M181.52 80.15h4.3M181.61 80.17h4.3M181.71 80.20h4.3M181.80 80.03h4.3M181.90 80.14h4.3M181.99 80.11h4.3M182.09 80.17h4.3M182.18 79.96h4.3M182.28 80.05h4.3M182.37 80.04h4.3M182.47 79.91h4.3M182.56 79.71h4.3M182.66 79.59h4.3M182.75 79.46h4.3M182.85 79.69h4.3M182.94 79.34h4.3M183.04 79.45h4.3M183.13 79.34h4.3M183.22 79.11h4.3M183.32 79.10h4.3M183.41 79.27h4.3M183.51 79.09h4.3M183.60 79.17h4.3M183.70 79.09h4.3M183.79 78.69h4.3M183.89 78.86h4.3M183.98 78.53h4.3M184.08 78.61h4.3M184.17 78.55h4.3M184.27 78.68h4.3M184.36 78.47h4.3M184.46 78.24h4.3M184.55 78.30h4.3M184.65 78.24h4.3M184.74 78.05h4.3M184.83 78.05h4.3M184.93 78.20h4.3M185.02 78.18h4.3M185.12 78.02h4.3M185.21 77.67h4.3M185.31 77.93h4.3M185.40 77.67h4.3M185.50 77.74h4.3M185.59 77.39h4.3M185.69 77.29h4.3M185.78 77.51h4.3M185.88 77.18h4.3M185.97 77.00h4.3M186.07 77.09h4.3M186.16 77.21h4.3M186.26 77.06h4.3M186.35 76.80h4.3M186.45 76.97h4.3M186.54 76.81h4.3M186.63 76.76h4.3M186.73 76.61h4.3M186.82 76.45h4.3M186.92 76.60h4.3M187.01 76.37h4.3M187.11 76.51h4.3M187.20 76.31h4.3M187.30 76.42h4.3M187.39 76.22h4.3M187.49 76.18h4.3M187.58 76.24h4.3M187.68 76.13h4.3M187.77 76.07h4.3M187.87 76.28h4.3M187.96 76.43h4.3M188.06 76.27h4.3M188.15 76.58h4.3M188.25 76.65h4.3M188.34 76.75h4.3M188.43 76.73h4.3M188.53 77.10h4.3M188.62 77.16h4.3M188.72 77.23h4.3M188.81 77.22h4.3M188.91 77.58h4.3M189.00 77.55h4.3M189.10 78.10h4.3M189.19 78.09h4.3M189.29 78.31h4.3M189.38 78.61h4.3M189.48 78.87h4.3M189.57 79.09h4.3M189.67 79.38h4.3M189.76 79.87h4.3M189.86 80.47h4.3M189.95 80.89h4.3M190.05 81.52h4.3M190.14 82.27h4.3M190.23 82.56h4.3M190.33 83.21h4.3M190.42 83.80h4.3M190.52 84.22h4.3M190.61 84.93h4.3M190.71 85.05h4.3M190.80 85.43h4.3M190.90 85.91h4.3M190.99 86.38h4.3M191.09 86.90h4.3M191.18 87.38h4.3M191.28 87.73h4.3M191.37 88.07h4.3M191.47 88.29h4.3M191.56 88.78h4.3M191.66 89.48h4.3M191.75 90.05h4.3M191.84 90.33h4.3M191.94 91.13h4.3M192.03 91.48h4.3M192.13 92.02h4.3M192.22 92.57h4.3M192.32 92.89h4.3M192.41 93.48h4.3M192.51 94.34h4.3M192.60 94.63h4.3M192.70 95.12h4.3M192.79 95.76h4.3M192.89 96.50h4.3M192.98 96.89h4.3M193.08 97.44h4.3M193.17 98.04h4.3M193.27 98.70h4.3M193.36 99.38h4.3M193.46 99.79h4.3M193.55 100.60h4.3M193.64 101.24h4.3M193.74 101.77h4.3M193.83 102.07h4.3M193.93 102.77h4.3M194.02 103.62h4.3M194.12 104.21h4.3M194.21 104.54h4.3M194.31 105.28h4.3M194.40 105.87h4.3M194.50 106.66h4.3M194.59 107.00h4.3M194.69 107.75h4.3M194.78 108.57h4.3M194.96 109.27h4.1M195.17 109.58h3.9M195.37 110.45h3.7M195.58 111.14h3.5M195.79 111.88h3.2M196.00 112.37h3.0M196.44 112.59h3.7M196.42 111.75h3.9M196.40 111.16h4.2M196.43 110.58h4.3M196.53 110.16h4.3M196.62 109.35h4.3M196.72 108.76h4.3M196.81 108.06h4.3M196.91 107.32h4.3M197.00 106.98h4.3M197.10 106.00h4.3M197.19 105.51h4.3M197.29 104.66h4.3M197.38 103.69h4.3M197.48 103.19h4.3M197.57 102.02h4.3M197.67 101.59h4.3M197.76 100.39h4.3M197.86 99.65h4.3M197.95 98.92h4.3M198.04 97.85h4.3M198.14 97.25h4.3M198.23 95.98h4.3M198.33 95.21h4.3M198.42 93.79h4.3M198.52 92.87h4.3M198.61 91.64h4.3M198.71 90.62h4.3M198.80 89.72h4.3M198.90 88.79h4.3M198.99 88.03h4.3M199.09 87.44h4.3M199.18 86.60h4.3M199.28 85.98h4.3M199.37 85.60h4.3M199.47 84.88h4.3M199.56 84.59h4.3M199.65 83.85h4.3M199.75 83.32h4.3M199.84 82.59h4.3M199.94 82.02h4.3M200.03 81.45h4.3M200.13 81.04h4.3M200.22 80.44h4.3M200.32 79.96h4.3M200.41 79.19h4.3M200.51 78.79h4.3M200.60 78.20h4.3M200.70 77.74h4.3M200.79 77.61h4.3M200.89 77.47h4.3M200.98 77.27h4.3M201.08 77.10h4.3M201.17 76.82h4.3M201.27 76.50h4.3M201.36 76.28h4.3M201.45 76.05h4.3M201.55 75.85h4.3M201.64 75.74h4.3M201.74 75.52h4.3M201.83 75.47h4.3M201.93 75.15h4.3M202.02 75.01h4.3M202.12 75.02h4.3M202.21 74.84h4.3M202.31 74.67h4.3M202.40 74.59h4.3M202.50 74.60h4.3M202.59 74.46h4.3M202.69 74.27h4.3M202.78 74.25h4.3M202.88 74.35h4.3M202.97 74.12h4.3M203.06 74.29h4.3M203.16 74.48h4.3M203.25 74.24h4.3M203.35 74.35h4.3M203.44 74.49h4.3M203.54 74.62h4.3M203.63 74.57h4.3M203.73 74.60h4.3M203.82 74.55h4.3M203.92 74.63h4.3M204.01 74.78h4.3M204.11 74.72h4.3M204.20 74.96h4.3M204.30 74.72h4.3M204.39 75.08h4.3M204.49 75.14h4.3M204.58 75.03h4.3M204.68 74.98h4.3M204.77 75.17h4.3M204.86 75.33h4.3M204.96 75.46h4.3M205.05 75.55h4.3M205.15 75.33h4.3M205.24 75.32h4.3M205.34 75.37h4.3M205.43 75.75h4.3M205.53 75.63h4.3M205.62 75.44h4.3M205.72 75.68h4.3M205.81 75.78h4.3M205.91 75.63h4.3M206.00 75.46h4.3M206.10 75.72h4.3M206.19 75.57h4.3M206.29 75.31h4.3M206.38 75.49h4.3M206.47 75.32h4.3M206.57 75.28h4.3M206.66 75.12h4.3M206.76 75.01h4.3M206.85 74.97h4.3M206.95 74.93h4.3M207.04 74.81h4.3M207.14 74.88h4.3M207.23 74.47h4.3M207.33 74.42h4.3M207.42 74.62h4.3M207.52 74.39h4.3M207.61 74.29h4.3M207.71 74.20h4.3M207.80 73.96h4.3M207.90 73.93h4.3M207.99 73.77h4.3M208.09 73.66h4.3M208.18 73.92h4.3M208.27 73.75h4.3M208.37 73.74h4.3M208.46 73.32h4.3M208.56 73.54h4.3M208.65 73.31h4.3M208.75 73.31h4.3M208.84 73.31h4.3M208.94 72.98h4.3M209.03 73.04h4.3M209.13 73.04h4.3M209.22 73.09h4.3M209.32 72.87h4.3M209.41 72.72h4.3M209.51 72.75h4.3M209.60 72.67h4.3M209.70 72.48h4.3M209.79 72.51h4.3M209.88 72.34h4.3M209.98 72.16h4.3M210.07 72.21h4.3M210.17 72.06h4.3M210.26 72.16h4.3M210.36 72.11h4.3M210.45 72.20h4.3M210.55 72.10h4.3M210.64 72.06h4.3M210.74 72.11h4.3M210.83 71.78h4.3M210.93 71.79h4.3M211.02 71.70h4.3M211.12 71.63h4.3M211.21 71.78h4.3M211.31 71.76h4.3M211.40 71.60h4.3M211.50 71.92h4.3M211.59 71.95h4.3M211.68 71.60h4.3M211.78 71.60h4.3M211.87 71.66h4.3M211.97 71.97h4.3M212.06 72.06h4.3M212.16 71.80h4.3M212.25 71.84h4.3M212.35 72.12h4.3M212.44 72.11h4.3M212.54 72.06h4.3M212.63 72.14h4.3M212.73 72.30h4.3M212.82 72.39h4.3M212.92 72.52h4.3M213.01 72.72h4.3M213.11 72.70h4.3M213.20 72.79h4.3M213.29 72.88h4.3M213.39 73.26h4.3M213.48 73.11h4.3M213.58 73.34h4.3M213.67 73.40h4.3M213.77 73.46h4.3M213.86 73.60h4.3M213.96 73.55h4.3M214.05 73.72h4.3M214.15 74.01h4.3M214.24 74.15h4.3M214.34 74.04h4.3M214.43 74.11h4.3M214.53 74.50h4.3M214.62 74.27h4.3M214.72 74.63h4.3M214.81 74.74h4.3M214.91 74.53h4.3M215.00 74.87h4.3M215.09 74.67h4.3M215.19 74.68h4.3M215.28 74.83h4.3M215.38 74.91h4.3M215.47 75.06h4.3M215.57 75.06h4.3M215.66 75.25h4.3M215.76 75.26h4.3M215.85 75.10h4.3M215.95 75.19h4.3M216.04 75.46h4.3M216.14 75.26h4.3M216.23 75.65h4.3M216.33 75.65h4.3M216.42 75.46h4.3M216.52 75.54h4.3M216.61 75.58h4.3M216.70 75.69h4.3M216.80 75.67h4.3M216.89 75.62h4.3M216.99 75.75h4.3M217.08 75.77h4.3M217.18 75.87h4.3M217.27 75.94h4.3M217.37 76.14h4.3M217.46 76.08h4.3M217.56 76.09h4.3M217.65 76.21h4.3M217.75 76.03h4.3M217.84 76.06h4.3M217.94 75.99h4.3M218.03 76.23h4.3M218.13 76.25h4.3M218.22 76.25h4.3M218.32 76.10h4.3M218.41 75.86h4.3M218.50 75.80h4.3M218.60 76.03h4.3M218.69 76.01h4.3M218.79 75.79h4.3M218.88 75.87h4.3M218.98 75.78h4.3M219.07 75.62h4.3M219.17 75.37h4.3M219.26 75.30h4.3M219.36 75.15h4.3M219.45 75.06h4.3M219.55 74.97h4.3M219.64 74.68h4.3M219.74 74.60h4.3M219.83 74.50h4.3M219.93 74.54h4.3M220.02 74.54h4.3M220.11 74.36h4.3M220.21 74.01h4.3M220.30 74.02h4.3M220.40 73.97h4.3M220.49 73.67h4.3M220.59 73.54h4.3M220.68 73.65h4.3M220.78 73.40h4.3M220.87 73.47h4.3M220.97 73.19h4.3M221.06 73.39h4.3M221.16 73.09h4.3M221.25 73.08h4.3M221.35 73.07h4.3M221.44 73.16h4.3M221.54 73.13h4.3M221.63 73.06h4.3M221.73 72.96h4.3M221.82 72.67h4.3M221.91 72.68h4.3M222.01 72.78h4.3M222.10 72.92h4.3M222.20 72.77h4.3M222.29 72.52h4.3M222.39 72.55h4.3M222.48 72.76h4.3M222.58 72.54h4.3M222.67 72.65h4.3M222.77 72.61h4.3M222.86 72.55h4.3M222.96 72.45h4.3M223.05 72.44h4.3M223.15 72.28h4.3M223.24 72.16h4.3M223.34 72.47h4.3M223.43 72.08h4.3M223.52 72.15h4.3M223.62 72.26h4.3M223.71 72.38h4.3M223.81 72.06h4.3M223.90 72.06h4.3M224.00 72.28h4.3M224.09 72.06h4.3M224.19 72.08h4.3M224.28 72.06h4.3M224.38 71.93h4.3M224.47 72.28h4.3M224.57 72.18h4.3M224.66 71.90h4.3M224.76 71.94h4.3M224.85 71.97h4.3M224.95 72.07h4.3M225.04 72.29h4.3M225.14 72.01h4.3M225.23 72.07h4.3M225.32 72.12h4.3M225.42 72.23h4.3M225.51 72.41h4.3M225.61 72.30h4.3M225.70 72.47h4.3M225.80 72.36h4.3M225.89 72.36h4.3M225.99 72.57h4.3M226.08 72.49h4.3M226.18 72.49h4.3M226.27 72.55h4.3M226.37 72.53h4.3M226.46 72.60h4.3M226.56 72.50h4.3M226.65 72.60h4.3M226.75 72.87h4.3M226.84 72.66h4.3M226.93 72.74h4.3M227.03 72.77h4.3M227.12 72.89h4.3M227.22 72.81h4.3M227.31 72.98h4.3M227.41 73.12h4.3M227.50 73.20h4.3M227.60 73.31h4.3M227.69 73.04h4.3M227.79 73.31h4.3M227.88 73.17h4.3M227.98 73.26h4.3M228.07 73.39h4.3M228.17 73.53h4.3M228.26 73.49h4.3M228.36 73.65h4.3M228.45 73.29h4.3M228.55 73.43h4.3M228.64 73.52h4.3M228.73 73.36h4.3M228.83 73.39h4.3M228.92 73.53h4.3M229.02 73.61h4.3M229.11 73.45h4.3M229.21 73.43h4.3M229.30 73.52h4.3M229.40 73.68h4.3M229.49 73.57h4.3M229.59 73.70h4.3M229.68 73.48h4.3M229.78 73.52h4.3M229.87 73.31h4.3M229.97 73.18h4.3M230.06 73.05h4.3M230.16 72.80h4.3M230.25 72.67h4.3M230.34 72.78h4.3M230.44 72.73h4.3M230.53 72.25h4.3M230.63 72.17h4.3M230.72 72.09h4.3M230.82 71.93h4.3M230.91 71.99h4.3M231.01 71.60h4.3M231.10 71.47h4.3M231.20 71.39h4.3M231.29 71.43h4.3M231.39 71.02h4.3M231.48 71.02h4.3M231.58 70.65h4.3M231.67 70.67h4.3M231.77 70.74h4.3M231.86 70.34h4.3M231.96 70.29h4.3M232.05 70.31h4.3M232.14 70.18h4.3M232.24 70.10h4.3M232.33 70.02h4.3M232.43 69.96h4.3M232.52 69.72h4.3M232.62 69.64h4.3M232.71 69.56h4.3M232.81 69.51h4.3M232.90 69.44h4.3M233.00 69.46h4.3M233.09 69.18h4.3M233.19 69.10h4.3M233.28 69.16h4.3M233.38 69.12h4.3M233.47 68.74h4.3M233.57 68.84h4.3M233.66 68.55h4.3M233.76 68.66h4.3M233.85 68.29h4.3M233.94 68.39h4.3M234.04 68.34h4.3M234.13 68.31h4.3M234.23 68.32h4.3M234.32 68.19h4.3M234.42 68.02h4.3M234.51 67.93h4.3M234.61 67.67h4.3M234.70 67.82h4.3M234.80 67.77h4.3M234.89 67.78h4.3M234.99 67.50h4.3M235.08 67.62h4.3M235.18 67.37h4.3M235.27 67.60h4.3M235.37 67.61h4.3M235.46 67.43h4.3M235.55 67.50h4.3M235.65 67.48h4.3M235.74 67.33h4.3M235.84 67.24h4.3M235.93 67.50h4.3M236.03 67.35h4.3M236.12 67.27h4.3M236.22 67.39h4.3M236.31 67.56h4.3M236.41 67.62h4.3M236.50 67.48h4.3M236.60 67.65h4.3M236.69 67.35h4.3M236.79 67.49h4.3M236.88 67.32h4.3M236.98 67.43h4.3M237.07 67.71h4.3M237.17 67.41h4.3M237.26 67.67h4.3M237.35 67.63h4.3M237.45 67.85h4.3M237.54 67.88h4.3M237.64 67.56h4.3M237.73 67.64h4.3M237.83 67.96h4.3M237.92 67.73h4.3M238.02 67.70h4.3M238.11 68.02h4.3M238.21 67.93h4.3M238.30 67.84h4.3M238.40 67.97h4.3M238.49 67.95h4.3M238.59 67.99h4.3M238.68 68.06h4.3M238.78 67.93h4.3M238.87 68.14h4.3M238.96 68.31h4.3M239.06 68.19h4.3M239.15 68.30h4.3M239.25 68.12h4.3M239.34 68.10h4.3M239.44 68.06h4.3M239.53 68.48h4.3M239.63 68.15h4.3M239.72 68.28h4.3M239.82 68.41h4.3M239.91 68.47h4.3M240.01 68.45h4.3M240.10 68.40h4.3M240.20 68.57h4.3M240.29 68.44h4.3M240.39 68.62h4.3M240.48 68.33h4.3M240.58 68.62h4.3M240.67 68.40h4.3M240.76 68.53h4.3M240.86 68.58h4.3M240.95 68.50h4.3M241.05 68.63h4.3M241.14 68.81h4.3M241.24 68.51h4.3M241.33 68.59h4.3M241.43 68.93h4.3M241.52 68.74h4.3M241.62 68.74h4.3M241.71 68.97h4.3M241.81 68.94h4.3M241.90 68.73h4.3M242.00 68.92h4.3M242.09 68.78h4.3M242.19 69.04h4.3M242.28 68.97h4.3M242.37 69.10h4.3M242.47 68.83h4.3M242.56 69.20h4.3M242.66 68.94h4.3M242.75 69.21h4.3M242.85 69.08h4.3M242.94 69.28h4.3M243.04 68.99h4.3M243.13 69.00h4.3M243.23 69.19h4.3M243.32 69.39h4.3M243.42 69.23h4.3M243.51 69.27h4.3M243.61 69.16h4.3M243.70 69.33h4.3M243.80 69.31h4.3M243.89 69.52h4.3M243.99 69.48h4.3M244.08 69.40h4.3M244.17 69.30h4.3M244.27 69.32h4.3M244.36 69.67h4.3M244.46 69.55h4.3M244.55 69.43h4.3M244.65 69.69h4.3M244.74 69.48h4.3M244.84 69.60h4.3M244.93 69.80h4.3M245.03 69.51h4.3M245.12 69.54h4.3M245.22 69.55h4.3M245.31 69.62h4.3M245.41 69.75h4.3M245.50 69.76h4.3M245.60 69.78h4.3M245.69 69.70h4.3M245.78 69.93h4.3M245.88 69.95h4.3M245.97 70.11h4.3M246.07 69.97h4.3M246.16 70.13h4.3M246.26 70.07h4.3M246.35 70.30h4.3M246.45 70.12h4.3M246.54 70.31h4.3M246.64 70.35h4.3M246.73 70.42h4.3M246.83 70.52h4.3M246.92 70.58h4.3M247.02 70.57h4.3M247.11 70.84h4.3M247.21 70.96h4.3M247.30 70.88h4.3M247.40 70.98h4.3M247.49 71.10h4.3M247.58 71.01h4.3M247.68 71.19h4.3M247.77 71.22h4.3M247.87 71.30h4.3M247.96 71.34h4.3M248.06 71.48h4.3M248.15 71.42h4.3M248.25 71.51h4.3M248.34 71.56h4.3M248.44 71.79h4.3M248.53 71.72h4.3M248.63 72.01h4.3M248.72 72.12h4.3M248.82 72.13h4.3M248.91 72.02h4.3M249.01 72.32h4.3M249.10 72.14h4.3M249.19 72.20h4.3M249.29 72.35h4.3M249.38 72.43h4.3M249.48 72.38h4.3M249.57 72.58h4.3M249.67 72.66h4.3M249.76 72.49h4.3M249.86 72.52h4.3M249.95 72.64h4.3M250.05 72.81h4.3M250.14 72.85h4.3M250.24 72.70h4.3M250.33 72.83h4.3M250.43 73.09h4.3M250.52 73.16h4.3M250.62 73.07h4.3M250.71 73.18h4.3M250.81 73.25h4.3M250.90 73.05h4.3M250.99 73.04h4.3M251.09 73.30h4.3M251.18 73.25h4.3M251.28 73.43h4.3M251.37 73.30h4.3M251.47 73.40h4.3M251.56 73.59h4.3M251.66 73.35h4.3M251.75 73.51h4.3M251.85 73.45h4.3M251.94 73.64h4.3M252.04 73.76h4.3M252.13 73.90h4.3M252.23 73.84h4.3M252.32 73.63h4.3M252.42 73.79h4.3M252.51 73.87h4.3M252.60 73.94h4.3M252.70 74.01h4.3M252.79 74.16h4.3M252.89 74.18h4.3M252.98 73.93h4.3M253.08 73.95h4.3M253.17 74.31h4.3M253.27 74.03h4.3M253.36 74.39h4.3M253.46 74.09h4.3M253.55 74.31h4.3M253.65 74.17h4.3M253.74 74.20h4.3M253.84 74.32h4.3M253.93 74.54h4.3M254.03 74.53h4.3M254.12 74.41h4.3M254.22 74.37h4.3M254.31 74.48h4.3M254.40 74.43h4.3M254.50 74.48h4.3M254.59 74.61h4.3M254.69 74.63h4.3M254.78 74.82h4.3M254.88 74.50h4.3M254.97 74.69h4.3M255.07 74.71h4.3M255.16 74.55h4.3M255.26 74.64h4.3M255.35 74.56h4.3M255.45 74.86h4.3M255.54 74.63h4.3M255.64 74.51h4.3M255.73 74.66h4.3M255.83 74.67h4.3M255.92 74.80h4.3M256.01 74.71h4.3M256.11 74.48h4.3M256.20 74.74h4.3M256.30 74.35h4.3M256.39 74.60h4.3M256.49 74.31h4.3M256.58 74.59h4.3M256.68 74.30h4.3M256.77 74.51h4.3M256.87 74.48h4.3M256.96 74.43h4.3M257.06 74.13h4.3M257.15 74.21h4.3M257.25 74.06h4.3M257.34 74.27h4.3M257.44 74.34h4.3M257.53 74.12h4.3M257.63 74.14h4.3M257.72 74.11h4.3M257.81 73.87h4.3M257.91 73.93h4.3M258.00 73.89h4.3M258.10 74.02h4.3M258.19 73.85h4.3M258.29 73.81h4.3M258.38 73.86h4.3M258.48 73.70h4.3M258.57 73.63h4.3M258.67 73.68h4.3M258.76 73.58h4.3M258.86 73.83h4.3M258.95 73.74h4.3M259.05 73.80h4.3M259.14 73.78h4.3M259.24 73.58h4.3M259.33 73.90h4.3M259.42 73.93h4.3M259.52 73.63h4.3M259.61 73.84h4.3M259.71 74.03h4.3M259.80 73.94h4.3M259.90 74.18h4.3M259.99 74.18h4.3M260.09 74.24h4.3M260.18 74.42h4.3M260.28 74.46h4.3M260.37 74.48h4.3M260.47 74.37h4.3M260.56 74.64h4.3M260.66 74.84h4.3M260.75 74.90h4.3M260.85 75.04h4.3M260.94 75.08h4.3M261.04 75.41h4.3M261.13 75.31h4.3M261.22 75.62h4.3M261.32 75.71h4.3M261.41 75.85h4.3M261.51 76.13h4.3M261.60 76.57h4.3M261.70 77.08h4.3M261.79 77.63h4.3M261.89 77.94h4.3M261.98 78.47h4.3M262.08 79.26h4.3M262.17 79.82h4.3M262.27 80.05h4.3M262.36 80.50h4.3M262.46 81.00h4.3M262.55 81.24h4.3M262.65 81.87h4.3M262.74 82.38h4.3M262.83 82.95h4.3M262.93 83.30h4.3M263.02 83.75h4.3M263.12 84.20h4.3M263.21 84.92h4.3M263.31 85.30h4.3M263.40 85.83h4.3M263.50 86.51h4.3M263.59 86.98h4.3M263.69 87.43h4.3M263.78 88.25h4.3M263.88 88.98h4.3M263.97 89.40h4.3M264.07 89.92h4.3M264.16 90.56h4.3M264.26 91.51h4.3M264.35 91.82h4.3M264.45 92.67h4.3M264.54 93.07h4.3M264.63 93.86h4.3M264.73 94.62h4.3M264.82 94.95h4.3M264.92 95.56h4.3M265.01 96.25h4.3M265.11 96.79h4.3M265.20 97.32h4.3M265.30 97.78h4.3M265.39 98.15h4.3M265.49 98.88h4.3M265.58 99.25h4.3M265.68 99.88h4.3M265.77 100.30h4.3M265.87 100.71h4.3M265.96 101.48h4.3M266.06 101.69h4.3M266.15 102.43h4.3M266.24 102.71h4.3M266.34 103.21h4.3M266.43 103.58h4.3M266.53 104.02h4.3M266.62 104.71h4.3M266.72 105.09h4.3M266.81 105.62h4.3M266.91 105.93h4.3M267.00 106.54h4.3M267.10 107.07h4.3M267.19 107.58h4.3M267.29 108.02h4.3M267.38 108.38h4.3M267.53 108.96h4.2M267.74 109.39h4.0M267.94 109.81h3.7M268.15 110.33h3.5M268.36 110.66h3.3M268.57 111.03h3.1M269.07 111.06h3.7M269.05 110.99h3.9M269.03 110.53h4.1M269.03 110.05h4.3M269.13 109.35h4.3M269.22 109.09h4.3M269.32 108.55h4.3M269.41 107.91h4.3M269.51 107.26h4.3M269.60 106.61h4.3M269.70 106.38h4.3M269.79 105.77h4.3M269.89 105.09h4.3M269.98 104.29h4.3M270.08 103.76h4.3M270.17 103.17h4.3M270.27 102.35h4.3M270.36 101.50h4.3M270.46 101.15h4.3M270.55 100.27h4.3M270.64 99.62h4.3M270.74 98.79h4.3M270.83 97.77h4.3M270.93 97.09h4.3M271.02 96.05h4.3M271.12 95.26h4.3M271.21 94.62h4.3M271.31 93.56h4.3M271.40 92.53h4.3M271.50 91.31h4.3M271.59 90.32h4.3M271.69 88.95h4.3M271.78 87.60h4.3M271.88 86.33h4.3M271.97 85.31h4.3M272.07 84.26h4.3M272.16 83.62h4.3M272.25 82.94h4.3M272.35 82.36h4.3M272.44 81.85h4.3M272.54 81.16h4.3M272.63 80.66h4.3M272.73 80.29h4.3M272.82 79.91h4.3M272.92 79.80h4.3M273.01 79.40h4.3M273.11 79.29h4.3M273.20 78.76h4.3M273.30 78.48h4.3M273.39 78.51h4.3M273.49 77.96h4.3M273.58 77.85h4.3M273.68 77.79h4.3M273.77 77.57h4.3M273.87 77.32h4.3M273.96 77.15h4.3M274.05 77.26h4.3M274.15 77.08h4.3M274.24 77.28h4.3M274.34 77.01h4.3M274.43 77.24h4.3M274.53 76.85h4.3M274.62 77.05h4.3M274.72 76.90h4.3M274.81 76.95h4.3M274.91 76.92h4.3M275.00 77.05h4.3M275.10 76.79h4.3M275.19 77.01h4.3M275.29 76.71h4.3M275.38 76.96h4.3M275.48 77.04h4.3M275.57 76.90h4.3M275.66 77.10h4.3M275.76 76.95h4.3M275.85 77.00h4.3M275.95 77.28h4.3M276.04 77.38h4.3M276.14 77.37h4.3M276.23 77.22h4.3M276.33 77.59h4.3M276.42 77.44h4.3M276.52 77.72h4.3M276.61 77.59h4.3M276.71 77.63h4.3M276.80 77.73h4.3M276.90 77.99h4.3M276.99 78.18h4.3M277.09 78.07h4.3M277.18 77.98h4.3M277.28 78.27h4.3M277.37 78.41h4.3M277.46 78.42h4.3M277.56 78.14h4.3M277.65 78.30h4.3M277.75 78.50h4.3M277.84 78.48h4.3M277.94 78.60h4.3M278.03 78.56h4.3M278.13 78.51h4.3M278.22 78.47h4.3M278.32 78.34h4.3M278.41 78.19h4.3M278.51 78.48h4.3M278.60 78.34h4.3M278.70 78.50h4.3M278.79 78.19h4.3M278.89 78.47h4.3M278.98 78.37h4.3M279.07 78.46h4.3M279.17 78.37h4.3M279.26 78.25h4.3M279.36 78.27h4.3M279.45 78.09h4.3M279.55 78.13h4.3M279.64 78.25h4.3M279.74 78.07h4.3M279.83 78.13h4.3M279.93 78.23h4.3M280.02 78.19h4.3M280.12 78.30h4.3M280.21 78.10h4.3M280.31 78.13h4.3M280.40 78.06h4.3M280.50 78.18h4.3M280.59 78.10h4.3M280.69 78.21h4.3M280.78 77.87h4.3M280.87 77.83h4.3M280.97 77.87h4.3M281.06 77.98h4.3M281.16 77.96h4.3M281.25 77.75h4.3M281.35 77.75h4.3M281.44 77.85h4.3M281.54 77.69h4.3M281.63 77.89h4.3M281.73 77.57h4.3M281.82 77.81h4.3M281.92 77.53h4.3M282.01 77.73h4.3M282.11 77.73h4.3M282.20 77.77h4.3M282.30 77.74h4.3M282.39 77.37h4.3M282.48 77.60h4.3M282.58 77.69h4.3M282.67 77.62h4.3M282.77 77.49h4.3M282.86 77.60h4.3M282.96 77.41h4.3M283.05 77.63h4.3M283.15 77.48h4.3M283.24 77.73h4.3M283.34 77.38h4.3M283.43 77.64h4.3M283.53 77.51h4.3M283.62 77.82h4.3M283.72 77.96h4.3M283.81 77.83h4.3M283.91 78.04h4.3M284.00 77.87h4.3M284.10 77.87h4.3M284.19 78.26h4.3M284.28 78.19h4.3M284.38 78.15h4.3M284.47 78.48h4.3M284.57 78.66h4.3M284.66 78.43h4.3M284.76 78.74h4.3M284.85 78.74h4.3M284.95 78.71h4.3M285.04 78.83h4.3M285.14 78.92h4.3M285.23 79.12h4.3M285.33 79.22h4.3M285.42 79.41h4.3M285.52 79.53h4.3M285.61 79.72h4.3M285.71 79.81h4.3M285.80 79.62h4.3M285.89 79.89h4.3M285.99 80.07h4.3M286.08 79.89h4.3M286.18 80.10h4.3M286.27 80.33h4.3M286.37 80.27h4.3M286.46 80.37h4.3M286.56 80.30h4.3M286.65 80.66h4.3M286.75 80.68h4.3M286.84 80.56h4.3M286.94 80.64h4.3M287.03 80.61h4.3M287.13 80.89h4.3M287.22 81.13h4.3M287.32 81.18h4.3M287.41 81.02h4.3M287.51 81.14h4.3M287.60 81.19h4.3M287.69 81.31h4.3M287.79 81.37h4.3M287.88 81.43h4.3M287.98 81.66h4.3M288.07 81.88h4.3M288.17 81.92h4.3M288.26 81.89h4.3M288.36 81.83h4.3M288.45 82.12h4.3M288.55 81.90h4.3M288.64 81.87h4.3M288.74 81.98h4.3M288.83 82.25h4.3M288.93 82.24h4.3M289.02 82.10h4.3M289.12 82.08h4.3M289.21 82.25h4.3M289.30 82.20h4.3M289.40 82.31h4.3M289.49 82.16h4.3M289.59 82.00h4.3M289.68 81.97h4.3M289.78 82.01h4.3M289.87 82.09h4.3M289.97 82.14h4.3M290.06 82.03h4.3M290.16 81.77h4.3M290.25 82.10h4.3M290.35 81.86h4.3M290.44 81.84h4.3M290.54 81.64h4.3M290.63 81.61h4.3M290.73 81.54h4.3M290.82 81.63h4.3M290.92 81.69h4.3M291.01 81.37h4.3M291.10 81.34h4.3M291.20 81.25h4.3M291.29 81.09h4.3M291.39 81.01h4.3M291.48 81.26h4.3M291.58 81.27h4.3M291.67 80.83h4.3M291.77 80.78h4.3M291.86 80.87h4.3M291.96 80.75h4.3M292.05 80.67h4.3M292.15 80.86h4.3M292.24 80.54h4.3M292.34 80.49h4.3M292.43 80.72h4.3M292.53 80.55h4.3M292.62 80.52h4.3M292.71 80.45h4.3M292.81 80.14h4.3M292.90 80.45h4.3M293.00 80.01h4.3M293.09 80.02h4.3M293.19 80.06h4.3M293.28 80.13h4.3M293.38 80.11h4.3M293.47 79.66h4.3M293.57 79.65h4.3M293.66 79.53h4.3M293.76 79.51h4.3M293.85 79.75h4.3M293.95 79.36h4.3M294.04 79.47h4.3M294.14 79.27h4.3M294.23 79.13h4.3M294.33 79.18h4.3M294.42 79.11h4.3M294.51 79.17h4.3M294.61 79.25h4.3M294.70 79.06h4.3M294.80 79.02h4.3M294.89 78.87h4.3M294.99 78.79h4.3M295.08 78.87h4.3M295.18 78.80h4.3M295.27 78.98h4.3M295.37 78.68h4.3M295.46 78.59h4.3M295.56 78.58h4.3M295.65 78.68h4.3M295.75 78.64h4.3M295.84 78.71h4.3M295.94 78.91h4.3M296.03 78.86h4.3M296.12 78.82h4.3M296.22 78.93h4.3M296.31 78.97h4.3M296.41 78.67h4.3M296.50 78.95h4.3M296.60 78.76h4.3M296.69 78.91h4.3M296.79 78.94h4.3M296.88 78.93h4.3M296.98 78.88h4.3M297.07 78.98h4.3M297.17 79.23h4.3M297.26 79.38h4.3M297.36 79.41h4.3M297.45 79.11h4.3M297.55 79.38h4.3M297.64 79.28h4.3M297.74 79.47h4.3M297.83 79.53h4.3M297.92 79.43h4.3M298.02 79.46h4.3M298.11 79.67h4.3M298.21 79.56h4.3M298.30 79.93h4.3M298.40 80.00h4.3M298.49 79.71h4.3M298.59 80.08h4.3M298.68 80.15h4.3M298.78 79.88h4.3M298.87 80.15h4.3M298.97 80.15h4.3M299.06 80.08h4.3M299.16 80.38h4.3M299.25 80.33h4.3M299.35 80.47h4.3M299.44 80.57h4.3M299.53 80.63h4.3M299.63 80.56h4.3M299.72 80.70h4.3M299.82 80.43h4.3M299.91 80.60h4.3M300.01 80.71h4.3M300.10 80.78h4.3M300.20 80.78h4.3M300.29 81.02h4.3M300.39 80.98h4.3M300.48 81.15h4.3M300.58 81.04h4.3M300.67 81.30h4.3M300.77 81.12h4.3M300.86 81.42h4.3M300.96 81.30h4.3M301.05 81.28h4.3M301.15 81.42h4.3M301.24 81.25h4.3M301.33 81.53h4.3M301.43 81.53h4.3M301.52 81.64h4.3M301.62 81.37h4.3M301.71 81.53h4.3M301.81 81.62h4.3M301.90 81.42h4.3M302.00 81.70h4.3M302.09 81.76h4.3M302.19 81.64h4.3M302.28 81.68h4.3M302.38 81.73h4.3M302.47 81.51h4.3M302.57 81.50h4.3M302.66 81.61h4.3M302.76 81.48h4.3M302.85 81.27h4.3M302.94 81.34h4.3M303.04 81.35h4.3M303.13 81.32h4.3M303.23 80.97h4.3M303.32 80.91h4.3M303.42 81.05h4.3M303.51 80.99h4.3M303.61 80.93h4.3M303.70 80.76h4.3M303.80 80.64h4.3M303.89 80.80h4.3M303.99 80.45h4.3M304.08 80.39h4.3M304.18 80.21h4.3M304.27 80.17h4.3M304.37 80.32h4.3M304.46 80.28h4.3M304.56 80.04h4.3M304.65 80.20h4.3M304.74 79.92h4.3M304.84 79.95h4.3M304.93 80.02h4.3M305.03 80.03h4.3M305.12 79.86h4.3M305.22 79.95h4.3M305.31 79.77h4.3M305.41 79.80h4.3M305.50 79.82h4.3M305.60 79.67h4.3M305.69 79.62h4.3M305.79 79.73h4.3M305.88 79.32h4.3M305.98 79.27h4.3M306.07 79.24h4.3M306.17 79.31h4.3M306.26 79.36h4.3M306.36 79.36h4.3M306.45 79.35h4.3M306.54 79.05h4.3M306.64 79.36h4.3M306.73 79.08h4.3M306.83 79.35h4.3M306.92 79.08h4.3M307.02 79.26h4.3M307.11 79.20h4.3M307.21 78.91h4.3M307.30 79.11h4.3M307.40 79.06h4.3M307.49 79.30h4.3M307.59 79.01h4.3M307.68 79.09h4.3M307.78 79.02h4.3M307.87 78.98h4.3M307.97 79.22h4.3M308.06 79.28h4.3M308.15 79.13h4.3M308.25 79.44h4.3M308.34 79.24h4.3M308.44 79.57h4.3M308.53 79.51h4.3M308.63 79.68h4.3M308.72 79.52h4.3M308.82 79.73h4.3M308.91 79.69h4.3M309.01 79.79h4.3M309.10 79.73h4.3M309.20 79.83h4.3M309.29 79.79h4.3M309.39 79.88h4.3M309.48 80.18h4.3M309.58 79.90h4.3M309.67 80.26h4.3M309.77 80.29h4.3M309.86 80.12h4.3M309.95 80.28h4.3M310.05 80.50h4.3M310.14 80.43h4.3M310.24 80.48h4.3M310.33 80.54h4.3M310.43 80.46h4.3M310.52 80.84h4.3M310.62 80.80h4.3M310.71 80.67h4.3M310.81 80.76h4.3M310.90 80.98h4.3M311.00 81.11h4.3M311.09 81.06h4.3M311.19 81.03h4.3M311.28 81.13h4.3M311.38 81.28h4.3M311.47 81.49h4.3M311.56 81.49h4.3M311.66 81.37h4.3M311.75 81.35h4.3M311.85 81.67h4.3M311.94 81.57h4.3M312.04 81.87h4.3M312.13 81.63h4.3M312.23 82.01h4.3M312.32 81.96h4.3M312.42 81.77h4.3M312.51 81.70h4.3M312.61 82.03h4.3M312.70 81.74h4.3M312.80 81.75h4.3M312.89 81.84h4.3M312.99 81.73h4.3M313.08 81.68h4.3M313.18 81.84h4.3M313.27 81.85h4.3M313.36 81.86h4.3M313.46 81.53h4.3M313.55 81.49h4.3M313.65 81.61h4.3M313.74 81.67h4.3M313.84 81.40h4.3M313.93 81.50h4.3M314.03 81.25h4.3M314.12 81.50h4.3M314.22 81.43h4.3M314.31 81.39h4.3M314.41 81.10h4.3M314.50 80.91h4.3M314.60 81.13h4.3M314.69 80.91h4.3M314.79 80.80h4.3M314.88 80.76h4.3M314.97 80.80h4.3M315.07 80.73h4.3M315.16 80.54h4.3M315.26 80.40h4.3M315.35 80.29h4.3M315.45 80.18h4.3M315.54 80.47h4.3M315.64 80.40h4.3M315.73 79.97h4.3M315.83 80.12h4.3M315.92 80.21h4.3M316.02 79.99h4.3M316.11 80.08h4.3M316.21 79.67h4.3M316.30 79.83h4.3M316.40 79.79h4.3M316.49 79.42h4.3M316.59 79.37h4.3M316.68 79.58h4.3M316.77 79.20h4.3M316.87 79.26h4.3M316.96 79.28h4.3M317.06 79.11h4.3M317.15 79.04h4.3M317.25 78.75h4.3M317.34 78.88h4.3M317.44 78.50h4.3M317.53 78.51h4.3M317.63 78.45h4.3M317.72 78.44h4.3M317.82 78.09h4.3M317.91 78.02h4.3M318.01 78.05h4.3M318.10 77.89h4.3M318.20 78.12h4.3M318.29 77.86h4.3M318.38 77.85h4.3M318.48 77.73h4.3M318.57 77.84h4.3M318.67 77.82h4.3M318.76 77.77h4.3M318.86 77.40h4.3M318.95 77.59h4.3M319.05 77.63h4.3M319.14 77.67h4.3M319.24 77.52h4.3M319.33 77.49h4.3M319.43 77.38h4.3M319.52 77.32h4.3M319.62 77.35h4.3M319.71 77.47h4.3M319.81 77.67h4.3M319.90 77.58h4.3M320.00 77.67h4.3M320.09 77.59h4.3M320.18 77.91h4.3M320.28 77.93h4.3M320.37 77.72h4.3M320.47 77.81h4.3M320.56 77.75h4.3M320.66 77.92h4.3M320.75 77.91h4.3M320.85 78.16h4.3M320.94 78.04h4.3M321.04 78.25h4.3M321.13 78.04h4.3M321.23 78.37h4.3M321.32 78.39h4.3M321.42 78.31h4.3M321.51 78.56h4.3M321.61 78.65h4.3M321.70 78.72h4.3M321.79 78.68h4.3M321.89 78.63h4.3M321.98 78.73h4.3M322.08 78.85h4.3M322.17 78.71h4.3M322.27 78.98h4.3M322.36 78.99h4.3M322.46 79.01h4.3M322.55 79.09h4.3M322.65 78.86h4.3M322.74 79.22h4.3M322.84 79.13h4.3M322.93 79.28h4.3M323.03 79.32h4.3M323.12 79.28h4.3M323.22 79.46h4.3M323.31 79.56h4.3M323.41 79.66h4.3M323.50 79.32h4.3M323.59 79.72h4.3M323.69 79.70h4.3M323.78 79.66h4.3M323.88 79.75h4.3M323.97 79.61h4.3M324.07 79.65h4.3M324.16 79.51h4.3M324.26 79.87h4.3M324.35 79.82h4.3M324.45 79.70h4.3M324.54 79.72h4.3M324.64 79.79h4.3M324.73 79.51h4.3M324.83 79.64h4.3M324.92 79.68h4.3M325.02 79.59h4.3M325.11 79.71h4.3M325.20 79.39h4.3M325.30 79.51h4.3M325.39 79.51h4.3M325.49 79.31h4.3M325.58 79.48h4.3M325.68 79.22h4.3M325.77 79.06h4.3M325.87 79.02h4.3M325.96 79.05h4.3M326.06 79.23h4.3M326.15 79.15h4.3M326.25 79.08h4.3M326.34 78.93h4.3M326.44 78.81h4.3M326.53 78.80h4.3M326.63 78.73h4.3M326.72 78.81h4.3M326.82 78.53h4.3M326.91 78.47h4.3M327.00 78.55h4.3M327.10 78.52h4.3M327.19 78.44h4.3M327.29 78.14h4.3M327.38 78.27h4.3M327.48 78.05h4.3M327.57 77.98h4.3M327.67 77.89h4.3M327.76 77.71h4.3M327.86 77.68h4.3M327.95 77.81h4.3M328.05 77.78h4.3M328.14 77.41h4.3M328.24 77.66h4.3M328.33 77.38h4.3M328.43 77.42h4.3M328.52 77.03h4.3M328.61 76.96h4.3M328.71 77.17h4.3M328.80 76.79h4.3M328.90 76.69h4.3M328.99 76.86h4.3M329.09 76.53h4.3M329.18 76.61h4.3M329.28 76.70h4.3M329.37 76.35h4.3M329.47 76.58h4.3M329.56 76.55h4.3M329.66 76.53h4.3M329.75 76.34h4.3M329.85 76.38h4.3M329.94 76.08h4.3M330.04 76.21h4.3M330.13 76.29h4.3M330.23 76.26h4.3M330.32 75.94h4.3M330.41 76.17h4.3M330.51 75.97h4.3M330.60 75.98h4.3M330.70 76.06h4.3M330.79 75.98h4.3M330.89 75.81h4.3M330.98 75.99h4.3M331.08 76.00h4.3M331.17 75.92h4.3M331.27 75.59h4.3M331.36 75.55h4.3M331.46 75.75h4.3M331.55 75.54h4.3M331.65 75.52h4.3M331.74 75.81h4.3M331.84 75.47h4.3M331.93 75.55h4.3M332.02 75.55h4.3M332.12 75.79h4.3M332.21 75.79h4.3M332.31 75.72h4.3M332.40 75.58h4.3M332.50 75.45h4.3M332.59 75.80h4.3M332.69 75.54h4.3M332.78 75.75h4.3M332.88 75.86h4.3M332.97 75.82h4.3M333.07 76.05h4.3M333.16 76.16h4.3M333.26 76.03h4.3M333.35 76.28h4.3M333.45 76.15h4.3M333.54 76.41h4.3M333.64 76.63h4.3M333.73 76.61h4.3M333.82 76.79h4.3M333.92 77.09h4.3M334.01 77.01h4.3M334.11 77.45h4.3M334.20 77.28h4.3M334.30 77.47h4.3M334.39 77.80h4.3M334.49 77.84h4.3M334.58 78.29h4.3M334.68 78.33h4.3M334.77 78.49h4.3M334.87 78.97h4.3M334.96 79.16h4.3M335.06 79.54h4.3M335.15 79.65h4.3M335.25 79.95h4.3M335.34 80.38h4.3M335.43 80.82h4.3M335.53 81.05h4.3M335.62 81.44h4.3M335.72 82.13h4.3M335.81 82.37h4.3M335.91 82.93h4.3M336.00 83.68h4.3M336.10 84.29h4.3M336.19 84.77h4.3M336.29 85.12h4.3M336.38 86.01h4.3M336.48 86.41h4.3M336.57 87.39h4.3M336.67 87.90h4.3M336.76 88.61h4.3M336.86 89.44h4.3M336.95 90.08h4.3M337.05 91.05h4.3M337.14 91.88h4.3M337.23 92.57h4.3M337.33 93.37h4.3M337.42 93.85h4.3M337.52 94.61h4.3M337.61 95.53h4.3M337.71 95.99h4.3M337.80 96.80h4.3M337.90 97.33h4.3M337.99 97.74h4.3M338.09 98.34h4.3M338.18 99.18h4.3M338.28 99.71h4.3M338.37 100.13h4.3M338.47 100.42h4.3M338.56 100.94h4.3M338.66 101.82h4.3M338.75 102.27h4.3M338.84 102.73h4.3M338.94 103.06h4.3M339.03 103.83h4.3M339.13 104.00h4.3M339.22 104.75h4.3M339.32 105.25h4.3M339.41 105.62h4.3M339.51 106.30h4.3M339.60 106.54h4.3M339.70 107.34h4.3M339.79 107.81h4.3M339.89 108.06h4.3M339.98 108.53h4.3M340.10 109.19h4.3M340.31 109.49h4.0M340.51 110.05h3.8M340.72 110.56h3.6M340.93 111.12h3.3M341.14 111.50h3.1M341.72 111.31h3.4M341.70 110.83h3.6M341.68 110.20h3.8M341.66 109.96h4.0M341.64 109.45h4.3M341.72 108.66h4.3M341.82 108.22h4.3M341.91 107.62h4.3M342.01 107.04h4.3M342.10 106.39h4.3M342.20 106.05h4.3M342.29 105.62h4.3M342.39 104.74h4.3M342.48 104.39h4.3M342.58 103.82h4.3M342.67 103.14h4.3M342.77 102.67h4.3M342.86 101.90h4.3M342.96 101.37h4.3M343.05 100.53h4.3M343.14 99.92h4.3M343.24 99.45h4.3M343.33 98.89h4.3M343.43 98.08h4.3M343.52 97.60h4.3M343.62 96.76h4.3M343.71 96.06h4.3M343.81 95.55h4.3M343.90 94.95h4.3M344.00 94.30h4.3M344.09 93.58h4.3M344.19 92.79h4.3M344.28 92.23h4.3M344.38 91.74h4.3M344.47 90.95h4.3M344.57 90.47h4.3M344.66 90.10h4.3M344.75 89.31h4.3M344.85 88.91h4.3M344.94 88.22h4.3M345.04 87.60h4.3M345.13 87.14h4.3M345.23 86.60h4.3M345.32 86.06h4.3M345.42 85.55h4.3M345.51 85.29h4.3M345.61 84.65h4.3M345.70 84.13h4.3M345.80 83.52h4.3M345.89 83.01h4.3M345.99 82.70h4.3M346.08 82.02h4.3M346.18 81.48h4.3M346.27 81.16h4.3M346.37 80.92h4.3M346.46 80.75h4.3M346.55 80.47h4.3M346.65 80.11h4.3M346.74 79.76h4.3M346.84 79.84h4.3M346.93 79.31h4.3M347.03 79.34h4.3M347.12 79.32h4.3M347.22 78.90h4.3M347.31 78.82h4.3M347.41 78.59h4.3M347.50 78.49h4.3M347.60 78.23h4.3M347.69 78.31h4.3M347.79 78.22h4.3M347.88 77.87h4.3M347.98 77.71h4.3M348.07 77.70h4.3M348.16 77.64h4.3M348.26 77.57h4.3M348.35 77.58h4.3M348.45 77.41h4.3M348.54 77.12h4.3M348.64 77.03h4.3M348.73 77.12h4.3M348.83 76.93h4.3M348.92 77.10h4.3M349.02 77.01h4.3M349.11 76.96h4.3M349.21 76.81h4.3M349.30 76.58h4.3M349.40 76.75h4.3M349.49 76.48h4.3M349.59 76.37h4.3M349.68 76.26h4.3M349.78 76.34h4.3M349.87 76.51h4.3M349.96 76.34h4.3M350.06 76.28h4.3M350.15 76.11h4.3M350.25 76.07h4.3M350.34 76.20h4.3M350.44 76.18h4.3M350.53 75.86h4.3M350.63 75.90h4.3M350.72 75.80h4.3M350.82 75.63h4.3M350.91 75.69h4.3M351.01 75.46h4.3M351.10 75.68h4.3M351.20 75.45h4.3M351.29 75.48h4.3M351.39 75.46h4.3M351.48 75.17h4.3M351.57 75.38h4.3M351.67 75.31h4.3M351.76 75.02h4.3M351.86 74.77h4.3M351.95 74.91h4.3M352.05 74.83h4.3M352.14 74.56h4.3M352.24 74.70h4.3M352.33 74.41h4.3M352.43 74.32h4.3M352.52 74.17h4.3M352.62 74.31h4.3M352.71 74.29h4.3M352.81 74.20h4.3M352.90 73.99h4.3M353.00 73.93h4.3M353.09 73.78h4.3M353.19 73.77h4.3M353.28 73.74h4.3M353.37 73.67h4.3M353.47 73.54h4.3M353.56 73.63h4.3M353.66 73.41h4.3M353.75 73.55h4.3M353.85 73.30h4.3M353.94 73.39h4.3M354.04 73.23h4.3M354.13 73.20h4.3M354.23 73.36h4.3M354.32 73.06h4.3M354.42 73.29h4.3M354.51 73.20h4.3M354.61 73.13h4.3M354.70 73.04h4.3M354.80 73.07h4.3M354.89 72.83h4.3M354.98 72.86h4.3M355.08 72.66h4.3M355.17 72.62h4.3M355.27 72.74h4.3M355.36 72.79h4.3M355.46 72.90h4.3M355.55 72.81h4.3M355.65 72.47h4.3M355.74 72.79h4.3M355.84 72.56h4.3M355.93 72.54h4.3M356.03 72.42h4.3M356.12 72.38h4.3M356.22 72.51h4.3M356.31 72.53h4.3M356.41 72.65h4.3M356.50 72.57h4.3M356.60 72.38h4.3M356.69 72.54h4.3M356.78 72.63h4.3M356.88 72.41h4.3M356.97 72.44h4.3M357.07 72.43h4.3M357.16 72.73h4.3M357.26 72.41h4.3M357.35 72.62h4.3M357.45 72.53h4.3M357.54 72.70h4.3M357.64 72.63h4.3M357.73 72.54h4.3M357.83 72.82h4.3M357.92 72.71h4.3M358.02 72.53h4.3M358.11 72.64h4.3M358.21 72.64h4.3M358.30 72.73h4.3M358.39 72.70h4.3M358.49 72.92h4.3M358.58 72.93h4.3M358.68 72.88h4.3M358.77 72.85h4.3M358.87 73.03h4.3M358.96 72.96h4.3M359.06 73.14h4.3M359.15 73.21h4.3M359.25 73.18h4.3M359.34 73.30h4.3M359.44 73.07h4.3M359.53 73.32h4.3M359.63 73.16h4.3M359.72 73.37h4.3M359.82 73.30h4.3M359.91 73.18h4.3M360.01 73.20h4.3M360.10 73.45h4.3M360.19 73.32h4.3M360.29 73.21h4.3M360.38 73.39h4.3M360.48 73.23h4.3M360.57 73.21h4.3M360.67 73.29h4.3M360.76 73.51h4.3M360.86 73.28h4.3M360.95 73.55h4.3M361.05 73.21h4.3M361.14 73.33h4.3M361.24 73.19h4.3M361.33 73.45h4.3M361.43 73.41h4.3M361.52 73.46h4.3M361.62 73.45h4.3M361.71 73.47h4.3M361.80 73.25h4.3M361.90 73.20h4.3M361.99 73.27h4.3M362.09 73.20h4.3M362.18 73.05h4.3M362.28 73.11h4.3M362.37 73.06h4.3M362.47 73.22h4.3M362.56 72.86h4.3M362.66 73.09h4.3M362.75 73.04h4.3M362.85 73.08h4.3M362.94 72.90h4.3M363.04 72.92h4.3M363.13 72.64h4.3M363.23 72.90h4.3M363.32 72.53h4.3M363.42 72.71h4.3M363.51 72.47h4.3M363.60 72.47h4.3M363.70 72.61h4.3M363.79 72.45h4.3M363.89 72.53h4.3M363.98 72.30h4.3M364.08 72.21h4.3M364.17 72.27h4.3M364.27 72.30h4.3M364.36 72.38h4.3M364.46 72.37h4.3M364.55 72.14h4.3M364.65 72.33h4.3M364.74 72.15h4.3M364.84 71.96h4.3M364.93 72.06h4.3M365.03 72.11h4.3M365.12 72.12h4.3M365.21 71.84h4.3M365.31 72.16h4.3M365.40 71.97h4.3M365.50 71.74h4.3M365.59 71.84h4.3M365.69 72.04h4.3M365.78 71.73h4.3M365.88 71.83h4.3M365.97 71.97h4.3M366.07 71.75h4.3M366.16 71.99h4.3M366.26 71.95h4.3M366.35 71.82h4.3M366.45 72.05h4.3M366.54 71.77h4.3M366.64 71.83h4.3M366.73 72.07h4.3M366.83 72.02h4.3M366.92 71.88h4.3M367.01 71.97h4.3M367.11 72.17h4.3M367.20 71.92h4.3M367.30 71.90h4.3M367.39 72.10h4.3M367.49 72.01h4.3M367.58 72.22h4.3M367.68 72.07h4.3M367.77 72.08h4.3M367.87 72.28h4.3M367.96 72.45h4.3M368.06 72.31h4.3M368.15 72.51h4.3M368.25 72.55h4.3M368.34 72.48h4.3M368.44 72.45h4.3M368.53 72.40h4.3M368.62 72.31h4.3M368.72 72.53h4.3M368.81 72.42h4.3M368.91 72.61h4.3M369.00 72.59h4.3M369.10 72.67h4.3M369.19 72.71h4.3M369.29 72.74h4.3M369.38 72.92h4.3M369.48 72.81h4.3M369.57 72.66h4.3M369.67 73.00h4.3M369.76 72.98h4.3M369.86 72.86h4.3M369.95 72.92h4.3M370.05 73.00h4.3M370.14 72.96h4.3M370.24 73.11h4.3M370.33 73.27h4.3M370.42 72.92h4.3M370.52 73.29h4.3M370.61 73.35h4.3M370.71 73.32h4.3M370.80 73.18h4.3M370.90 73.29h4.3M370.99 73.23h4.3M371.09 73.21h4.3M371.18 73.15h4.3M371.28 73.18h4.3M371.37 73.31h4.3M371.47 73.25h4.3M371.56 73.23h4.3M371.66 73.41h4.3M371.75 73.29h4.3M371.85 73.52h4.3M371.94 73.22h4.3M372.03 73.29h4.3M372.13 73.37h4.3M372.22 73.29h4.3M372.32 73.53h4.3M372.41 73.39h4.3M372.51 73.22h4.3M372.60 73.26h4.3M372.70 73.45h4.3M372.79 73.28h4.3M372.89 73.27h4.3M372.98 73.21h4.3M373.08 73.12h4.3M373.17 73.39h4.3M373.27 73.20h4.3M373.36 73.14h4.3M373.46 73.06h4.3M373.55 73.20h4.3M373.65 73.26h4.3M373.74 73.32h4.3M373.83 73.28h4.3M373.93 72.88h4.3M374.02 73.04h4.3M374.12 73.00h4.3M374.21 73.00h4.3M374.31 72.91h4.3M374.40 73.08h4.3M374.50 72.91h4.3M374.59 72.81h4.3M374.69 72.98h4.3M374.78 72.76h4.3M374.88 72.52h4.3M374.97 72.73h4.3M375.07 72.83h4.3M375.16 72.67h4.3M375.26 72.45h4.3M375.35 72.67h4.3M375.44 72.31h4.3M375.54 72.59h4.3M375.63 72.27h4.3M375.73 72.52h4.3M375.82 72.22h4.3M375.92 72.17h4.3M376.01 72.18h4.3M376.11 72.25h4.3M376.20 72.29h4.3M376.30 72.19h4.3M376.39 71.98h4.3M376.49 72.30h4.3M376.58 72.23h4.3M376.68 72.02h4.3M376.77 71.86h4.3M376.87 71.99h4.3M376.96 72.19h4.3M377.06 72.16h4.3M377.15 71.83h4.3M377.24 71.83h4.3M377.34 72.13h4.3M377.43 71.86h4.3M377.53 71.99h4.3M377.62 72.08h4.3M377.72 72.03h4.3M377.81 72.02h4.3M377.91 71.95h4.3M378.00 72.02h4.3M378.10 71.80h4.3M378.19 72.07h4.3M378.29 71.79h4.3M378.38 71.76h4.3M378.48 72.02h4.3M378.57 72.11h4.3M378.67 72.02h4.3M378.76 71.98h4.3M378.86 71.77h4.3M378.95 71.95h4.3M379.04 71.81h4.3M379.14 71.97h4.3M379.23 71.92h4.3M379.33 71.82h4.3M379.42 71.99h4.3M379.52 72.09h4.3M379.61 72.07h4.3M379.71 71.85h4.3M379.80 72.18h4.3M379.90 72.18h4.3M379.99 71.96h4.3M380.09 72.22h4.3M380.18 71.91h4.3M380.28 72.00h4.3M380.37 72.19h4.3M380.47 71.89h4.3M380.56 72.03h4.3M380.65 71.88h4.3M380.75 71.97h4.3M380.84 72.04h4.3M380.94 72.24h4.3M381.03 72.16h4.3M381.13 71.96h4.3M381.22 72.24h4.3M381.32 72.24h4.3M381.41 72.06h4.3M381.51 72.02h4.3M381.60 72.25h4.3M381.70 72.33h4.3M381.79 72.05h4.3M381.89 72.10h4.3M381.98 72.11h4.3M382.08 72.37h4.3M382.17 72.01h4.3M382.27 72.00h4.3M382.36 72.06h4.3M382.45 72.18h4.3M382.55 72.38h4.3M382.64 72.01h4.3M382.74 72.32h4.3M382.83 72.21h4.3M382.93 72.36h4.3M383.02 72.38h4.3M383.12 72.28h4.3M383.21 72.09h4.3M383.31 72.35h4.3M383.40 71.98h4.3M383.50 72.37h4.3M383.59 72.13h4.3M383.69 72.06h4.3M383.78 72.30h4.3M383.88 72.13h4.3M383.97 72.08h4.3M384.06 72.03h4.3M384.16 72.07h4.3M384.25 71.98h4.3M384.35 72.08h4.3M384.44 72.03h4.3M384.54 71.95h4.3M384.63 71.83h4.3M384.73 71.87h4.3M384.82 72.11h4.3M384.92 72.06h4.3M385.01 72.13h4.3M385.11 71.80h4.3M385.20 72.10h4.3M385.30 72.06h4.3M385.39 71.83h4.3M385.49 72.06h4.3M385.58 72.05h4.3M385.68 71.98h4.3M385.77 71.85h4.3M385.86 71.96h4.3M385.96 71.65h4.3M386.05 71.63h4.3M386.15 71.62h4.3M386.24 71.82h4.3M386.34 71.92h4.3M386.43 71.60h4.3M386.53 71.56h4.3M386.62 71.84h4.3M386.72 71.83h4.3M386.81 71.52h4.3M386.91 71.47h4.3M387.00 71.56h4.3M387.10 71.55h4.3M387.19 71.43h4.3M387.29 71.48h4.3M387.38 71.75h4.3M387.47 71.44h4.3M387.57 71.59h4.3M387.66 71.69h4.3M387.76 71.69h4.3M387.85 71.52h4.3M387.95 71.45h4.3M388.04 71.57h4.3M388.14 71.54h4.3M388.23 71.58h4.3M388.33 71.52h4.3M388.42 71.59h4.3M388.52 71.79h4.3M388.61 71.40h4.3M388.71 71.49h4.3M388.80 71.74h4.3M388.90 71.60h4.3M388.99 71.71h4.3M389.09 71.43h4.3M389.18 71.80h4.3M389.27 71.40h4.3M389.37 71.71h4.3M389.46 71.50h4.3M389.56 71.68h4.3M389.65 71.72h4.3M389.75 71.69h4.3M389.84 71.78h4.3M389.94 71.49h4.3M390.03 71.75h4.3M390.13 71.67h4.3M390.22 71.51h4.3M390.32 71.54h4.3M390.41 71.52h4.3M390.51 71.87h4.3M390.60 71.67h4.3M390.70 71.72h4.3M390.79 71.67h4.3M390.88 71.98h4.3M390.98 71.93h4.3M391.07 71.83h4.3M391.17 72.12h4.3M391.26 72.07h4.3M391.36 72.22h4.3M391.45 72.24h4.3M391.55 72.19h4.3M391.64 72.22h4.3M391.74 72.49h4.3M391.83 72.27h4.3M391.93 72.30h4.3M392.02 72.66h4.3M392.12 72.65h4.3M392.21 72.81h4.3M392.31 72.75h4.3M392.40 72.96h4.3M392.50 72.80h4.3M392.59 72.71h4.3M392.68 73.01h4.3M392.78 72.90h4.3M392.87 73.01h4.3M392.97 73.06h4.3M393.06 73.10h4.3M393.16 73.23h4.3M393.25 73.32h4.3M393.35 73.17h4.3M393.44 73.56h4.3M393.54 73.41h4.3M393.63 73.63h4.3M393.73 73.54h4.3M393.82 73.52h4.3M393.92 73.67h4.3M394.01 73.70h4.3M394.11 73.80h4.3M394.20 74.02h4.3M394.29 74.09h4.3M394.39 73.97h4.3M394.48 74.24h4.3M394.58 74.28h4.3M394.67 74.17h4.3M394.77 74.41h4.3M394.86 74.27h4.3M394.96 74.58h4.3M395.05 74.50h4.3M395.15 74.70h4.3M395.24 74.90h4.3M395.34 74.88h4.3M395.43 74.89h4.3M395.53 74.96h4.3M395.62 74.89h4.3M395.72 75.05h4.3M395.81 74.94h4.3M395.91 75.18h4.3M396.00 75.43h4.3M396.09 75.30h4.3M396.19 75.45h4.3M396.28 75.57h4.3M396.38 75.49h4.3M396.47 75.37h4.3M396.57 75.77h4.3M396.66 75.63h4.3M396.76 75.65h4.3M396.85 75.56h4.3M396.95 75.88h4.3M397.04 75.98h4.3M397.14 75.91h4.3M397.23 75.82h4.3M397.33 76.08h4.3M397.42 75.93h4.3M397.52 76.04h4.3M397.61 76.05h4.3M397.70 76.21h4.3M397.80 76.31h4.3M397.89 76.32h4.3M397.99 76.21h4.3M398.08 76.29h4.3M398.18 76.33h4.3M398.27 76.49h4.3M398.37 76.72h4.3M398.46 76.64h4.3M398.56 76.76h4.3M398.65 76.49h4.3M398.75 76.51h4.3M398.84 76.76h4.3M398.94 76.67h4.3M399.03 76.75h4.3M399.13 76.95h4.3M399.22 76.73h4.3M399.32 77.08h4.3M399.41 76.92h4.3M399.50 77.03h4.3M399.60 76.84h4.3M399.69 76.88h4.3M399.79 77.16h4.3M399.88 76.93h4.3M399.98 77.20h4.3M400.07 77.10h4.3M400.17 77.12h4.3M400.26 77.41h4.3M400.36 77.41h4.3M400.45 77.21h4.3M400.55 77.27h4.3M400.64 77.26h4.3M400.74 77.21h4.3M400.83 77.57h4.3M400.93 77.48h4.3M401.02 77.53h4.3M401.11 77.44h4.3M401.21 77.38h4.3M401.30 77.57h4.3M401.40 77.44h4.3M401.49 77.73h4.3M401.59 77.77h4.3M401.68 77.81h4.3M401.78 77.53h4.3M401.87 77.59h4.3M401.97 77.84h4.3M402.06 77.71h4.3M402.16 77.77h4.3M402.25 77.86h4.3M402.35 77.68h4.3M402.44 77.81h4.3M402.54 77.68h4.3M402.63 77.68h4.3M402.73 78.08h4.3M402.82 78.00h4.3M402.91 77.98h4.3M403.01 77.84h4.3M403.10 77.89h4.3M403.20 78.16h4.3M403.29 78.21h4.3M403.39 78.09h4.3M403.48 78.22h4.3M403.58 78.04h4.3M403.67 78.24h4.3M403.77 78.22h4.3M403.86 78.04h4.3M403.96 78.35h4.3M404.05 78.01h4.3M404.15 78.14h4.3M404.24 78.27h4.3M404.34 78.48h4.3M404.43 78.29h4.3M404.52 78.23h4.3M404.62 78.53h4.3M404.71 78.57h4.3M404.81 78.42h4.3M404.90 78.73h4.3M405.00 78.71h4.3M405.09 78.83h4.3M405.19 79.16h4.3M405.28 79.25h4.3M405.38 79.44h4.3M405.47 79.48h4.3M405.57 79.51h4.3M405.66 79.66h4.3M405.76 79.74h4.3M405.85 79.88h4.3M405.95 80.24h4.3M406.04 80.28h4.3M406.14 80.64h4.3M406.23 80.68h4.3M406.32 80.99h4.3M406.42 81.35h4.3M406.51 81.38h4.3M406.61 81.79h4.3M406.70 81.79h4.3M406.80 82.00h4.3M406.89 82.52h4.3M406.99 82.72h4.3M407.08 83.13h4.3M407.18 83.41h4.3M407.27 83.69h4.3M407.37 83.99h4.3M407.46 84.26h4.3M407.56 84.89h4.3M407.65 84.88h4.3M407.75 85.29h4.3M407.84 85.76h4.3M407.93 86.01h4.3M408.03 86.37h4.3M408.12 86.51h4.3M408.22 86.66h4.3M408.31 87.19h4.3M408.41 87.18h4.3M408.50 87.84h4.3M408.60 87.98h4.3M408.69 88.42h4.3M408.79 88.87h4.3M408.88 89.11h4.3M408.98 89.65h4.3M409.07 90.13h4.3M409.17 90.51h4.3M409.26 91.23h4.3M409.36 91.56h4.3M409.45 92.15h4.3M409.55 93.00h4.3M409.64 93.70h4.3M409.73 94.18h4.3M409.83 94.67h4.3M409.92 95.48h4.3M410.02 96.06h4.3M410.11 96.68h4.3M410.21 97.41h4.3M410.30 98.30h4.3M410.40 98.92h4.3M410.49 99.80h4.3M410.59 100.29h4.3M410.68 101.15h4.3M410.78 101.72h4.3M410.87 102.42h4.3M410.97 103.03h4.3M411.06 103.92h4.3M411.16 104.37h4.3M411.25 105.16h4.3M411.34 105.80h4.3M411.44 106.37h4.3M411.53 107.04h4.3M411.63 107.66h4.3M411.72 108.04h4.3M411.82 108.92h4.3M411.91 109.42h4.3M412.01 110.14h4.3M412.10 110.45h4.3M412.20 111.01h4.3M412.29 111.83h4.3M412.39 112.27h4.3M412.48 113.11h4.3M412.58 113.40h4.3M412.67 114.02h4.3M412.86 114.53h4.1M413.07 115.16h3.9M413.28 115.55h3.6M413.49 116.38h3.4M414.35 116.11h3.3M414.33 115.83h3.5M414.31 115.31h3.8M414.29 114.49h4.0M414.27 114.13h4.2M414.32 113.60h4.3M414.42 112.69h4.3M414.51 112.49h4.3M414.61 111.67h4.3M414.70 111.07h4.3M414.80 110.67h4.3M414.89 109.83h4.3M414.99 109.18h4.3M415.08 108.95h4.3M415.18 107.97h4.3M415.27 107.61h4.3M415.37 106.97h4.3M415.46 106.29h4.3M415.56 105.83h4.3M415.65 105.20h4.3M415.74 104.26h4.3M415.84 103.87h4.3M415.93 103.32h4.3M416.03 102.48h4.3M416.12 101.70h4.3M416.22 101.20h4.3M416.31 100.29h4.3M416.41 99.74h4.3M416.50 99.09h4.3M416.60 98.27h4.3M416.69 97.72h4.3M416.79 97.12h4.3M416.88 96.29h4.3M416.98 95.64h4.3M417.07 94.84h4.3M417.17 94.12h4.3M417.26 93.67h4.3M417.36 92.95h4.3M417.45 92.48h4.3M417.54 91.65h4.3M417.64 91.18h4.3M417.73 90.63h4.3M417.83 90.18h4.3M417.92 89.36h4.3M418.02 89.20h4.3M418.11 88.41h4.3M418.21 88.23h4.3M418.30 87.71h4.3M418.40 87.28h4.3M418.49 86.85h4.3M418.59 86.10h4.3M418.68 85.82h4.3M418.78 85.57h4.3M418.87 85.15h4.3M418.97 85.02h4.3M419.06 84.86h4.3M419.16 84.35h4.3M419.25 84.16h4.3M419.34 84.15h4.3M419.44 83.70h4.3M419.53 83.38h4.3M419.63 83.43h4.3M419.72 83.04h4.3M419.82 82.96h4.3M419.91 82.58h4.3M420.01 82.61h4.3M420.10 82.55h4.3M420.20 82.27h4.3M420.29 82.12h4.3M420.39 82.18h4.3M420.48 82.01h4.3M420.58 81.93h4.3M420.67 81.78h4.3M420.77 81.97h4.3M420.86 82.03h4.3M420.96 81.70h4.3M421.05 81.83h4.3M421.14 81.97h4.3M421.24 81.77h4.3M421.33 82.06h4.3M421.43 81.77h4.3M421.52 81.82h4.3M421.62 81.92h4.3M421.71 81.80h4.3M421.81 82.11h4.3M421.90 81.96h4.3M422.00 81.92h4.3M422.09 82.02h4.3M422.19 82.09h4.3M422.28 82.02h4.3M422.38 82.07h4.3M422.47 82.10h4.3M422.57 82.01h4.3M422.66 81.96h4.3M422.76 81.91h4.3M422.85 82.14h4.3M422.94 82.04h4.3M423.04 82.29h4.3M423.13 82.03h4.3M423.23 82.25h4.3M423.32 82.13h4.3M423.42 82.03h4.3M423.51 82.14h4.3M423.61 82.25h4.3M423.70 82.29h4.3M423.80 82.19h4.3M423.89 82.17h4.3M423.99 82.17h4.3M424.08 82.38h4.3M424.18 82.46h4.3M424.27 82.59h4.3M424.37 82.48h4.3M424.46 82.46h4.3M424.56 82.70h4.3M424.65 82.69h4.3M424.74 82.78h4.3M424.84 82.57h4.3M424.93 82.93h4.3M425.03 82.82h4.3M425.12 82.98h4.3M425.22 82.80h4.3M425.31 82.83h4.3M425.41 82.89h4.3M425.50 82.96h4.3M425.60 83.02h4.3M425.69 83.37h4.3M425.79 83.29h4.3M425.88 83.14h4.3M425.98 83.55h4.3M426.07 83.36h4.3M426.17 83.50h4.3M426.26 83.52h4.3M426.36 83.43h4.3M426.45 83.65h4.3M426.54 83.74h4.3M426.64 83.54h4.3M426.73 83.55h4.3M426.83 83.61h4.3M426.92 83.80h4.3M427.02 83.70h4.3M427.11 83.56h4.3M427.21 83.56h4.3M427.30 83.85h4.3M427.40 83.68h4.3M427.49 83.96h4.3M427.59 83.92h4.3M427.68 83.81h4.3M427.78 83.79h4.3M427.87 84.07h4.3M427.97 83.91h4.3M428.06 84.28h4.3M428.16 84.14h4.3M428.25 84.12h4.3M428.34 84.37h4.3M428.44 84.36h4.3M428.53 84.45h4.3M428.63 84.60h4.3M428.72 84.57h4.3M428.82 84.52h4.3M428.91 84.69h4.3M429.01 85.16h4.3M429.10 85.16h4.3M429.20 85.07h4.3M429.29 85.28h4.3M429.39 85.42h4.3M429.48 85.65h4.3M429.58 85.98h4.3M429.67 86.26h4.3M429.77 86.29h4.3M429.86 86.43h4.3M429.96 86.78h4.3M430.05 86.63h4.3M430.14 87.11h4.3M430.24 87.17h4.3M430.33 87.16h4.3M430.43 87.53h4.3M430.52 87.44h4.3M430.62 87.74h4.3M430.71 87.82h4.3M430.81 87.79h4.3M430.90 88.23h4.3M431.00 88.05h4.3M431.09 88.22h4.3M431.19 88.44h4.3M431.28 88.40h4.3M431.38 88.43h4.3M431.47 88.62h4.3M431.57 88.75h4.3M431.66 89.03h4.3M431.76 89.03h4.3M431.85 89.28h4.3M431.94 89.06h4.3M432.04 89.44h4.3M432.13 89.60h4.3M432.23 89.69h4.3M432.32 89.51h4.3M432.42 89.52h4.3M432.51 89.88h4.3M432.61 89.83h4.3M432.70 90.00h4.3M432.80 89.86h4.3M432.89 90.29h4.3M432.99 90.14h4.3M433.08 90.44h4.3M433.18 90.13h4.3M433.27 90.32h4.3M433.37 90.45h4.3M433.46 90.48h4.3M433.56 90.47h4.3M433.65 90.84h4.3M433.74 90.72h4.3M433.84 90.92h4.3M433.93 90.80h4.3M434.03 90.95h4.3M434.12 90.93h4.3M434.22 90.77h4.3M434.31 91.03h4.3M434.41 91.09h4.3M434.50 91.11h4.3M434.60 91.06h4.3M434.69 90.91h4.3M434.79 91.26h4.3M434.88 91.34h4.3M434.98 91.01h4.3M435.07 91.03h4.3M435.17 91.21h4.3M435.26 91.36h4.3M435.36 91.27h4.3M435.45 91.44h4.3M435.54 91.49h4.3M435.64 91.40h4.3M435.73 91.43h4.3M435.83 91.47h4.3M435.92 91.38h4.3M436.02 91.33h4.3M436.11 91.64h4.3M436.21 91.40h4.3M436.30 91.65h4.3M436.40 91.55h4.3M436.49 91.66h4.3M436.59 91.70h4.3M436.68 91.76h4.3M436.78 91.76h4.3M436.87 91.58h4.3M436.97 91.81h4.3M437.06 91.84h4.3M437.16 91.78h4.3M437.25 91.62h4.3M437.34 91.96h4.3M437.44 91.92h4.3M437.53 91.78h4.3M437.63 91.77h4.3M437.72 92.01h4.3M437.82 91.97h4.3M437.91 91.89h4.3M438.01 92.14h4.3M438.10 92.20h4.3M438.20 92.11h4.3M438.29 92.21h4.3M438.39 92.15h4.3M438.48 92.08h4.3M438.58 92.31h4.3M438.67 92.32h4.3M438.77 92.43h4.3M438.86 92.27h4.3M438.96 92.55h4.3M439.05 92.50h4.3M439.14 92.57h4.3M439.24 92.66h4.3M439.33 92.56h4.3M439.43 92.77h4.3M439.52 92.84h4.3M439.62 92.93h4.3M439.71 92.84h4.3M439.81 92.68h4.3M439.90 92.81h4.3M440.00 92.85h4.3M440.09 92.88h4.3M440.19 93.04h4.3M440.28 93.18h4.3M440.38 93.40h4.3M440.47 93.10h4.3M440.57 93.51h4.3M440.66 93.41h4.3M440.76 93.57h4.3M440.85 93.64h4.3M440.94 93.52h4.3M441.04 93.72h4.3M441.13 93.80h4.3M441.23 93.69h4.3M441.32 93.99h4.3M441.42 94.03h4.3M441.51 93.75h4.3M441.61 94.15h4.3M441.70 94.02h4.3M441.80 94.32h4.3M441.89 94.03h4.3M441.99 94.41h4.3M442.08 94.35h4.3M442.18 94.33h4.3M442.27 94.49h4.3M442.37 94.71h4.3M442.46 94.62h4.3M442.56 94.71h4.3M442.65 94.95h4.3M442.74 95.01h4.3M442.84 94.84h4.3M442.93 95.04h4.3M443.03 95.07h4.3M443.12 95.06h4.3M443.22 95.14h4.3M443.31 95.17h4.3M443.41 95.27h4.3M443.50 95.44h4.3M443.60 95.44h4.3M443.69 95.69h4.3M443.79 95.51h4.3M443.88 95.63h4.3M443.98 95.97h4.3M444.07 95.87h4.3M444.17 95.77h4.3M444.26 96.08h4.3M444.36 95.80h4.3M444.45 95.96h4.3M444.54 95.93h4.3M444.64 96.08h4.3M444.73 96.14h4.3M444.83 96.35h4.3M444.92 96.22h4.3M445.02 96.42h4.3M445.11 96.47h4.3M445.21 96.14h4.3M445.30 96.20h4.3M445.40 96.52h4.3M445.49 96.34h4.3M445.59 96.44h4.3M445.68 96.55h4.3M445.78 96.49h4.3M445.87 96.69h4.3M445.97 96.39h4.3M446.06 96.51h4.3M446.16 96.45h4.3M446.25 96.55h4.3M446.34 96.86h4.3M446.44 96.50h4.3M446.53 96.72h4.3M446.63 96.60h4.3M446.72 96.82h4.3M446.82 96.60h4.3M446.91 96.84h4.3M447.01 96.76h4.3M447.10 96.94h4.3M447.20 96.58h4.3M447.29 96.75h4.3M447.39 96.88h4.3M447.48 96.71h4.3M447.58 96.64h4.3M447.67 96.81h4.3M447.77 96.74h4.3M447.86 96.68h4.3M447.96 96.49h4.3M448.05 96.41h4.3M448.14 96.34h4.3M448.24 96.57h4.3M448.33 96.16h4.3M448.43 96.12h4.3M448.52 96.27h4.3M448.62 96.31h4.3M448.71 96.29h4.3M448.81 96.09h4.3M448.90 96.13h4.3M449.00 95.88h4.3M449.09 95.89h4.3M449.19 95.94h4.3M449.28 95.65h4.3M449.38 95.82h4.3M449.47 95.66h4.3M449.57 95.47h4.3M449.66 95.56h4.3M449.76 95.68h4.3M449.85 95.68h4.3M449.94 95.61h4.3M450.04 95.61h4.3M450.13 95.45h4.3M450.23 95.42h4.3M450.32 95.46h4.3M450.42 95.48h4.3M450.51 95.43h4.3M450.61 95.66h4.3M450.70 95.59h4.3M450.80 95.37h4.3M450.89 95.37h4.3M450.99 95.51h4.3M451.08 95.58h4.3M451.18 95.60h4.3M451.27 95.50h4.3M451.37 95.57h4.3M451.46 95.59h4.3M451.56 95.47h4.3M451.65 95.68h4.3M451.74 95.50h4.3M451.84 95.43h4.3M451.93 95.44h4.3M452.03 95.65h4.3M452.12 95.59h4.3M452.22 95.75h4.3M452.31 95.77h4.3M452.41 95.52h4.3M452.50 95.75h4.3M452.60 95.72h4.3M452.69 95.68h4.3M452.79 95.87h4.3M452.88 95.55h4.3M452.98 95.66h4.3M453.07 95.66h4.3M453.17 95.62h4.3M453.26 95.77h4.3M453.36 95.87h4.3M453.45 95.73h4.3M453.54 95.59h4.3M453.64 95.67h4.3M453.73 95.86h4.3M453.83 95.77h4.3M453.92 95.62h4.3M454.02 95.71h4.3M454.11 95.83h4.3M454.21 95.77h4.3M454.30 95.74h4.3M454.40 95.82h4.3M454.49 95.73h4.3M454.59 96.07h4.3M454.68 95.86h4.3M454.78 95.94h4.3M454.87 95.99h4.3M454.97 95.98h4.3M455.06 96.19h4.3M455.16 95.91h4.3M455.25 96.07h4.3M455.34 95.96h4.3M455.44 95.95h4.3M455.53 96.23h4.3M455.63 96.11h4.3M455.72 96.29h4.3M455.82 96.21h4.3M455.91 96.06h4.3M456.01 96.09h4.3M456.10 96.09h4.3M456.20 96.33h4.3M456.29 96.28h4.3M456.39 96.25h4.3M456.48 96.27h4.3M456.58 96.34h4.3M456.67 96.52h4.3M456.77 96.54h4.3M456.86 96.52h4.3M456.96 96.50h4.3M457.05 96.25h4.3M457.14 96.35h4.3M457.24 96.53h4.3M457.33 96.27h4.3M457.43 96.47h4.3M457.52 96.21h4.3M457.62 96.48h4.3M457.71 96.24h4.3M457.81 96.22h4.3M457.90 96.48h4.3M458.00 96.12h4.3M458.09 96.41h4.3M458.19 96.14h4.3M458.28 96.11h4.3M458.38 96.02h4.3M458.47 95.95h4.3M458.57 96.05h4.3M458.66 96.04h4.3M458.76 95.95h4.3M458.85 95.79h4.3M458.94 96.11h4.3M459.04 96.05h4.3M459.13 95.93h4.3M459.23 95.69h4.3M459.32 95.65h4.3M459.42 95.75h4.3M459.51 95.58h4.3M459.61 95.59h4.3M459.70 95.52h4.3M459.80 95.70h4.3M459.89 95.62h4.3M459.99 95.40h4.3M460.08 95.65h4.3M460.18 95.48h4.3M460.27 95.52h4.3M460.37 95.43h4.3M460.46 95.31h4.3M460.56 95.28h4.3M460.65 95.23h4.3M460.74 95.06h4.3M460.84 95.38h4.3M460.93 95.11h4.3M461.03 94.97h4.3M461.12 94.96h4.3M461.22 95.04h4.3M461.31 95.14h4.3M461.41 95.03h4.3M461.50 94.93h4.3M461.60 95.13h4.3M461.69 94.76h4.3M461.79 94.81h4.3M461.88 95.03h4.3M461.98 94.83h4.3M462.07 94.80h4.3M462.17 94.62h4.3M462.26 94.80h4.3M462.36 94.82h4.3M462.45 94.84h4.3M462.54 94.52h4.3M462.64 94.68h4.3M462.73 94.76h4.3M462.83 94.76h4.3M462.92 94.42h4.3M463.02 94.42h4.3M463.11 94.71h4.3M463.21 94.48h4.3M463.30 94.48h4.3M463.40 94.59h4.3M463.49 94.36h4.3M463.59 94.32h4.3M463.68 94.47h4.3M463.78 94.48h4.3M463.87 94.59h4.3M463.97 94.25h4.3M464.06 94.45h4.3M464.16 94.23h4.3M464.25 94.40h4.3M464.34 94.41h4.3M464.44 94.31h4.3M464.53 94.29h4.3M464.63 94.28h4.3M464.72 94.43h4.3M464.82 94.43h4.3M464.91 94.26h4.3M465.01 94.37h4.3M465.10 94.23h4.3M465.20 94.22h4.3M465.29 94.29h4.3M465.39 94.27h4.3M465.48 94.20h4.3M465.58 94.20h4.3M465.67 94.34h4.3M465.77 94.12h4.3M465.86 94.23h4.3M465.96 94.02h4.3M466.05 94.35h4.3M466.14 93.96h4.3M466.24 94.25h4.3M466.33 93.99h4.3M466.43 94.18h4.3M466.52 93.91h4.3M466.62 94.03h4.3M466.71 93.91h4.3M466.81 94.05h4.3M466.90 94.12h4.3M467.00 93.87h4.3M467.09 94.08h4.3M467.19 94.01h4.3M467.28 94.19h4.3M467.38 93.99h4.3M467.47 93.84h4.3M467.57 93.92h4.3M467.66 94.16h4.3M467.76 94.00h4.3M467.85 93.95h4.3M467.94 93.91h4.3M468.04 93.90h4.3M468.13 93.83h4.3M468.23 93.99h4.3M468.32 93.82h4.3M468.42 93.81h4.3M468.51 93.80h4.3M468.61 93.83h4.3M468.70 94.09h4.3M468.80 93.80h4.3M468.89 93.73h4.3M468.99 94.09h4.3M469.08 93.90h4.3M469.18 94.08h4.3M469.27 94.00h4.3M469.37 93.87h4.3M469.46 93.85h4.3M469.56 93.67h4.3M469.65 93.83h4.3M469.74 93.75h4.3M469.84 93.80h4.3M469.93 93.99h4.3M470.03 93.89h4.3M470.12 94.01h4.3M470.22 93.94h4.3M470.31 93.97h4.3M470.41 93.66h4.3M470.50 93.82h4.3M470.60 93.94h4.3M470.69 93.92h4.3M470.79 93.93h4.3M470.88 93.77h4.3M470.98 93.64h4.3M471.07 93.80h4.3M471.17 93.81h4.3M471.26 93.88h4.3M471.36 93.72h4.3M471.45 93.93h4.3M471.54 93.92h4.3M471.64 93.86h4.3M471.73 93.86h4.3M471.83 93.95h4.3M471.92 93.59h4.3M472.02 93.68h4.3M472.11 93.72h4.3M472.21 93.70h4.3M472.30 93.80h4.3M472.40 93.70h4.3M472.49 93.67h4.3M472.59 93.53h4.3M472.68 93.53h4.3M472.78 93.70h4.3M472.87 93.63h4.3M472.97 93.58h4.3M473.06 93.49h4.3M473.16 93.51h4.3M473.25 93.54h4.3M473.34 93.65h4.3M473.44 93.55h4.3M473.53 93.63h4.3M473.63 93.74h4.3M473.72 93.46h4.3M473.82 93.68h4.3M473.91 93.72h4.3M474.01 93.77h4.3M474.10 93.80h4.3M474.20 93.46h4.3M474.29 93.39h4.3M474.39 93.62h4.3M474.48 93.56h4.3M474.58 93.69h4.3M474.67 93.54h4.3M474.77 93.61h4.3M474.86 93.26h4.3M474.96 93.42h4.3M475.05 93.28h4.3M475.14 93.25h4.3M475.24 93.17h4.3M475.33 93.49h4.3M475.43 93.24h4.3M475.52 93.38h4.3M475.62 93.34h4.3M475.71 93.32h4.3M475.81 93.09h4.3M475.90 93.25h4.3M476.00 93.10h4.3M476.09 93.26h4.3M476.19 93.13h4.3M476.28 93.20h4.3M476.38 93.20h4.3M476.47 92.94h4.3M476.57 92.92h4.3M476.66 92.76h4.3M476.76 93.07h4.3M476.85 92.97h4.3M476.94 92.78h4.3M477.04 92.96h4.3M477.13 93.08h4.3M477.23 93.07h4.3M477.32 93.10h4.3M477.42 92.85h4.3M477.51 92.84h4.3M477.61 92.77h4.3M477.70 92.87h4.3M477.80 92.97h4.3M477.89 93.18h4.3M477.99 93.00h4.3M478.08 93.44h4.3M478.18 93.41h4.3M478.27 93.59h4.3M478.37 93.46h4.3M478.46 93.66h4.3M478.56 93.93h4.3M478.65 93.73h4.3M478.74 93.84h4.3M478.84 94.00h4.3M478.93 94.16h4.3M479.03 94.29h4.3M479.12 94.38h4.3M479.22 94.58h4.3M479.31 94.84h4.3M479.41 94.96h4.3M479.50 95.18h4.3M479.60 95.43h4.3M479.69 95.80h4.3M479.79 96.09h4.3M479.88 96.62h4.3M479.98 97.02h4.3M480.07 97.44h4.3M480.17 97.75h4.3M480.26 98.11h4.3M480.36 98.67h4.3M480.45 99.15h4.3M480.54 99.62h4.3M480.64 100.23h4.3M480.73 100.55h4.3M480.83 101.08h4.3M480.92 101.20h4.3M481.02 101.83h4.3M481.11 102.12h4.3M481.21 102.46h4.3M481.30 102.91h4.3M481.40 103.51h4.3M481.49 103.90h4.3M481.59 104.43h4.3M481.68 104.80h4.3M481.78 105.29h4.3M481.87 105.87h4.3M481.97 106.58h4.3M482.06 107.01h4.3M482.16 107.67h4.3M482.25 108.32h4.3M482.34 108.74h4.3M482.44 109.38h4.3M482.53 109.83h4.3M482.63 110.49h4.3M482.72 111.24h4.3M482.82 111.84h4.3M482.91 112.14h4.3M483.01 112.71h4.3M483.10 113.34h4.3M483.20 113.85h4.3M483.29 114.42h4.3M483.39 115.01h4.3M483.48 115.26h4.3M483.58 115.69h4.3M483.67 116.18h4.3M483.77 116.77h4.3M483.86 117.30h4.3M483.96 117.73h4.3M484.05 118.55h4.3M484.14 118.91h4.3M484.24 119.44h4.3M484.33 120.03h4.3M484.43 120.86h4.3M484.52 121.35h4.3M484.62 122.03h4.3M484.71 122.36h4.3M484.81 123.00h4.3M484.90 123.72h4.3M485.00 124.38h4.3M485.09 124.90h4.3M485.19 125.57h4.3M485.28 126.19h4.3M485.46 126.86h4.1M485.67 127.57h3.9M485.87 128.29h3.7M486.08 129.01h3.5M486.29 129.83h3.2M486.50 130.70h3.0M486.96 130.53h3.5M486.94 129.86h3.7M486.92 129.19h3.9M486.90 128.45h4.2M486.93 128.04h4.3M487.02 127.34h4.3M487.12 126.79h4.3M487.21 126.07h4.3M487.31 125.37h4.3M487.40 124.80h4.3M487.50 124.11h4.3M487.59 123.54h4.3M487.69 123.20h4.3M487.78 122.28h4.3M487.88 121.83h4.3M487.97 121.35h4.3M488.07 120.53h4.3M488.16 119.89h4.3M488.26 119.20h4.3M488.35 118.60h4.3M488.44 118.31h4.3M488.54 117.50h4.3M488.63 116.81h4.3M488.73 116.07h4.3M488.82 115.69h4.3M488.92 114.83h4.3M489.01 114.34h4.3M489.11 113.82h4.3M489.20 113.23h4.3M489.30 112.66h4.3M489.39 111.84h4.3M489.49 111.25h4.3M489.58 110.71h4.3M489.68 110.29h4.3M489.77 109.84h4.3M489.87 109.35h4.3M489.96 108.92h4.3M490.06 108.66h4.3M490.15 108.30h4.3M490.24 107.83h4.3M490.34 107.75h4.3M490.43 107.10h4.3M490.53 106.86h4.3M490.62 106.47h4.3M490.72 106.05h4.3M490.81 105.68h4.3M490.91 105.15h4.3M491.00 104.67h4.3M491.10 104.22h4.3M491.19 103.47h4.3M491.29 103.35h4.3M491.38 102.75h4.3M491.48 102.47h4.3M491.57 101.95h4.3M491.67 101.83h4.3M491.76 101.73h4.3M491.85 101.34h4.3M491.95 101.23h4.3M492.04 101.15h4.3M492.14 100.82h4.3M492.23 100.64h4.3M492.33 100.54h4.3M492.42 100.46h4.3M492.52 100.04h4.3M492.61 100.18h4.3M492.71 99.95h4.3M492.80 99.69h4.3M492.90 99.49h4.3M492.99 99.42h4.3M493.09 99.39h4.3M493.18 99.43h4.3M493.28 99.25h4.3M493.37 99.06h4.3M493.47 99.03h4.3M493.56 99.34h4.3M493.65 98.96h4.3M493.75 99.26h4.3M493.84 99.23h4.3M493.94 99.08h4.3M494.03 99.07h4.3M494.13 99.12h4.3M494.22 99.08h4.3M494.32 99.01h4.3M494.41 99.00h4.3M494.51 99.04h4.3M494.60 98.75h4.3M494.70 98.79h4.3M494.79 98.91h4.3M494.89 98.86h4.3M494.98 98.73h4.3M495.08 98.95h4.3M495.17 98.55h4.3M495.27 98.59h4.3M495.36 98.56h4.3M495.45 98.62h4.3M495.55 98.85h4.3M495.64 98.86h4.3M495.74 98.76h4.3M495.83 98.61h4.3M495.93 98.80h4.3M496.02 98.55h4.3M496.12 98.63h4.3M496.21 98.70h4.3M496.31 98.55h4.3M496.40 98.69h4.3M496.50 98.77h4.3M496.59 98.54h4.3M496.69 98.71h4.3M496.78 98.43h4.3M496.88 98.76h4.3M496.97 98.59h4.3M497.07 98.54h4.3M497.16 98.78h4.3M497.25 98.44h4.3M497.35 98.61h4.3M497.44 98.78h4.3M497.54 98.55h4.3M497.63 98.51h4.3M497.73 98.58h4.3M497.82 98.67h4.3M497.92 98.51h4.3M498.01 98.78h4.3M498.11 98.78h4.3M498.20 98.74h4.3M498.30 98.65h4.3M498.39 98.62h4.3M498.49 98.56h4.3M498.58 98.63h4.3M498.68 98.70h4.3M498.77 98.67h4.3M498.86 98.77h4.3M498.96 98.59h4.3M499.05 98.94h4.3M499.15 98.96h4.3M499.24 99.00h4.3M499.34 98.76h4.3M499.43 98.86h4.3M499.53 98.88h4.3M499.62 99.06h4.3M499.72 99.26h4.3M499.81 99.05h4.3M499.91 99.28h4.3M500.00 99.01h4.3M500.10 99.30h4.3M500.19 99.23h4.3M500.29 99.26h4.3M500.38 99.42h4.3M500.48 99.54h4.3M500.57 99.61h4.3M500.66 99.44h4.3M500.76 99.52h4.3M500.85 99.54h4.3M500.95 99.42h4.3M501.04 99.66h4.3M501.14 99.78h4.3M501.23 99.90h4.3M501.33 99.67h4.3M501.42 99.86h4.3M501.52 100.01h4.3M501.61 99.83h4.3M501.71 99.92h4.3M501.80 100.04h4.3M501.90 100.21h4.3M501.99 100.34h4.3M502.09 100.18h4.3M502.18 100.38h4.3M502.28 100.59h4.3M502.37 100.66h4.3M502.46 100.68h4.3M502.56 100.59h4.3M502.65 100.77h4.3M502.75 100.76h4.3M502.84 100.85h4.3M502.94 100.86h4.3M503.03 101.18h4.3M503.13 101.16h4.3M503.22 101.14h4.3M503.32 101.01h4.3M503.41 101.19h4.3M503.51 101.48h4.3M503.60 101.24h4.3M503.70 101.62h4.3M503.79 101.50h4.3M503.89 101.42h4.3M503.98 101.63h4.3M504.08 101.82h4.3M504.17 101.57h4.3M504.26 101.80h4.3M504.36 101.92h4.3M504.45 101.86h4.3M504.55 101.85h4.3M504.64 102.01h4.3M504.74 102.02h4.3M504.83 101.87h4.3M504.93 102.21h4.3M505.02 102.21h4.3M505.12 102.10h4.3M505.21 102.26h4.3M505.31 102.15h4.3M505.40 101.91h4.3M505.50 102.27h4.3M505.59 102.16h4.3M505.69 101.94h4.3M505.78 101.88h4.3M505.87 102.16h4.3M505.97 102.00h4.3M506.06 101.88h4.3M506.16 102.08h4.3M506.25 102.01h4.3M506.35 102.10h4.3M506.44 101.99h4.3M506.54 101.90h4.3M506.63 101.83h4.3M506.73 102.06h4.3M506.82 102.02h4.3M506.92 101.64h4.3M507.01 101.98h4.3M507.11 101.85h4.3M507.20 101.62h4.3M507.30 101.80h4.3M507.39 101.71h4.3M507.49 101.67h4.3M507.58 101.74h4.3M507.67 101.48h4.3M507.77 101.65h4.3M507.86 101.52h4.3M507.96 101.41h4.3M508.05 101.62h4.3M508.15 101.23h4.3M508.24 101.41h4.3M508.34 101.48h4.3M508.43 101.14h4.3M508.53 101.43h4.3M508.62 101.27h4.3M508.72 101.26h4.3M508.81 101.14h4.3M508.91 101.30h4.3M509.00 101.03h4.3M509.10 101.15h4.3M509.19 101.09h4.3M509.29 101.15h4.3M509.38 101.00h4.3M509.47 101.13h4.3M509.57 100.91h4.3M509.66 101.15h4.3M509.76 101.14h4.3M509.85 100.96h4.3M509.95 101.03h4.3M510.04 101.09h4.3M510.14 101.26h4.3M510.23 101.33h4.3M510.33 101.18h4.3M510.42 101.28h4.3M510.52 101.13h4.3M510.61 101.36h4.3M510.71 101.40h4.3M510.80 101.45h4.3M510.90 101.32h4.3M510.99 101.13h4.3M511.09 101.22h4.3M511.18 101.25h4.3M511.27 101.44h4.3M511.37 101.36h4.3M511.46 101.43h4.3M511.56 101.60h4.3M511.65 101.37h4.3M511.75 101.38h4.3M511.84 101.50h4.3M511.94 101.70h4.3M512.03 101.58h4.3M512.13 101.89h4.3M512.22 101.77h4.3M512.32 101.82h4.3M512.41 101.84h4.3M512.51 101.71h4.3M512.60 101.98h4.3M512.70 102.00h4.3M512.79 102.09h4.3M512.88 101.98h4.3M512.98 102.24h4.3M513.07 102.09h4.3M513.17 102.27h4.3M513.26 102.00h4.3M513.36 102.27h4.3M513.45 102.45h4.3M513.55 102.18h4.3M513.64 102.15h4.3M513.74 102.19h4.3M513.83 102.36h4.3M513.93 102.57h4.3M514.02 102.36h4.3M514.12 102.56h4.3M514.21 102.65h4.3M514.31 102.45h4.3M514.40 102.73h4.3M514.50 102.63h4.3M514.59 102.59h4.3M514.68 102.59h4.3M514.78 102.52h4.3M514.87 102.80h4.3M514.97 102.81h4.3M515.06 102.57h4.3M515.16 102.52h4.3M515.25 102.56h4.3M515.35 102.66h4.3M515.44 102.64h4.3M515.54 102.86h4.3M515.63 102.78h4.3M515.73 102.52h4.3M515.82 102.79h4.3M515.92 102.78h4.3M516.01 102.75h4.3M516.11 102.53h4.3M516.20 102.54h4.3M516.30 102.60h4.3M516.39 102.26h4.3M516.48 102.54h4.3M516.58 102.20h4.3M516.67 102.17h4.3M516.77 102.06h4.3M516.86 102.19h4.3M516.96 102.14h4.3M517.05 101.87h4.3M517.15 101.80h4.3M517.24 102.05h4.3M517.34 101.91h4.3M517.43 101.63h4.3M517.53 101.78h4.3M517.62 101.67h4.3M517.72 101.50h4.3M517.81 101.64h4.3M517.91 101.50h4.3M518.00 101.26h4.3M518.10 101.45h4.3M518.19 101.18h4.3M518.28 101.30h4.3M518.38 101.13h4.3M518.47 101.05h4.3M518.57 100.92h4.3M518.66 101.00h4.3M518.76 100.96h4.3M518.85 100.82h4.3M518.95 100.74h4.3M519.04 100.81h4.3M519.14 100.71h4.3M519.23 100.71h4.3M519.33 100.74h4.3M519.42 100.75h4.3M519.52 100.53h4.3M519.61 100.51h4.3M519.71 100.26h4.3M519.80 100.24h4.3M519.89 100.27h4.3M519.99 100.28h4.3M520.08 100.09h4.3M520.18 100.17h4.3M520.27 100.20h4.3M520.37 100.14h4.3M520.46 100.15h4.3M520.56 100.01h4.3M520.65 100.02h4.3M520.75 99.94h4.3M520.84 99.69h4.3M520.94 99.86h4.3M521.03 99.84h4.3M521.13 99.66h4.3M521.22 99.83h4.3M521.32 99.63h4.3M521.41 99.81h4.3M521.51 99.79h4.3M521.60 99.60h4.3M521.69 99.73h4.3M521.79 99.50h4.3M521.88 99.48h4.3M521.98 99.74h4.3M522.07 99.44h4.3M522.17 99.68h4.3M522.26 99.72h4.3M522.36 99.63h4.3M522.45 99.55h4.3M522.55 99.48h4.3M522.64 99.65h4.3M522.74 99.67h4.3M522.83 99.73h4.3M522.93 99.65h4.3M523.02 99.72h4.3M523.12 99.73h4.3M523.21 99.73h4.3M523.31 99.84h4.3M523.40 100.09h4.3M523.49 100.13h4.3M523.59 100.04h4.3M523.68 100.14h4.3M523.78 100.15h4.3M523.87 100.19h4.3M523.97 100.18h4.3M524.06 100.31h4.3M524.16 100.23h4.3M524.25 100.25h4.3M524.35 100.26h4.3M524.44 100.38h4.3M524.54 100.56h4.3M524.63 100.32h4.3M524.73 100.66h4.3M524.82 100.71h4.3M524.92 100.70h4.3M525.01 100.73h4.3M525.11 100.56h4.3M525.20 100.69h4.3M525.29 100.64h4.3M525.39 100.81h4.3M525.48 100.83h4.3M525.58 100.84h4.3M525.67 101.11h4.3M525.77 100.92h4.3M525.86 101.14h4.3M525.96 100.95h4.3M526.05 100.95h4.3M526.15 101.06h4.3M526.24 101.10h4.3M526.34 101.18h4.3M526.43 101.05h4.3M526.53 101.31h4.3M526.62 101.48h4.3M526.72 101.18h4.3M526.81 101.50h4.3M526.90 101.36h4.3M527.00 101.30h4.3M527.09 101.60h4.3M527.19 101.71h4.3M527.28 101.65h4.3M527.38 101.72h4.3M527.47 101.77h4.3M527.57 101.80h4.3M527.66 101.69h4.3M527.76 101.73h4.3M527.85 101.61h4.3M527.95 101.91h4.3M528.04 102.00h4.3M528.14 102.05h4.3M528.23 102.08h4.3M528.33 101.91h4.3M528.42 102.05h4.3M528.52 101.93h4.3M528.61 102.14h4.3M528.70 101.90h4.3M528.80 101.87h4.3M528.89 101.94h4.3M528.99 101.99h4.3M529.08 101.97h4.3M529.18 102.11h4.3M529.27 102.22h4.3M529.37 102.15h4.3M529.46 102.32h4.3M529.56 102.02h4.3M529.65 101.97h4.3M529.75 102.10h4.3M529.84 102.26h4.3M529.94 102.07h4.3M530.03 102.01h4.3M530.13 102.13h4.3M530.22 102.38h4.3M530.32 102.14h4.3M530.41 102.10h4.3M530.50 102.16h4.3M530.60 102.25h4.3M530.69 102.37h4.3M530.79 102.32h4.3M530.88 102.41h4.3M530.98 102.25h4.3M531.07 102.17h4.3M531.17 102.17h4.3M531.26 102.12h4.3M531.36 102.35h4.3M531.45 102.25h4.3M531.55 102.28h4.3M531.64 102.30h4.3M531.74 102.18h4.3M531.83 102.34h4.3M531.93 102.26h4.3M532.02 102.28h4.3M532.12 102.60h4.3M532.21 102.35h4.3M532.30 102.60h4.3M532.40 102.56h4.3M532.49 102.57h4.3M532.59 102.88h4.3M532.68 102.76h4.3M532.78 103.00h4.3M532.87 102.79h4.3M532.97 103.00h4.3M533.06 102.96h4.3M533.16 103.26h4.3M533.25 103.05h4.3M533.35 103.21h4.3M533.44 103.57h4.3M533.54 103.49h4.3M533.63 103.55h4.3M533.73 103.58h4.3M533.82 103.92h4.3M533.91 103.99h4.3M534.01 103.88h4.3M534.10 103.97h4.3M534.20 103.91h4.3M534.29 104.12h4.3M534.39 104.11h4.3M534.48 104.36h4.3M534.58 104.38h4.3M534.67 104.68h4.3M534.77 104.70h4.3M534.86 104.85h4.3M534.96 104.91h4.3M535.05 104.83h4.3M535.15 105.03h4.3M535.24 105.08h4.3M535.34 105.22h4.3M535.43 105.18h4.3M535.53 105.60h4.3M535.62 105.74h4.3M535.71 105.84h4.3M535.81 105.63h4.3M535.90 105.69h4.3M536.00 105.96h4.3M536.09 106.21h4.3M536.19 106.21h4.3M536.28 106.33h4.3M536.38 106.18h4.3M536.47 106.27h4.3M536.57 106.73h4.3M536.66 106.63h4.3M536.76 106.71h4.3M536.85 106.80h4.3M536.95 106.87h4.3M537.04 106.94h4.3M537.14 106.91h4.3M537.23 107.07h4.3M537.33 107.14h4.3M537.42 107.18h4.3M537.51 107.40h4.3M537.61 107.59h4.3M537.70 107.78h4.3M537.80 107.81h4.3M537.89 107.92h4.3M537.99 107.82h4.3M538.08 108.04h4.3M538.18 107.93h4.3M538.27 108.08h4.3M538.37 108.16h4.3M538.46 108.35h4.3M538.56 108.58h4.3M538.65 108.27h4.3M538.75 108.39h4.3M538.84 108.56h4.3M538.94 108.71h4.3M539.03 108.80h4.3M539.13 108.58h4.3M539.22 108.52h4.3M539.31 108.91h4.3M539.41 108.59h4.3M539.50 108.72h4.3M539.60 108.65h4.3M539.69 108.61h4.3M539.79 108.83h4.3M539.88 108.75h4.3M539.98 108.70h4.3M540.07 108.69h4.3M540.17 108.91h4.3M540.26 108.90h4.3M540.36 108.57h4.3M540.45 108.89h4.3M540.55 108.62h4.3M540.64 108.64h4.3M540.74 108.74h4.3M540.83 108.80h4.3M540.92 108.77h4.3M541.02 108.59h4.3M541.11 108.94h4.3M541.21 108.85h4.3M541.30 108.80h4.3M541.40 108.94h4.3M541.49 108.95h4.3M541.59 108.79h4.3M541.68 108.72h4.3M541.78 108.81h4.3M541.87 108.85h4.3M541.97 108.56h4.3M542.06 108.83h4.3M542.16 108.74h4.3M542.25 108.79h4.3M542.35 108.60h4.3M542.44 108.57h4.3M542.54 108.77h4.3M542.63 108.67h4.3M542.72 108.88h4.3M542.82 108.96h4.3M542.91 108.82h4.3M543.01 108.98h4.3M543.10 108.75h4.3M543.20 108.82h4.3M543.29 108.86h4.3M543.39 108.92h4.3M543.48 108.84h4.3M543.58 109.06h4.3M543.67 109.15h4.3M543.77 109.40h4.3M543.86 109.23h4.3M543.96 109.26h4.3M544.05 109.62h4.3M544.15 109.61h4.3M544.24 109.42h4.3M544.34 109.57h4.3M544.43 109.67h4.3M544.52 109.95h4.3M544.62 109.84h4.3M544.71 110.18h4.3M544.81 110.18h4.3M544.90 110.33h4.3M545.00 110.41h4.3M545.09 110.42h4.3M545.19 110.45h4.3M545.28 110.69h4.3M545.38 110.48h4.3M545.47 110.71h4.3M545.57 110.77h4.3M545.66 110.75h4.3M545.76 110.93h4.3M545.85 110.87h4.3M545.95 111.11h4.3M546.04 110.98h4.3M546.14 111.28h4.3M546.23 111.31h4.3M546.32 111.52h4.3M546.42 111.46h4.3M546.51 111.56h4.3M546.61 111.60h4.3M546.70 111.74h4.3M546.80 111.77h4.3M546.89 111.97h4.3M546.99 112.01h4.3M547.08 112.04h4.3M547.18 111.83h4.3M547.27 111.92h4.3M547.37 112.28h4.3M547.46 112.40h4.3M547.56 112.19h4.3M547.65 112.53h4.3M547.75 112.28h4.3M547.84 112.52h4.3M547.93 112.53h4.3M548.03 112.87h4.3M548.12 112.63h4.3M548.22 112.82h4.3M548.31 113.08h4.3M548.41 113.07h4.3M548.50 113.25h4.3M548.60 113.20h4.3M548.69 113.10h4.3M548.79 113.27h4.3M548.88 113.48h4.3M548.98 113.49h4.3M549.07 113.78h4.3M549.17 113.68h4.3M549.26 113.70h4.3M549.36 113.84h4.3M549.45 113.83h4.3M549.55 113.88h4.3M549.64 113.93h4.3M549.73 114.05h4.3M549.83 114.34h4.3M549.92 114.18h4.3M550.02 114.44h4.3M550.11 114.34h4.3M550.21 114.42h4.3M550.30 114.69h4.3M550.40 114.67h4.3M550.49 114.61h4.3M550.59 114.61h4.3M550.68 115.01h4.3M550.78 114.85h4.3M550.87 115.13h4.3M550.97 115.26h4.3M551.06 115.16h4.3M551.16 115.25h4.3M551.25 115.24h4.3M551.35 115.62h4.3M551.44 115.48h4.3M551.53 115.81h4.3M551.63 115.69h4.3M551.72 115.86h4.3M551.82 116.24h4.3M551.91 116.22h4.3M552.01 116.30h4.3M552.10 116.52h4.3M552.20 116.77h4.3M552.29 117.27h4.3M552.39 117.18h4.3M552.48 117.39h4.3M552.58 117.64h4.3M552.67 117.96h4.3M552.77 118.18h4.3M552.86 118.55h4.3M552.96 118.75h4.3M553.05 119.07h4.3M553.15 119.42h4.3M553.24 119.69h4.3M553.33 119.78h4.3M553.43 120.16h4.3M553.52 120.72h4.3M553.62 121.02h4.3M553.71 121.26h4.3M553.81 121.90h4.3M554.25 122.14h3.6M554.35 122.46h3.6M554.44 122.81h3.6M554.54 123.34h3.6M554.63 123.66h3.6M554.73 124.11h3.6M554.82 124.60h3.6M554.92 125.14h3.6M555.01 125.80h3.6M555.11 126.62h3.6M555.20 127.58h3.6M555.29 128.32h3.6M555.39 129.05h3.6M555.48 130.04h3.6M555.58 131.14h3.6M555.67 131.80h3.6M555.77 132.62h3.6M555.86 133.39h3.6M555.96 134.40h3.6M556.05 135.16h3.6M556.15 135.98h3.6M556.24 136.63h3.6M556.34 137.46h3.6M556.43 137.97h3.6M556.53 138.88h3.6M556.62 139.57h3.6M556.72 140.41h3.6M556.81 141.25h3.6M556.91 141.70h3.6M557.00 142.79h3.6M557.09 143.41h3.6M557.19 143.96h3.6M557.28 144.85h3.6M557.38 145.70h3.6M557.47 146.57h3.6M557.57 147.27h3.6M557.66 147.96h3.6M557.76 148.77h3.6M557.85 149.32h3.6M557.95 150.34h3.6M558.04 150.81h3.6M558.14 151.74h3.6M558.23 152.28h3.6M558.33 153.35h3.6M558.42 153.80h3.6M558.52 154.86h3.6M558.65 155.56h3.5M558.86 156.25h3.3M559.07 156.92h3.1M560.10 146.07h3.6M560.19 145.15h3.6M560.29 144.33h3.6M560.38 143.35h3.6M560.48 142.45h3.6M560.57 141.76h3.6M560.67 141.03h3.6M560.76 140.01h3.6M560.86 139.46h3.6M560.95 138.62h3.6M561.05 137.61h3.6M561.14 136.89h3.6M561.24 136.34h3.6M561.33 135.76h3.6M561.43 134.69h3.6M561.52 134.29h3.6M561.62 133.48h3.6M561.71 132.71h3.6M561.80 131.95h3.6M561.90 131.24h3.6M561.99 130.62h3.6M562.09 129.44h3.6M562.18 128.78h3.6M562.28 127.88h3.6M562.37 127.11h3.6M562.47 126.43h3.6M562.56 125.91h3.6M562.66 125.29h3.6M562.75 124.58h3.6M562.85 124.23h3.6M562.94 123.80h3.6M563.04 123.10h3.6M563.13 122.54h3.6M563.22 122.28h3.6M562.97 121.86h4.3M563.06 121.30h4.3M563.16 120.79h4.3M563.25 120.79h4.3M563.35 120.42h4.3M563.44 120.06h4.3M563.54 120.15h4.3M563.63 119.62h4.3M563.73 119.51h4.3M563.82 119.57h4.3M563.92 119.28h4.3M564.01 119.10h4.3M564.11 118.94h4.3M564.20 118.82h4.3M564.30 118.70h4.3M564.39 118.55h4.3M564.48 118.60h4.3M564.58 118.42h4.3M564.67 118.52h4.3M564.77 118.41h4.3M564.86 118.44h4.3M564.96 118.35h4.3M565.05 118.37h4.3M565.15 118.64h4.3M565.24 118.69h4.3M565.34 118.82h4.3M565.43 118.51h4.3M565.53 118.92h4.3M565.62 118.95h4.3M565.72 118.95h4.3M565.81 119.24h4.3M565.90 119.30h4.3M566.00 119.37h4.3M566.09 119.49h4.3M566.19 119.59h4.3M566.28 119.83h4.3M566.38 119.81h4.3M566.47 119.88h4.3M566.57 119.94h4.3M566.66 120.19h4.3M566.76 120.14h4.3M566.85 120.51h4.3M566.95 120.48h4.3M567.04 120.78h4.3M567.14 120.95h4.3M567.23 120.90h4.3M567.33 121.26h4.3M567.42 121.17h4.3M567.51 121.18h4.3M567.61 121.63h4.3M567.70 121.48h4.3M567.80 121.61h4.3M567.89 121.57h4.3M567.99 121.87h4.3M568.08 122.11h4.3M568.18 121.98h4.3M568.27 122.05h4.3M568.37 122.21h4.3M568.46 122.37h4.3M568.56 122.39h4.3M568.65 122.53h4.3M568.75 122.36h4.3M568.84 122.73h4.3M568.93 122.86h4.3M569.03 122.55h4.3M569.12 122.87h4.3M569.22 122.71h4.3M569.31 122.94h4.3M569.41 122.98h4.3M569.50 123.24h4.3M569.60 123.12h4.3M569.69 123.38h4.3M569.79 123.41h4.3M569.88 123.59h4.3M569.98 123.57h4.3M570.07 123.60h4.3M570.17 123.51h4.3M570.26 123.57h4.3M570.36 123.72h4.3M570.45 123.95h4.3M570.54 123.99h4.3M570.64 123.90h4.3M570.73 123.92h4.3M570.83 124.20h4.3M570.92 124.31h4.3M571.02 124.32h4.3M571.11 124.19h4.3M571.21 124.48h4.3M571.30 124.54h4.3M571.40 124.61h4.3M571.49 124.57h4.3M571.59 124.75h4.3M571.68 124.82h4.3M571.78 124.94h4.3M571.87 124.85h4.3M571.96 125.28h4.3M572.06 125.11h4.3M572.15 125.35h4.3M572.25 125.31h4.3M572.34 125.34h4.3M572.44 125.39h4.3M572.53 125.63h4.3M572.63 125.59h4.3M572.72 125.95h4.3M572.82 126.15h4.3M572.91 125.96h4.3M573.01 126.17h4.3M573.10 126.19h4.3M573.20 126.19h4.3M573.29 126.54h4.3M573.39 126.69h4.3M573.48 126.69h4.3M573.57 126.84h4.3M573.67 127.00h4.3M573.76 127.13h4.3M573.86 127.29h4.3M573.95 127.36h4.3M574.05 127.72h4.3M574.14 127.92h4.3M574.24 128.01h4.3M574.33 127.99h4.3M574.43 128.20h4.3M574.52 128.50h4.3M574.62 128.60h4.3M574.71 128.86h4.3M574.81 129.30h4.3M574.90 129.20h4.3M574.99 129.51h4.3M575.09 129.74h4.3M575.18 130.07h4.3M575.28 130.39h4.3M575.37 130.52h4.3M575.47 130.70h4.3M575.56 130.91h4.3M575.66 131.03h4.3M575.75 131.18h4.3M575.85 131.56h4.3M575.94 131.65h4.3M576.04 131.71h4.3M576.13 132.17h4.3M576.23 132.31h4.3M576.32 132.32h4.3M576.42 132.64h4.3M576.51 132.70h4.3M576.60 133.15h4.3M576.70 133.38h4.3M576.79 133.56h4.3M576.89 133.52h4.3M576.98 133.66h4.3M577.08 133.82h4.3M577.17 133.83h4.3M577.27 134.09h4.3M577.36 134.44h4.3M577.46 134.48h4.3M577.55 134.61h4.3M577.65 134.90h4.3M577.74 134.81h4.3M577.84 134.97h4.3M577.93 135.19h4.3M578.02 135.30h4.3M578.12 135.70h4.3M578.21 135.86h4.3M578.31 135.84h4.3M578.40 135.93h4.3M578.50 135.97h4.3M578.59 136.44h4.3M578.69 136.31h4.3M578.78 136.59h4.3M578.88 136.71h4.3M578.97 136.62h4.3M579.07 136.96h4.3M579.16 137.01h4.3M579.26 137.22h4.3M579.35 137.54h4.3M579.45 137.60h4.3M579.54 137.75h4.3M579.63 137.88h4.3M579.73 137.87h4.3M579.82 138.13h4.3M579.92 138.19h4.3M580.01 138.45h4.3M580.11 138.58h4.3M580.20 138.57h4.3M580.30 138.66h4.3M580.39 139.03h4.3M580.49 138.96h4.3M580.58 139.09h4.3M580.68 139.19h4.3M580.77 139.61h4.3M580.87 139.71h4.3M580.96 139.55h4.3M581.05 139.72h4.3M581.15 139.93h4.3M581.24 140.18h4.3M581.34 140.48h4.3M581.43 140.41h4.3M581.53 140.52h4.3M581.62 140.72h4.3M581.72 140.74h4.3M581.81 140.99h4.3M581.91 141.14h4.3M582.00 141.43h4.3M582.10 141.37h4.3M582.19 141.49h4.3M582.29 141.86h4.3M582.38 141.62h4.3M582.48 142.09h4.3M582.57 142.12h4.3M582.66 142.25h4.3M582.76 142.29h4.3M582.85 142.62h4.3M582.95 142.79h4.3M583.04 142.92h4.3M583.14 142.96h4.3M583.23 142.94h4.3M583.33 143.16h4.3M583.42 143.19h4.3M583.52 143.49h4.3M583.61 143.69h4.3M583.71 143.66h4.3M583.80 144.04h4.3M583.90 144.00h4.3M583.99 144.26h4.3M584.08 144.31h4.3M584.18 144.59h4.3M584.27 144.72h4.3M584.37 144.77h4.3M584.46 144.76h4.3M584.56 144.83h4.3M584.65 145.29h4.3M584.75 145.22h4.3M584.84 145.50h4.3M584.94 145.62h4.3M585.03 145.61h4.3M585.13 145.98h4.3M585.22 145.88h4.3M585.32 146.30h4.3M585.41 146.14h4.3M585.51 146.41h4.3M585.60 146.77h4.3M585.69 146.82h4.3M585.79 146.85h4.3M585.88 146.90h4.3M585.98 147.22h4.3M586.07 147.59h4.3M586.17 147.66h4.3M586.26 147.59h4.3M586.36 147.91h4.3M586.45 148.17h4.3M586.55 148.28h4.3M586.64 148.37h4.3M586.74 148.63h4.3M586.83 148.63h4.3M586.93 148.74h4.3M587.02 149.11h4.3M587.11 149.23h4.3M587.21 149.48h4.3M587.30 149.69h4.3M587.40 149.83h4.3M587.49 149.87h4.3M587.59 149.97h4.3M587.68 150.44h4.3M587.78 150.36h4.3M587.87 150.77h4.3M587.97 150.70h4.3M588.06 151.02h4.3M588.16 151.05h4.3M588.25 151.35h4.3M588.35 151.52h4.3M588.44 151.70h4.3M588.54 151.61h4.3M588.63 151.99h4.3M588.72 152.30h4.3M588.82 152.31h4.3M588.91 152.42h4.3M589.01 152.47h4.3M589.10 152.60h4.3M589.20 152.77h4.3M589.29 153.00h4.3M589.39 153.14h4.3M589.48 153.41h4.3M589.58 153.62h4.3M589.67 153.74h4.3M589.77 153.91h4.3M589.86 154.13h4.3M589.96 154.25h4.3M590.05 154.31h4.3M590.14 154.54h4.3M590.24 154.57h4.3M590.33 154.91h4.3M590.43 155.20h4.3M590.52 155.20h4.3M590.62 155.12h4.3M590.71 155.61h4.3M590.81 155.44h4.3M590.90 155.61h4.3M591.00 155.78h4.3M591.09 156.14h4.3M591.19 156.30h4.3M591.28 156.10h4.3M591.38 156.46h4.3M591.47 156.36h4.3M591.57 156.77h4.3M591.66 156.63h4.3M591.75 157.13h4.3M591.85 157.08h4.3M591.94 157.11h4.3M592.04 157.32h4.3M592.13 157.37h4.3M592.23 157.58h4.3M592.32 157.82h4.3M592.42 157.76h4.3M592.51 158.17h4.3M592.61 158.23h4.3M592.70 158.25h4.3M592.80 158.42h4.3M592.89 158.68h4.3M592.99 158.59h4.3M593.08 158.86h4.3M593.17 158.99h4.3M593.27 159.29h4.3M593.36 159.11h4.3M593.46 159.30h4.3M593.55 159.60h4.3M593.65 159.56h4.3M593.74 159.74h4.3M593.84 159.88h4.3M593.93 160.27h4.3M594.03 160.22h4.3M594.12 160.43h4.3M594.22 160.60h4.3M594.31 160.60h4.3M594.41 160.68h4.3M594.50 160.86h4.3M594.60 161.14h4.3M594.69 161.47h4.3M594.78 161.61h4.3M594.88 161.64h4.3M594.97 161.69h4.3M595.07 161.78h4.3M595.16 161.98h4.3M595.26 162.39h4.3M595.35 162.50h4.3M595.45 162.57h4.3M595.54 162.78h4.3M595.64 162.84h4.3M595.73 163.19h4.3M595.83 163.42h4.3M595.92 163.54h4.3M596.02 163.61h4.3M596.11 163.68h4.3M596.20 163.82h4.3M596.30 164.11h4.3M596.39 164.20h4.3M596.49 164.46h4.3M596.58 164.70h4.3M596.68 164.74h4.3M596.77 164.97h4.3M596.87 165.16h4.3M596.96 165.46h4.3M597.06 165.58h4.3M597.15 165.65h4.3M597.25 165.62h4.3M597.34 165.97h4.3M597.44 166.04h4.3M597.53 166.17h4.3M597.63 166.48h4.3M597.72 166.73h4.3M597.81 167.02h4.3M597.91 167.02h4.3M598.00 167.22h4.3M598.10 167.47h4.3M598.19 167.52h4.3M598.29 167.79h4.3M598.38 167.77h4.3M598.48 168.17h4.3M598.57 168.30h4.3M598.67 168.46h4.3M598.76 168.62h4.3M598.86 168.90h4.3M598.95 168.73h4.3M599.05 169.22h4.3M599.14 169.33h4.3M599.23 169.39h4.3M599.33 169.73h4.3M599.42 169.78h4.3M599.52 169.85h4.3M599.61 170.14h4.3M599.71 170.39h4.3M599.80 170.47h4.3M599.90 170.60h4.3M599.99 170.73h4.3M600.09 170.91h4.3M600.18 170.94h4.3M600.28 171.10h4.3M600.37 171.39h4.3M600.47 171.70h4.3M600.56 171.76h4.3M600.66 171.93h4.3M600.75 171.92h4.3M600.84 172.46h4.3M600.94 172.31h4.3M601.03 172.53h4.3M601.13 172.93h4.3M601.22 172.85h4.3M601.32 173.26h4.3M601.41 173.35h4.3M601.51 173.32h4.3M601.60 173.66h4.3M601.70 173.61h4.3M601.79 174.07h4.3M601.89 174.12h4.3M601.98 174.32h4.3M602.08 174.56h4.3M602.17 174.53h4.3M602.26 174.59h4.3M602.36 174.99h4.3M602.45 175.05h4.3M602.55 175.22h4.3M602.64 175.54h4.3M602.74 175.47h4.3M602.83 175.62h4.3M602.93 175.96h4.3M603.02 176.14h4.3M603.12 176.25h4.3M603.21 176.28h4.3M603.31 176.57h4.3M603.40 176.93h4.3M603.50 177.06h4.3M603.59 177.01h4.3M603.69 177.38h4.3M603.78 177.51h4.3M603.87 177.83h4.3M603.97 177.78h4.3M604.06 178.05h4.3M604.16 178.21h4.3M604.25 178.49h4.3M604.35 178.58h4.3M604.44 178.62h4.3M604.54 178.85h4.3M604.63 179.12h4.3M604.73 179.16h4.3M604.82 179.29h4.3M604.92 179.79h4.3M605.01 179.90h4.3M605.11 179.85h4.3M605.20 180.08h4.3M605.29 180.19h4.3M605.39 180.70h4.3M605.48 180.60h4.3M605.58 180.71h4.3M605.67 181.18h4.3M605.77 181.28h4.3M605.86 181.21h4.3M605.96 181.51h4.3M606.05 181.63h4.3M606.15 181.99h4.3M606.24 182.19h4.3M606.34 182.36h4.3M606.43 182.38h4.3M606.53 182.79h4.3M606.62 182.80h4.3M606.72 183.16h4.3M606.81 183.43h4.3M606.90 183.59h4.3M607.00 183.75h4.3M607.09 183.78h4.3M607.19 184.18h4.3M607.28 184.20h4.3M607.38 184.71h4.3M607.47 184.89h4.3M607.57 184.80h4.3M607.66 185.20h4.3M607.76 185.55h4.3M607.85 185.51h4.3M607.95 185.63h4.3M608.04 186.11h4.3M608.14 186.38h4.3M608.23 186.68h4.3M608.32 186.70h4.3M608.42 187.04h4.3M608.51 187.24h4.3M608.61 187.46h4.3M608.70 187.65h4.3M608.80 188.21h4.3M608.89 188.37h4.3M608.99 188.46h4.3M609.08 188.85h4.3M609.18 189.09h4.3M609.27 189.24h4.3M609.37 189.66h4.3M609.46 189.80h4.3M609.56 190.10h4.3M609.65 190.68h4.3M609.75 190.92h4.3M609.84 191.17h4.3M609.93 191.42h4.3M610.03 191.51h4.3M610.12 191.80h4.3M610.22 192.20h4.3M610.31 192.46h4.3M610.41 192.79h4.3M610.50 193.01h4.3M610.60 193.18h4.3M610.69 193.47h4.3M610.79 193.79h4.3M610.88 193.87h4.3M610.98 194.05h4.3M611.07 194.40h4.3M611.17 194.79h4.3M611.26 194.91h4.3M611.35 194.99h4.3M611.45 195.40h4.3M611.54 195.68h4.3M611.64 195.86h4.3M611.73 196.15h4.3M611.83 196.09h4.3M611.92 196.61h4.3M612.02 196.92h4.3M612.11 197.12h4.3M612.21 197.30h4.3M612.30 197.28h4.3M612.40 197.76h4.3M612.49 197.77h4.3M612.59 198.39h4.3M612.68 198.26h4.3M612.78 198.64h4.3M612.87 199.10h4.3M612.96 199.08h4.3M613.06 199.34h4.3M613.15 199.60h4.3M613.25 200.11h4.3M613.34 200.30h4.3M613.44 200.33h4.3M613.53 200.82h4.3M613.63 201.08h4.3M613.72 201.36h4.3M613.82 201.73h4.3M613.91 201.93h4.3M614.01 202.14h4.3M614.10 202.48h4.3M614.20 202.74h4.3M614.29 202.93h4.3M614.38 203.53h4.3M614.48 203.55h4.3M614.57 203.83h4.3M614.67 204.25h4.3M614.76 204.54h4.3"/>
<path class="mk2" d="M53.00 242.75v4.2M53.09 242.67v4.2M53.19 242.19v4.2M53.28 241.49v4.2M53.38 241.03v4.2M53.47 240.39v4.2M53.57 239.75v4.2M53.66 239.00v4.2M53.76 237.86v4.2M53.85 236.94v4.2M53.95 236.34v4.2M54.04 235.27v4.2M54.14 234.48v4.2M54.23 233.24v4.2M54.33 232.45v4.2M54.42 231.58v4.2M54.52 230.37v4.2M54.61 229.60v4.2M54.71 228.49v4.2M54.80 227.00v4.2M54.89 225.81v4.2M54.99 224.76v4.2M55.08 223.56v4.2M55.18 221.83v4.2M55.27 220.13v4.2M55.37 218.50v4.2M55.46 216.57v4.2M55.56 214.87v4.2M55.65 213.18v4.2M55.75 211.48v4.2M55.84 209.74v4.2M55.94 208.21v4.2M56.03 206.73v4.2M56.13 205.37v4.2M56.22 203.87v4.2M56.32 202.36v4.2M56.41 201.30v4.2M56.51 199.82v4.2M56.60 198.50v4.2M617.01 203.10v4.2M617.10 203.31v4.2M617.20 203.65v4.2M617.29 204.02v4.2M617.39 204.65v4.2M617.48 204.82v4.2M617.58 205.27v4.2M617.67 205.70v4.2M617.77 206.23v4.2M617.86 206.43v4.2M617.96 206.81v4.2M618.05 207.50v4.2M618.14 207.78v4.2M618.24 208.30v4.2M618.33 208.52v4.2M618.43 208.99v4.2M618.52 209.43v4.2M618.62 210.12v4.2M618.71 210.46v4.2M618.81 210.83v4.2M618.90 211.17v4.2M619.00 211.54v4.2M619.09 212.20v4.2M619.19 212.46v4.2M619.28 213.02v4.2M619.38 213.52v4.2M619.47 214.09v4.2M619.56 214.19v4.2M619.66 214.66v4.2M619.75 215.35v4.2M619.85 215.60v4.2M619.94 216.32v4.2M620.04 216.66v4.2M620.13 217.33v4.2M620.23 217.77v4.2M620.32 218.21v4.2M620.42 218.75v4.2M620.51 219.05v4.2M620.61 219.45v4.2M620.70 220.06v4.2M620.80 220.54v4.2M620.89 221.16v4.2M620.99 221.51v4.2M621.08 222.34v4.2M621.17 222.87v4.2M621.27 223.27v4.2M621.36 223.78v4.2M621.46 224.30v4.2M621.55 224.72v4.2M621.65 225.27v4.2M621.74 225.90v4.2M621.84 226.32v4.2M621.93 226.89v4.2M622.03 227.76v4.2M622.12 228.20v4.2M622.22 228.82v4.2M622.31 229.43v4.2M622.41 229.98v4.2M622.50 230.53v4.2M622.59 231.28v4.2M622.69 231.97v4.2M622.78 232.26v4.2M622.88 233.04v4.2M622.97 233.73v4.2M623.16 235.03v4.2M623.26 235.83v4.2M623.45 237.26v4.2M623.54 237.89v4.2M623.73 239.54v4.2M623.83 240.19v4.2M624.02 241.60v4.2M624.11 242.66v4.2M624.30 243.99v4.2M624.39 244.83v4.2M624.58 246.75v4.2M624.68 247.90v4.2M624.87 249.88v4.2M624.96 250.62v4.2M625.15 253.07v4.2M625.25 254.42v4.2M625.44 256.59v4.2M625.53 257.97v4.2M625.72 260.38v4.2M625.81 261.66v4.2M626.00 263.71v4.2M626.10 264.86v4.2M626.29 267.08v4.2M626.38 268.49v4.2M626.57 270.84v4.2M626.67 272.15v4.2M626.86 275.17v4.2M626.95 276.55v4.2M627.14 279.83v4.2M627.23 281.33v4.2M627.42 284.18v4.2M627.52 285.94v4.2M627.71 288.98v4.2M627.80 291.02v4.2M627.99 295.44v4.2M628.09 297.64v4.2M628.28 301.48v4.2M628.37 303.51v4.2M628.56 306.56v4.2M628.65 308.56v4.2M628.84 312.21v4.2M628.94 314.27v4.2M629.13 318.64v4.2M629.22 320.16v4.2M629.41 322.42v4.2M629.51 323.07v4.2M629.70 324.93v4.2M629.79 325.37v4.2M629.98 326.90v4.2M630.08 327.48v4.2M630.26 328.62v4.2M630.36 329.52v4.2M630.55 330.86v4.2M630.64 331.79v4.2M630.83 333.01v4.2M630.93 333.77v4.2M631.12 335.45v4.2M631.21 336.24v4.2M631.40 337.58v4.2M631.50 338.32v4.2M631.59 338.64v4.2M631.68 339.34v4.2M631.78 340.12v4.2M631.87 340.64v4.2M631.97 341.11v4.2M632.06 341.75v4.2M632.16 342.32v4.2M632.25 342.65v4.2M632.35 343.02v4.2M632.44 343.58v4.2M632.54 343.96v4.2M632.63 344.41v4.2M632.73 344.94v4.2M632.82 345.18v4.2M632.92 345.59v4.2M633.01 346.11v4.2M633.11 346.39v4.2M633.20 346.90v4.2"/>
<path class="mh2" d="M51.50 244.85h3.6M51.59 244.77h3.6M51.69 244.29h3.6M51.78 243.59h3.6M51.88 243.13h3.6M51.97 242.49h3.6M52.07 241.85h3.6M52.16 241.10h3.6M52.26 239.96h3.6M52.35 239.04h3.6M52.45 238.44h3.6M52.54 237.37h3.6M52.64 236.58h3.6M52.73 235.34h3.6M52.83 234.55h3.6M52.92 233.68h3.6M53.02 232.47h3.6M53.11 231.70h3.6M53.21 230.59h3.6M53.30 229.10h3.6M53.39 227.91h3.6M53.49 226.86h3.6M53.58 225.66h3.6M53.68 223.93h3.6M53.77 222.23h3.6M53.87 220.60h3.6M53.96 218.67h3.6M54.06 216.97h3.6M54.15 215.28h3.6M54.25 213.58h3.6M54.34 211.84h3.6M54.44 210.31h3.6M54.53 208.83h3.6M54.63 207.47h3.6M54.72 205.97h3.6M54.82 204.46h3.6M54.91 203.40h3.6M55.01 201.92h3.6M55.10 200.60h3.6M614.86 205.20h4.3M614.96 205.41h4.3M615.06 205.75h4.3M615.16 206.12h4.3M615.26 206.75h4.3M615.36 206.92h4.3M615.46 207.37h4.2M615.56 207.80h4.2M615.66 208.33h4.2M615.75 208.53h4.2M615.85 208.91h4.2M615.96 209.60h4.2M616.06 209.88h4.2M616.16 210.40h4.2M616.25 210.62h4.2M616.35 211.09h4.1M616.46 211.53h4.1M616.56 212.22h4.1M616.66 212.56h4.1M616.76 212.93h4.1M616.86 213.27h4.1M616.95 213.64h4.1M617.06 214.30h4.1M617.16 214.56h4.1M617.26 215.12h4.0M617.36 215.62h4.0M617.46 216.19h4.0M617.56 216.29h4.0M617.66 216.76h4.0M617.76 217.45h4.0M617.86 217.70h4.0M617.96 218.42h4.0M618.06 218.76h4.0M618.16 219.43h3.9M618.26 219.87h3.9M618.36 220.31h3.9M618.47 220.85h3.9M618.56 221.15h3.9M618.66 221.55h3.9M618.77 222.16h3.9M618.87 222.64h3.9M618.97 223.26h3.8M619.07 223.61h3.8M619.17 224.44h3.8M619.27 224.97h3.8M619.37 225.37h3.8M619.48 225.88h3.8M619.58 226.40h3.8M619.68 226.82h3.8M619.78 227.37h3.7M619.88 228.00h3.7M619.98 228.42h3.7M620.08 228.99h3.7M620.19 229.86h3.7M620.29 230.30h3.7M620.39 230.92h3.7M620.49 231.53h3.6M620.59 232.08h3.6M620.70 232.63h3.6M620.80 233.38h3.6M620.90 234.07h3.6M621.00 234.36h3.6M621.11 235.14h3.5M621.21 235.83h3.5M621.41 237.13h3.5M621.52 237.93h3.5M621.73 239.36h3.4M621.83 239.99h3.4M621.53 241.64h4.4M621.63 242.29h4.4M621.82 243.70h4.4M621.91 244.76h4.4M622.10 246.09h4.4M622.19 246.93h4.4M622.38 248.85h4.4M622.48 250.00h4.4M622.67 251.98h4.4M622.76 252.72h4.4M622.95 255.17h4.4M623.05 256.52h4.4M623.24 258.69h4.4M623.33 260.07h4.4M623.52 262.48h4.4M623.61 263.76h4.4M623.80 265.81h4.4M623.90 266.96h4.4M624.09 269.18h4.4M624.18 270.59h4.4M624.37 272.94h4.4M624.47 274.25h4.4M624.66 277.27h4.4M624.75 278.65h4.4M624.94 281.93h4.4M625.03 283.43h4.4M625.22 286.28h4.4M625.32 288.04h4.4M625.51 291.08h4.4M625.60 293.12h4.4M625.79 297.54h4.4M625.89 299.74h4.4M626.08 303.58h4.4M626.17 305.61h4.4M626.36 308.66h4.4M626.45 310.66h4.4M626.64 314.31h4.4M626.74 316.37h4.4M626.93 320.74h4.4M627.02 322.26h4.4M627.21 324.52h4.4M627.31 325.17h4.4M627.50 327.03h4.4M627.59 327.47h4.4M627.78 329.00h4.4M627.88 329.58h4.4M628.06 330.72h4.4M628.16 331.62h4.4M628.35 332.96h4.4M628.44 333.89h4.4M628.63 335.11h4.4M628.73 335.87h4.4M628.92 337.55h4.4M629.01 338.34h4.4M629.20 339.68h4.4M629.30 340.42h4.4M629.39 340.74h4.4M629.48 341.44h4.4M629.58 342.22h4.4M629.67 342.74h4.4M629.77 343.21h4.4M629.86 343.85h4.4M629.96 344.42h4.4M630.05 344.75h4.4M630.15 345.12h4.4M630.24 345.68h4.4M630.34 346.06h4.4M630.43 346.51h4.4M630.53 347.04h4.4M630.62 347.28h4.4M630.72 347.69h4.4M630.81 348.21h4.4M630.91 348.49h4.4M631.00 349.00h4.4"/>
<text class="yl" x="47.2" y="83.1" text-anchor="end">-2.0</text>
<text class="yl" x="47.2" y="158.8" text-anchor="end">-2.5</text>
<text class="yl" x="47.2" y="234.5" text-anchor="end">-3.0</text>
<text class="yl" x="47.2" y="310.1" text-anchor="end">-3.5</text>
<text x="33.7" y="375" textLength="31.6" lengthAdjust="spacing">10000</text>
<text x="90.4" y="375" textLength="31.6" lengthAdjust="spacing">10100</text>
<text x="118.8" y="375" textLength="31.6" lengthAdjust="spacing">10150</text>
<text x="175.6" y="375" textLength="31.6" lengthAdjust="spacing">10250</text>
<text x="232.3" y="375" textLength="31.6" lengthAdjust="spacing">10350</text>
<text x="260.7" y="375" textLength="31.6" lengthAdjust="spacing">10400</text>
<text x="317.4" y="375" textLength="31.6" lengthAdjust="spacing">10500</text>
<text x="374.1" y="375" textLength="31.6" lengthAdjust="spacing">10600</text>
<text x="402.5" y="375" textLength="31.6" lengthAdjust="spacing">10650</text>
<text x="459.2" y="375" textLength="31.6" lengthAdjust="spacing">10750</text>
<text x="487.6" y="375" textLength="31.6" lengthAdjust="spacing">10800</text>
<text x="544.4" y="375" textLength="31.6" lengthAdjust="spacing">10900</text>
<text x="601.1" y="375" textLength="31.6" lengthAdjust="spacing">11000</text>
<text class="pl" x="60.5" y="351.6" textLength="44" lengthAdjust="spacing">IF 1(RR)</text>
<text class="pl" x="133.1" y="351.6" textLength="44" lengthAdjust="spacing">IF 2(RR)</text>
<text class="pl" x="205.8" y="351.6" textLength="44" lengthAdjust="spacing">IF 3(RR)</text>
<text class="pl" x="278.4" y="351.6" textLength="44" lengthAdjust="spacing">IF 4(RR)</text>
<text class="pl" x="351.0" y="351.6" textLength="44" lengthAdjust="spacing">IF 5(RR)</text>
<text class="pl" x="423.6" y="351.6" textLength="44" lengthAdjust="spacing">IF 6(RR)</text>
<text class="pl" x="496.2" y="351.6" textLength="44" lengthAdjust="spacing">IF 7(RR)</text>
<text class="pl" x="568.9" y="351.6" textLength="44" lengthAdjust="spacing">IF 8(RR)</text>
<text x="285.8" y="387.2" textLength="59.6" lengthAdjust="spacing">FREQ MHz</text>
<text x="52.5" y="398.8" textLength="217.5" lengthAdjust="spacing">Scalar averaged cross-power spectrum</text>
<text x="283.8" y="398.8" textLength="151.2" lengthAdjust="spacing">Several baselines averaged</text>
<text transform="translate(18.3 214.3) rotate(-90)" textLength="81.5" lengthAdjust="spacing">Log10(Amp) Jy</text>
</svg></body></html>
